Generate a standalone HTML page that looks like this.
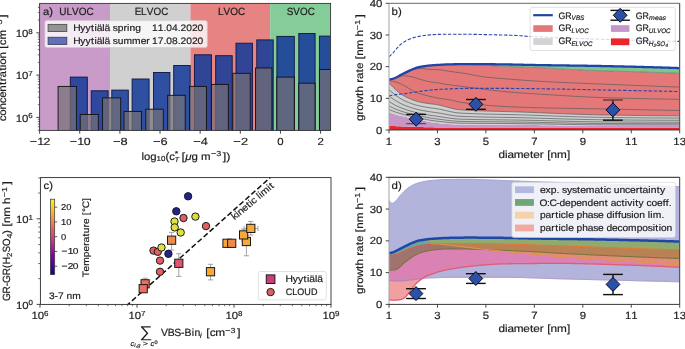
<!DOCTYPE html>
<html><head><meta charset="utf-8"><style>
html,body{margin:0;padding:0;background:#fff;width:685px;height:349px;overflow:hidden}
svg{display:block}
text{font-family:"Liberation Sans",sans-serif}
svg{-webkit-font-smoothing:antialiased;text-rendering:geometricPrecision}
.g{opacity:0.999}
</style></head><body>
<svg width="685" height="349" viewBox="0 0 685 349" style="will-change:transform">
<clipPath id="ca"><rect x="39.6" y="3.4" width="291.00" height="127.00"/></clipPath>
<g clip-path="url(#ca)">
<rect x="39.6" y="3.4" width="70.40" height="127.00" fill="#c99bc9"/>
<rect x="110.0" y="3.4" width="80.40" height="127.00" fill="#d0d0d0"/>
<rect x="190.4" y="3.4" width="79.80" height="127.00" fill="#e68383"/>
<rect x="270.2" y="3.4" width="60.40" height="127.00" fill="#84cc98"/>
<rect x="70.30" y="77.1" width="17.00" height="55.30" fill="rgb(24,60,154)" fill-opacity="0.88" stroke="#0d1540" stroke-width="0.9"/>
<rect x="91.20" y="90.8" width="16.90" height="41.60" fill="rgb(24,60,154)" fill-opacity="0.88" stroke="#0d1540" stroke-width="0.9"/>
<rect x="111.80" y="90.1" width="16.50" height="42.30" fill="rgb(24,60,154)" fill-opacity="0.88" stroke="#0d1540" stroke-width="0.9"/>
<rect x="132.10" y="79.0" width="17.00" height="53.40" fill="rgb(24,60,154)" fill-opacity="0.88" stroke="#0d1540" stroke-width="0.9"/>
<rect x="153.50" y="72.5" width="16.40" height="59.90" fill="rgb(24,60,154)" fill-opacity="0.88" stroke="#0d1540" stroke-width="0.9"/>
<rect x="173.70" y="65.5" width="16.50" height="66.90" fill="rgb(24,60,154)" fill-opacity="0.88" stroke="#0d1540" stroke-width="0.9"/>
<rect x="194.40" y="54.8" width="17.00" height="77.60" fill="rgb(24,60,154)" fill-opacity="0.88" stroke="#0d1540" stroke-width="0.9"/>
<rect x="215.70" y="55.7" width="16.50" height="76.70" fill="rgb(24,60,154)" fill-opacity="0.88" stroke="#0d1540" stroke-width="0.9"/>
<rect x="236.00" y="43.2" width="16.40" height="89.20" fill="rgb(24,60,154)" fill-opacity="0.88" stroke="#0d1540" stroke-width="0.9"/>
<rect x="256.80" y="39.9" width="16.40" height="92.50" fill="rgb(24,60,154)" fill-opacity="0.88" stroke="#0d1540" stroke-width="0.9"/>
<rect x="276.90" y="36.4" width="17.40" height="96.00" fill="rgb(24,60,154)" fill-opacity="0.88" stroke="#0d1540" stroke-width="0.9"/>
<rect x="298.80" y="33.5" width="16.30" height="98.90" fill="rgb(24,60,154)" fill-opacity="0.88" stroke="#0d1540" stroke-width="0.9"/>
<rect x="319.40" y="36.1" width="17.60" height="96.30" fill="rgb(24,60,154)" fill-opacity="0.88" stroke="#0d1540" stroke-width="0.9"/>
<rect x="58.10" y="86.4" width="18.30" height="46.00" fill="rgb(118,112,118)" fill-opacity="0.72" stroke="#111" stroke-width="0.9"/>
<rect x="80.20" y="114.5" width="18.10" height="17.90" fill="rgb(118,112,118)" fill-opacity="0.72" stroke="#111" stroke-width="0.9"/>
<rect x="102.60" y="97.9" width="18.10" height="34.50" fill="rgb(118,112,118)" fill-opacity="0.72" stroke="#111" stroke-width="0.9"/>
<rect x="124.00" y="111.4" width="17.40" height="21.00" fill="rgb(118,112,118)" fill-opacity="0.72" stroke="#111" stroke-width="0.9"/>
<rect x="145.80" y="109.2" width="17.50" height="23.20" fill="rgb(118,112,118)" fill-opacity="0.72" stroke="#111" stroke-width="0.9"/>
<rect x="167.70" y="95.3" width="17.50" height="37.10" fill="rgb(118,112,118)" fill-opacity="0.72" stroke="#111" stroke-width="0.9"/>
<rect x="189.60" y="86.4" width="16.80" height="46.00" fill="rgb(118,112,118)" fill-opacity="0.72" stroke="#111" stroke-width="0.9"/>
<rect x="211.40" y="84.4" width="16.90" height="48.00" fill="rgb(118,112,118)" fill-opacity="0.72" stroke="#111" stroke-width="0.9"/>
<rect x="232.80" y="73.3" width="17.40" height="59.10" fill="rgb(118,112,118)" fill-opacity="0.72" stroke="#111" stroke-width="0.9"/>
<rect x="255.50" y="68.0" width="16.40" height="64.40" fill="rgb(118,112,118)" fill-opacity="0.72" stroke="#111" stroke-width="0.9"/>
<rect x="276.80" y="77.1" width="17.50" height="55.30" fill="rgb(118,112,118)" fill-opacity="0.72" stroke="#111" stroke-width="0.9"/>
<rect x="298.80" y="83.2" width="16.30" height="49.20" fill="rgb(118,112,118)" fill-opacity="0.72" stroke="#111" stroke-width="0.9"/>
<rect x="319.50" y="69.5" width="17.50" height="62.90" fill="rgb(118,112,118)" fill-opacity="0.72" stroke="#111" stroke-width="0.9"/>
</g>
<rect x="39.6" y="3.4" width="291.00" height="127.00" fill="none" stroke="#333" stroke-width="0.9"/>
<line x1="39.60" y1="130.4" x2="39.60" y2="133.70000000000002" stroke="#333" stroke-width="0.9"/>
<text x="25.03 31.36 36.71" y="144.70" font-size="10.45" fill="#1c1c1c" stroke="#1c1c1c" stroke-width="0.17" transform="scale(1.1849,1)">−12</text>
<line x1="79.74" y1="130.4" x2="79.74" y2="133.70000000000002" stroke="#333" stroke-width="0.9"/>
<text x="58.91 65.24 70.58" y="144.70" font-size="10.45" fill="#1c1c1c" stroke="#1c1c1c" stroke-width="0.17" transform="scale(1.1849,1)">−10</text>
<line x1="119.88" y1="130.4" x2="119.88" y2="133.70000000000002" stroke="#333" stroke-width="0.9"/>
<text x="91.73 97.84" y="144.70" font-size="10.45" fill="#1c1c1c" stroke="#1c1c1c" stroke-width="0.16" transform="scale(1.2314,1)">−8</text>
<line x1="160.02" y1="130.4" x2="160.02" y2="133.70000000000002" stroke="#333" stroke-width="0.9"/>
<text x="124.33 130.43" y="144.70" font-size="10.45" fill="#1c1c1c" stroke="#1c1c1c" stroke-width="0.16" transform="scale(1.2314,1)">−6</text>
<line x1="200.16" y1="130.4" x2="200.16" y2="133.70000000000002" stroke="#333" stroke-width="0.9"/>
<text x="156.93 163.03" y="144.70" font-size="10.45" fill="#1c1c1c" stroke="#1c1c1c" stroke-width="0.16" transform="scale(1.2314,1)">−4</text>
<line x1="240.30" y1="130.4" x2="240.30" y2="133.70000000000002" stroke="#333" stroke-width="0.9"/>
<text x="189.53 195.63" y="144.70" font-size="10.45" fill="#1c1c1c" stroke="#1c1c1c" stroke-width="0.16" transform="scale(1.2314,1)">−2</text>
<line x1="280.44" y1="130.4" x2="280.44" y2="133.70000000000002" stroke="#333" stroke-width="0.9"/>
<text x="254.50" y="144.70" font-size="10.45" fill="#1c1c1c" stroke="#1c1c1c" stroke-width="0.18" transform="scale(1.0895,1)">0</text>
<line x1="320.58" y1="130.4" x2="320.58" y2="133.70000000000002" stroke="#333" stroke-width="0.9"/>
<text x="291.34" y="144.70" font-size="10.45" fill="#1c1c1c" stroke="#1c1c1c" stroke-width="0.18" transform="scale(1.0895,1)">2</text>
<line x1="36.300000000000004" y1="117.40" x2="39.6" y2="117.40" stroke="#333" stroke-width="0.9"/>
<g><text x="14.42 20.23" y="121.70" font-size="10.45" fill="#1c1c1c" stroke="#1c1c1c" stroke-width="0.18" transform="scale(1.0895,1)">10</text><text x="26.04" y="118.10" font-size="7.31" fill="#1c1c1c" stroke="#1c1c1c" stroke-width="0.18" transform="scale(1.0895,1)">6</text></g>
<line x1="36.300000000000004" y1="75.10" x2="39.6" y2="75.10" stroke="#333" stroke-width="0.9"/>
<g><text x="14.42 20.23" y="79.40" font-size="10.45" fill="#1c1c1c" stroke="#1c1c1c" stroke-width="0.18" transform="scale(1.0895,1)">10</text><text x="26.04" y="75.80" font-size="7.31" fill="#1c1c1c" stroke="#1c1c1c" stroke-width="0.18" transform="scale(1.0895,1)">7</text></g>
<line x1="36.300000000000004" y1="32.80" x2="39.6" y2="32.80" stroke="#333" stroke-width="0.9"/>
<g><text x="14.42 20.23" y="37.10" font-size="10.45" fill="#1c1c1c" stroke="#1c1c1c" stroke-width="0.18" transform="scale(1.0895,1)">10</text><text x="26.04" y="33.50" font-size="7.31" fill="#1c1c1c" stroke="#1c1c1c" stroke-width="0.18" transform="scale(1.0895,1)">8</text></g>
<line x1="37.800000000000004" y1="130.13" x2="39.6" y2="130.13" stroke="#333" stroke-width="0.7"/>
<line x1="37.800000000000004" y1="126.78" x2="39.6" y2="126.78" stroke="#333" stroke-width="0.7"/>
<line x1="37.800000000000004" y1="123.95" x2="39.6" y2="123.95" stroke="#333" stroke-width="0.7"/>
<line x1="37.800000000000004" y1="121.50" x2="39.6" y2="121.50" stroke="#333" stroke-width="0.7"/>
<line x1="37.800000000000004" y1="119.34" x2="39.6" y2="119.34" stroke="#333" stroke-width="0.7"/>
<line x1="37.800000000000004" y1="104.67" x2="39.6" y2="104.67" stroke="#333" stroke-width="0.7"/>
<line x1="37.800000000000004" y1="97.22" x2="39.6" y2="97.22" stroke="#333" stroke-width="0.7"/>
<line x1="37.800000000000004" y1="91.93" x2="39.6" y2="91.93" stroke="#333" stroke-width="0.7"/>
<line x1="37.800000000000004" y1="87.83" x2="39.6" y2="87.83" stroke="#333" stroke-width="0.7"/>
<line x1="37.800000000000004" y1="84.48" x2="39.6" y2="84.48" stroke="#333" stroke-width="0.7"/>
<line x1="37.800000000000004" y1="81.65" x2="39.6" y2="81.65" stroke="#333" stroke-width="0.7"/>
<line x1="37.800000000000004" y1="79.20" x2="39.6" y2="79.20" stroke="#333" stroke-width="0.7"/>
<line x1="37.800000000000004" y1="77.04" x2="39.6" y2="77.04" stroke="#333" stroke-width="0.7"/>
<line x1="37.800000000000004" y1="62.37" x2="39.6" y2="62.37" stroke="#333" stroke-width="0.7"/>
<line x1="37.800000000000004" y1="54.92" x2="39.6" y2="54.92" stroke="#333" stroke-width="0.7"/>
<line x1="37.800000000000004" y1="49.63" x2="39.6" y2="49.63" stroke="#333" stroke-width="0.7"/>
<line x1="37.800000000000004" y1="45.53" x2="39.6" y2="45.53" stroke="#333" stroke-width="0.7"/>
<line x1="37.800000000000004" y1="42.18" x2="39.6" y2="42.18" stroke="#333" stroke-width="0.7"/>
<line x1="37.800000000000004" y1="39.35" x2="39.6" y2="39.35" stroke="#333" stroke-width="0.7"/>
<line x1="37.800000000000004" y1="36.90" x2="39.6" y2="36.90" stroke="#333" stroke-width="0.7"/>
<line x1="37.800000000000004" y1="34.74" x2="39.6" y2="34.74" stroke="#333" stroke-width="0.7"/>
<line x1="37.800000000000004" y1="20.07" x2="39.6" y2="20.07" stroke="#333" stroke-width="0.7"/>
<line x1="37.800000000000004" y1="12.62" x2="39.6" y2="12.62" stroke="#333" stroke-width="0.7"/>
<line x1="37.800000000000004" y1="7.33" x2="39.6" y2="7.33" stroke="#333" stroke-width="0.7"/>
<text x="40.15 45.96" y="14.90" font-size="10.45" fill="#1c1c1c" stroke="#1c1c1c" stroke-width="0.19" transform="scale(1.0742,1)">a)</text>
<text x="61.96 69.54 75.42 82.49 90.51" y="14.90" font-size="10.45" fill="#1c1c1c" stroke="#1c1c1c" stroke-width="0.21" transform="scale(0.9560,1)">ULVOC</text>
<text x="142.73 149.58 155.54 162.72 170.84" y="14.90" font-size="10.45" fill="#1c1c1c" stroke="#1c1c1c" stroke-width="0.21" transform="scale(0.9434,1)">ELVOC</text>
<text x="228.51 234.41 241.51 249.55" y="14.90" font-size="10.45" fill="#1c1c1c" stroke="#1c1c1c" stroke-width="0.21" transform="scale(0.9536,1)">LVOC</text>
<text x="304.21 311.17 318.36 326.49" y="14.90" font-size="10.45" fill="#1c1c1c" stroke="#1c1c1c" stroke-width="0.21" transform="scale(0.9424,1)">SVOC</text>
<rect x="44.9" y="20.6" width="162.4" height="27" rx="2" fill="#fff" fill-opacity="0.8" stroke="#ccc" stroke-width="0.6"/>
<rect x="48.1" y="24.4" width="18.7" height="7.1" fill="#949496" stroke="#505050" stroke-width="0.9"/>
<rect x="48.1" y="37.3" width="18.7" height="7.1" fill="#6270b8" stroke="#404060" stroke-width="0.9"/>
<text x="66.81 73.33 78.15 83.21 86.20 88.27 93.46 95.53 100.63 103.01 107.46 112.77 116.10 118.25 123.42" y="31.10" font-size="9.38" fill="#1c1c1c" stroke="#1c1c1c" stroke-width="0.18" transform="scale(1.0950,1)">Hyytiälä spring</text>
<text x="139.64 144.86 150.07 152.68 157.89 163.11 165.71 170.93 176.14 181.36" y="31.10" font-size="9.38" fill="#1c1c1c" stroke="#1c1c1c" stroke-width="0.18" transform="scale(1.0895,1)">11.04.2020</text>
<text x="66.84 73.37 78.20 83.25 86.25 88.31 93.51 95.58 100.68 103.06 107.51 112.77 120.72 128.51 133.74" y="43.90" font-size="9.38" fill="#1c1c1c" stroke="#1c1c1c" stroke-width="0.18" transform="scale(1.0944,1)">Hyytiälä summer</text>
<text x="139.64 144.86 150.07 152.68 157.89 163.11 165.71 170.93 176.14 181.36" y="43.90" font-size="9.38" fill="#1c1c1c" stroke="#1c1c1c" stroke-width="0.18" transform="scale(1.0895,1)">17.08.2020</text>
<g><text x="130.09 132.41 138.11" y="159.50" font-size="10.45" fill="#1c1c1c" stroke="#1c1c1c" stroke-width="0.18" transform="scale(1.0879,1)">log</text><text x="143.71 147.77" y="161.30" font-size="7.31" fill="#1c1c1c" stroke="#1c1c1c" stroke-width="0.18" transform="scale(1.0895,1)">10</text><text x="154.00 157.48" y="159.50" font-size="10.45" fill="#1c1c1c" stroke="#1c1c1c" stroke-width="0.19" transform="scale(1.0747,1)">(c</text><text x="142.83" y="155.50" font-size="7.31" fill="#1c1c1c" stroke="#1c1c1c" stroke-width="0.16" transform="scale(1.2237,1)">*</text><text x="183.52" y="161.70" font-size="7.31" fill="#1c1c1c" stroke="#1c1c1c" stroke-width="0.21" font-style="italic" transform="scale(0.9524,1)">T</text><text x="145.17" y="159.50" font-size="10.45" fill="#1c1c1c" stroke="#1c1c1c" stroke-width="0.16" transform="scale(1.2500,1)">[</text><text x="167.47" y="159.50" font-size="10.45" fill="#1c1c1c" stroke="#1c1c1c" stroke-width="0.18" font-style="italic" transform="scale(1.1060,1)">μ</text><text x="173.98 179.74 182.67" y="159.50" font-size="10.45" fill="#1c1c1c" stroke="#1c1c1c" stroke-width="0.18" transform="scale(1.1008,1)">g m</text><text x="171.36 175.63" y="155.90" font-size="7.31" fill="#1c1c1c" stroke="#1c1c1c" stroke-width="0.16" transform="scale(1.2314,1)">−3</text><text x="183.11 186.01" y="159.50" font-size="10.45" fill="#1c1c1c" stroke="#1c1c1c" stroke-width="0.16" transform="scale(1.2166,1)">])</text></g>
<g transform="rotate(-90 6.00 67.60)"><text x="-43.06 -38.13 -32.52 -26.90 -21.94 -16.32 -10.25 -6.92 -3.48 2.50 5.81 8.07 13.68 19.42 22.60 25.67 30.80" y="67.60" font-size="10.45" fill="#1c1c1c" stroke="#1c1c1c" stroke-width="0.18" transform="scale(1.1051,1)">concentration [cm</text><text x="35.71 39.98" y="64.00" font-size="7.31" fill="#1c1c1c" stroke="#1c1c1c" stroke-width="0.16" transform="scale(1.2314,1)">−3</text><text x="44.54" y="67.60" font-size="10.45" fill="#1c1c1c" stroke="#1c1c1c" stroke-width="0.16" transform="scale(1.2500,1)">]</text></g>
<clipPath id="cb"><rect x="389.0" y="3.3" width="290.70" height="126.70"/></clipPath>
<g clip-path="url(#cb)">
<path d="M389.0,125.80 L390.0,125.85 L391.0,125.91 L392.0,125.96 L393.0,126.01 L394.0,126.06 L395.0,126.11 L396.0,126.16 L397.0,126.20 L398.0,126.25 L399.0,126.29 L400.0,126.34 L401.0,126.38 L402.0,126.42 L403.0,126.46 L404.0,126.50 L405.0,126.54 L406.0,126.58 L407.0,126.61 L408.0,126.65 L409.0,126.68 L410.0,126.71 L411.0,126.75 L412.0,126.78 L413.0,126.81 L414.0,126.84 L415.0,126.87 L416.0,126.90 L417.0,126.93 L418.0,126.96 L419.0,126.99 L420.0,127.02 L421.0,127.05 L422.0,127.08 L423.0,127.11 L424.0,127.13 L425.0,127.16 L426.0,127.19 L427.0,127.22 L428.0,127.24 L429.0,127.27 L430.0,127.29 L431.0,127.31 L432.0,127.33 L433.0,127.35 L434.0,127.37 L435.0,127.39 L436.0,127.40 L437.0,127.41 L438.0,127.43 L439.0,127.44 L440.0,127.45 L441.0,127.46 L442.0,127.47 L443.0,127.49 L444.0,127.50 L445.0,127.51 L446.0,127.52 L447.0,127.53 L448.0,127.54 L449.0,127.55 L450.0,127.56 L451.0,127.56 L452.0,127.57 L453.0,127.58 L454.0,127.58 L455.0,127.59 L456.0,127.59 L457.0,127.60 L458.0,127.60 L459.0,127.60 L460.0,127.60 L461.0,127.60 L462.0,127.60 L463.0,127.60 L464.0,127.60 L465.0,127.60 L466.0,127.60 L467.0,127.60 L468.0,127.60 L469.0,127.60 L470.0,127.60 L471.0,127.60 L472.0,127.60 L473.0,127.60 L474.0,127.60 L475.0,127.60 L476.0,127.60 L477.0,127.60 L478.0,127.60 L479.0,127.60 L480.0,127.60 L481.0,127.60 L482.0,127.60 L483.0,127.60 L484.0,127.60 L485.0,127.60 L486.0,127.60 L487.0,127.60 L488.0,127.60 L489.0,127.60 L490.0,127.60 L491.0,127.60 L492.0,127.60 L493.0,127.60 L494.0,127.60 L495.0,127.60 L496.0,127.60 L497.0,127.60 L498.0,127.60 L499.0,127.60 L500.0,127.60 L501.0,127.60 L502.0,127.60 L503.0,127.60 L504.0,127.60 L505.0,127.60 L506.0,127.60 L507.0,127.60 L508.0,127.60 L509.0,127.60 L510.0,127.60 L511.0,127.60 L512.0,127.60 L513.0,127.60 L514.0,127.60 L515.0,127.60 L516.0,127.60 L517.0,127.60 L518.0,127.60 L519.0,127.60 L520.0,127.60 L521.0,127.60 L522.0,127.60 L523.0,127.60 L524.0,127.60 L525.0,127.60 L526.0,127.60 L527.0,127.60 L528.0,127.60 L529.0,127.60 L530.0,127.60 L531.0,127.60 L532.0,127.60 L533.0,127.60 L534.0,127.60 L535.0,127.60 L536.0,127.60 L537.0,127.60 L538.0,127.60 L539.0,127.60 L540.0,127.60 L541.0,127.60 L542.0,127.59 L543.0,127.59 L544.0,127.59 L545.0,127.59 L546.0,127.59 L547.0,127.59 L548.0,127.59 L549.0,127.59 L550.0,127.59 L551.0,127.59 L552.0,127.59 L553.0,127.59 L554.0,127.59 L555.0,127.59 L556.0,127.59 L557.0,127.59 L558.0,127.59 L559.0,127.59 L560.0,127.59 L561.0,127.59 L562.0,127.59 L563.0,127.59 L564.0,127.59 L565.0,127.59 L566.0,127.59 L567.0,127.59 L568.0,127.59 L569.0,127.59 L570.0,127.59 L571.0,127.59 L572.0,127.59 L573.0,127.59 L574.0,127.59 L575.0,127.59 L576.0,127.59 L577.0,127.58 L578.0,127.58 L579.0,127.58 L580.0,127.58 L581.0,127.58 L582.0,127.58 L583.0,127.58 L584.0,127.58 L585.0,127.58 L586.0,127.58 L587.0,127.58 L588.0,127.58 L589.0,127.58 L590.0,127.58 L591.0,127.58 L592.0,127.58 L593.0,127.58 L594.0,127.58 L595.0,127.58 L596.0,127.58 L597.0,127.58 L598.0,127.58 L599.0,127.57 L600.0,127.57 L601.0,127.57 L602.0,127.57 L603.0,127.57 L604.0,127.57 L605.0,127.57 L606.0,127.57 L607.0,127.57 L608.0,127.57 L609.0,127.57 L610.0,127.57 L611.0,127.57 L612.0,127.57 L613.0,127.57 L614.0,127.57 L615.0,127.57 L616.0,127.56 L617.0,127.56 L618.0,127.56 L619.0,127.56 L620.0,127.56 L621.0,127.56 L622.0,127.56 L623.0,127.56 L624.0,127.56 L625.0,127.56 L626.0,127.56 L627.0,127.56 L628.0,127.56 L629.0,127.55 L630.0,127.55 L631.0,127.55 L632.0,127.55 L633.0,127.55 L634.0,127.55 L635.0,127.55 L636.0,127.55 L637.0,127.55 L638.0,127.55 L639.0,127.55 L640.0,127.55 L641.0,127.54 L642.0,127.54 L643.0,127.54 L644.0,127.54 L645.0,127.54 L646.0,127.54 L647.0,127.54 L648.0,127.54 L649.0,127.54 L650.0,127.54 L651.0,127.53 L652.0,127.53 L653.0,127.53 L654.0,127.53 L655.0,127.53 L656.0,127.53 L657.0,127.53 L658.0,127.53 L659.0,127.53 L660.0,127.52 L661.0,127.52 L662.0,127.52 L663.0,127.52 L664.0,127.52 L665.0,127.52 L666.0,127.52 L667.0,127.52 L668.0,127.52 L669.0,127.51 L670.0,127.51 L671.0,127.51 L672.0,127.51 L673.0,127.51 L674.0,127.51 L675.0,127.51 L676.0,127.51 L677.0,127.50 L678.0,127.50 L679.0,127.50 L679.0,132.00 L678.0,132.00 L677.0,132.00 L676.0,132.00 L675.0,132.00 L674.0,132.00 L673.0,132.00 L672.0,132.00 L671.0,132.00 L670.0,132.00 L669.0,132.00 L668.0,132.00 L667.0,132.00 L666.0,132.00 L665.0,132.00 L664.0,132.00 L663.0,132.00 L662.0,132.00 L661.0,132.00 L660.0,132.00 L659.0,132.00 L658.0,132.00 L657.0,132.00 L656.0,132.00 L655.0,132.00 L654.0,132.00 L653.0,132.00 L652.0,132.00 L651.0,132.00 L650.0,132.00 L649.0,132.00 L648.0,132.00 L647.0,132.00 L646.0,132.00 L645.0,132.00 L644.0,132.00 L643.0,132.00 L642.0,132.00 L641.0,132.00 L640.0,132.00 L639.0,132.00 L638.0,132.00 L637.0,132.00 L636.0,132.00 L635.0,132.00 L634.0,132.00 L633.0,132.00 L632.0,132.00 L631.0,132.00 L630.0,132.00 L629.0,132.00 L628.0,132.00 L627.0,132.00 L626.0,132.00 L625.0,132.00 L624.0,132.00 L623.0,132.00 L622.0,132.00 L621.0,132.00 L620.0,132.00 L619.0,132.00 L618.0,132.00 L617.0,132.00 L616.0,132.00 L615.0,132.00 L614.0,132.00 L613.0,132.00 L612.0,132.00 L611.0,132.00 L610.0,132.00 L609.0,132.00 L608.0,132.00 L607.0,132.00 L606.0,132.00 L605.0,132.00 L604.0,132.00 L603.0,132.00 L602.0,132.00 L601.0,132.00 L600.0,132.00 L599.0,132.00 L598.0,132.00 L597.0,132.00 L596.0,132.00 L595.0,132.00 L594.0,132.00 L593.0,132.00 L592.0,132.00 L591.0,132.00 L590.0,132.00 L589.0,132.00 L588.0,132.00 L587.0,132.00 L586.0,132.00 L585.0,132.00 L584.0,132.00 L583.0,132.00 L582.0,132.00 L581.0,132.00 L580.0,132.00 L579.0,132.00 L578.0,132.00 L577.0,132.00 L576.0,132.00 L575.0,132.00 L574.0,132.00 L573.0,132.00 L572.0,132.00 L571.0,132.00 L570.0,132.00 L569.0,132.00 L568.0,132.00 L567.0,132.00 L566.0,132.00 L565.0,132.00 L564.0,132.00 L563.0,132.00 L562.0,132.00 L561.0,132.00 L560.0,132.00 L559.0,132.00 L558.0,132.00 L557.0,132.00 L556.0,132.00 L555.0,132.00 L554.0,132.00 L553.0,132.00 L552.0,132.00 L551.0,132.00 L550.0,132.00 L549.0,132.00 L548.0,132.00 L547.0,132.00 L546.0,132.00 L545.0,132.00 L544.0,132.00 L543.0,132.00 L542.0,132.00 L541.0,132.00 L540.0,132.00 L539.0,132.00 L538.0,132.00 L537.0,132.00 L536.0,132.00 L535.0,132.00 L534.0,132.00 L533.0,132.00 L532.0,132.00 L531.0,132.00 L530.0,132.00 L529.0,132.00 L528.0,132.00 L527.0,132.00 L526.0,132.00 L525.0,132.00 L524.0,132.00 L523.0,132.00 L522.0,132.00 L521.0,132.00 L520.0,132.00 L519.0,132.00 L518.0,132.00 L517.0,132.00 L516.0,132.00 L515.0,132.00 L514.0,132.00 L513.0,132.00 L512.0,132.00 L511.0,132.00 L510.0,132.00 L509.0,132.00 L508.0,132.00 L507.0,132.00 L506.0,132.00 L505.0,132.00 L504.0,132.00 L503.0,132.00 L502.0,132.00 L501.0,132.00 L500.0,132.00 L499.0,132.00 L498.0,132.00 L497.0,132.00 L496.0,132.00 L495.0,132.00 L494.0,132.00 L493.0,132.00 L492.0,132.00 L491.0,132.00 L490.0,132.00 L489.0,132.00 L488.0,132.00 L487.0,132.00 L486.0,132.00 L485.0,132.00 L484.0,132.00 L483.0,132.00 L482.0,132.00 L481.0,132.00 L480.0,132.00 L479.0,132.00 L478.0,132.00 L477.0,132.00 L476.0,132.00 L475.0,132.00 L474.0,132.00 L473.0,132.00 L472.0,132.00 L471.0,132.00 L470.0,132.00 L469.0,132.00 L468.0,132.00 L467.0,132.00 L466.0,132.00 L465.0,132.00 L464.0,132.00 L463.0,132.00 L462.0,132.00 L461.0,132.00 L460.0,132.00 L459.0,132.00 L458.0,132.00 L457.0,132.00 L456.0,132.00 L455.0,132.00 L454.0,132.00 L453.0,132.00 L452.0,132.00 L451.0,132.00 L450.0,132.00 L449.0,132.00 L448.0,132.00 L447.0,132.00 L446.0,132.00 L445.0,132.00 L444.0,132.00 L443.0,132.00 L442.0,132.00 L441.0,132.00 L440.0,132.00 L439.0,132.00 L438.0,132.00 L437.0,132.00 L436.0,132.00 L435.0,132.00 L434.0,132.00 L433.0,132.00 L432.0,132.00 L431.0,132.00 L430.0,132.00 L429.0,132.00 L428.0,132.00 L427.0,132.00 L426.0,132.00 L425.0,132.00 L424.0,132.00 L423.0,132.00 L422.0,132.00 L421.0,132.00 L420.0,132.00 L419.0,132.00 L418.0,132.00 L417.0,132.00 L416.0,132.00 L415.0,132.00 L414.0,132.00 L413.0,132.00 L412.0,132.00 L411.0,132.00 L410.0,132.00 L409.0,132.00 L408.0,132.00 L407.0,132.00 L406.0,132.00 L405.0,132.00 L404.0,132.00 L403.0,132.00 L402.0,132.00 L401.0,132.00 L400.0,132.00 L399.0,132.00 L398.0,132.00 L397.0,132.00 L396.0,132.00 L395.0,132.00 L394.0,132.00 L393.0,132.00 L392.0,132.00 L391.0,132.00 L390.0,132.00 L389.0,132.00 Z" fill="#e8262b"/>
<path d="M389.0,112.40 L390.0,112.76 L391.0,113.12 L392.0,113.46 L393.0,113.79 L394.0,114.11 L395.0,114.40 L396.0,114.68 L397.0,114.94 L398.0,115.20 L399.0,115.44 L400.0,115.68 L401.0,115.91 L402.0,116.14 L403.0,116.37 L404.0,116.60 L405.0,116.83 L406.0,117.06 L407.0,117.29 L408.0,117.51 L409.0,117.74 L410.0,117.96 L411.0,118.17 L412.0,118.39 L413.0,118.60 L414.0,118.81 L415.0,119.01 L416.0,119.22 L417.0,119.42 L418.0,119.61 L419.0,119.81 L420.0,120.00 L421.0,120.19 L422.0,120.39 L423.0,120.60 L424.0,120.81 L425.0,121.01 L426.0,121.22 L427.0,121.42 L428.0,121.62 L429.0,121.82 L430.0,122.01 L431.0,122.19 L432.0,122.35 L433.0,122.51 L434.0,122.66 L435.0,122.79 L436.0,122.90 L437.0,123.00 L438.0,123.11 L439.0,123.21 L440.0,123.31 L441.0,123.41 L442.0,123.51 L443.0,123.60 L444.0,123.69 L445.0,123.78 L446.0,123.87 L447.0,123.95 L448.0,124.03 L449.0,124.11 L450.0,124.18 L451.0,124.25 L452.0,124.31 L453.0,124.36 L454.0,124.42 L455.0,124.46 L456.0,124.50 L457.0,124.54 L458.0,124.56 L459.0,124.59 L460.0,124.60 L461.0,124.61 L462.0,124.62 L463.0,124.63 L464.0,124.64 L465.0,124.65 L466.0,124.66 L467.0,124.66 L468.0,124.67 L469.0,124.68 L470.0,124.69 L471.0,124.69 L472.0,124.70 L473.0,124.71 L474.0,124.71 L475.0,124.72 L476.0,124.72 L477.0,124.73 L478.0,124.73 L479.0,124.74 L480.0,124.74 L481.0,124.75 L482.0,124.75 L483.0,124.75 L484.0,124.76 L485.0,124.76 L486.0,124.76 L487.0,124.77 L488.0,124.77 L489.0,124.77 L490.0,124.78 L491.0,124.78 L492.0,124.78 L493.0,124.79 L494.0,124.79 L495.0,124.79 L496.0,124.80 L497.0,124.80 L498.0,124.80 L499.0,124.80 L500.0,124.81 L501.0,124.81 L502.0,124.81 L503.0,124.82 L504.0,124.82 L505.0,124.82 L506.0,124.83 L507.0,124.83 L508.0,124.84 L509.0,124.84 L510.0,124.84 L511.0,124.85 L512.0,124.85 L513.0,124.86 L514.0,124.86 L515.0,124.87 L516.0,124.87 L517.0,124.88 L518.0,124.89 L519.0,124.89 L520.0,124.90 L521.0,124.91 L522.0,124.92 L523.0,124.92 L524.0,124.93 L525.0,124.94 L526.0,124.95 L527.0,124.96 L528.0,124.97 L529.0,124.98 L530.0,124.99 L531.0,125.01 L532.0,125.02 L533.0,125.03 L534.0,125.04 L535.0,125.06 L536.0,125.07 L537.0,125.08 L538.0,125.10 L539.0,125.11 L540.0,125.13 L541.0,125.14 L542.0,125.16 L543.0,125.17 L544.0,125.19 L545.0,125.20 L546.0,125.22 L547.0,125.23 L548.0,125.25 L549.0,125.27 L550.0,125.28 L551.0,125.30 L552.0,125.32 L553.0,125.33 L554.0,125.35 L555.0,125.36 L556.0,125.38 L557.0,125.40 L558.0,125.41 L559.0,125.43 L560.0,125.45 L561.0,125.46 L562.0,125.48 L563.0,125.50 L564.0,125.51 L565.0,125.53 L566.0,125.54 L567.0,125.56 L568.0,125.58 L569.0,125.59 L570.0,125.61 L571.0,125.62 L572.0,125.64 L573.0,125.65 L574.0,125.66 L575.0,125.68 L576.0,125.69 L577.0,125.71 L578.0,125.72 L579.0,125.73 L580.0,125.74 L581.0,125.76 L582.0,125.77 L583.0,125.78 L584.0,125.79 L585.0,125.80 L586.0,125.81 L587.0,125.82 L588.0,125.83 L589.0,125.84 L590.0,125.85 L591.0,125.86 L592.0,125.86 L593.0,125.87 L594.0,125.88 L595.0,125.88 L596.0,125.89 L597.0,125.89 L598.0,125.89 L599.0,125.90 L600.0,125.90 L601.0,125.90 L602.0,125.90 L603.0,125.91 L604.0,125.91 L605.0,125.91 L606.0,125.91 L607.0,125.92 L608.0,125.92 L609.0,125.92 L610.0,125.92 L611.0,125.92 L612.0,125.93 L613.0,125.93 L614.0,125.93 L615.0,125.93 L616.0,125.93 L617.0,125.94 L618.0,125.94 L619.0,125.94 L620.0,125.94 L621.0,125.94 L622.0,125.94 L623.0,125.95 L624.0,125.95 L625.0,125.95 L626.0,125.95 L627.0,125.95 L628.0,125.96 L629.0,125.96 L630.0,125.96 L631.0,125.96 L632.0,125.96 L633.0,125.96 L634.0,125.96 L635.0,125.97 L636.0,125.97 L637.0,125.97 L638.0,125.97 L639.0,125.97 L640.0,125.97 L641.0,125.97 L642.0,125.98 L643.0,125.98 L644.0,125.98 L645.0,125.98 L646.0,125.98 L647.0,125.98 L648.0,125.98 L649.0,125.98 L650.0,125.98 L651.0,125.99 L652.0,125.99 L653.0,125.99 L654.0,125.99 L655.0,125.99 L656.0,125.99 L657.0,125.99 L658.0,125.99 L659.0,125.99 L660.0,125.99 L661.0,125.99 L662.0,125.99 L663.0,125.99 L664.0,126.00 L665.0,126.00 L666.0,126.00 L667.0,126.00 L668.0,126.00 L669.0,126.00 L670.0,126.00 L671.0,126.00 L672.0,126.00 L673.0,126.00 L674.0,126.00 L675.0,126.00 L676.0,126.00 L677.0,126.00 L678.0,126.00 L679.0,126.00 L679.0,127.50 L678.0,127.50 L677.0,127.50 L676.0,127.51 L675.0,127.51 L674.0,127.51 L673.0,127.51 L672.0,127.51 L671.0,127.51 L670.0,127.51 L669.0,127.51 L668.0,127.52 L667.0,127.52 L666.0,127.52 L665.0,127.52 L664.0,127.52 L663.0,127.52 L662.0,127.52 L661.0,127.52 L660.0,127.52 L659.0,127.53 L658.0,127.53 L657.0,127.53 L656.0,127.53 L655.0,127.53 L654.0,127.53 L653.0,127.53 L652.0,127.53 L651.0,127.53 L650.0,127.54 L649.0,127.54 L648.0,127.54 L647.0,127.54 L646.0,127.54 L645.0,127.54 L644.0,127.54 L643.0,127.54 L642.0,127.54 L641.0,127.54 L640.0,127.55 L639.0,127.55 L638.0,127.55 L637.0,127.55 L636.0,127.55 L635.0,127.55 L634.0,127.55 L633.0,127.55 L632.0,127.55 L631.0,127.55 L630.0,127.55 L629.0,127.55 L628.0,127.56 L627.0,127.56 L626.0,127.56 L625.0,127.56 L624.0,127.56 L623.0,127.56 L622.0,127.56 L621.0,127.56 L620.0,127.56 L619.0,127.56 L618.0,127.56 L617.0,127.56 L616.0,127.56 L615.0,127.57 L614.0,127.57 L613.0,127.57 L612.0,127.57 L611.0,127.57 L610.0,127.57 L609.0,127.57 L608.0,127.57 L607.0,127.57 L606.0,127.57 L605.0,127.57 L604.0,127.57 L603.0,127.57 L602.0,127.57 L601.0,127.57 L600.0,127.57 L599.0,127.57 L598.0,127.58 L597.0,127.58 L596.0,127.58 L595.0,127.58 L594.0,127.58 L593.0,127.58 L592.0,127.58 L591.0,127.58 L590.0,127.58 L589.0,127.58 L588.0,127.58 L587.0,127.58 L586.0,127.58 L585.0,127.58 L584.0,127.58 L583.0,127.58 L582.0,127.58 L581.0,127.58 L580.0,127.58 L579.0,127.58 L578.0,127.58 L577.0,127.58 L576.0,127.59 L575.0,127.59 L574.0,127.59 L573.0,127.59 L572.0,127.59 L571.0,127.59 L570.0,127.59 L569.0,127.59 L568.0,127.59 L567.0,127.59 L566.0,127.59 L565.0,127.59 L564.0,127.59 L563.0,127.59 L562.0,127.59 L561.0,127.59 L560.0,127.59 L559.0,127.59 L558.0,127.59 L557.0,127.59 L556.0,127.59 L555.0,127.59 L554.0,127.59 L553.0,127.59 L552.0,127.59 L551.0,127.59 L550.0,127.59 L549.0,127.59 L548.0,127.59 L547.0,127.59 L546.0,127.59 L545.0,127.59 L544.0,127.59 L543.0,127.59 L542.0,127.59 L541.0,127.60 L540.0,127.60 L539.0,127.60 L538.0,127.60 L537.0,127.60 L536.0,127.60 L535.0,127.60 L534.0,127.60 L533.0,127.60 L532.0,127.60 L531.0,127.60 L530.0,127.60 L529.0,127.60 L528.0,127.60 L527.0,127.60 L526.0,127.60 L525.0,127.60 L524.0,127.60 L523.0,127.60 L522.0,127.60 L521.0,127.60 L520.0,127.60 L519.0,127.60 L518.0,127.60 L517.0,127.60 L516.0,127.60 L515.0,127.60 L514.0,127.60 L513.0,127.60 L512.0,127.60 L511.0,127.60 L510.0,127.60 L509.0,127.60 L508.0,127.60 L507.0,127.60 L506.0,127.60 L505.0,127.60 L504.0,127.60 L503.0,127.60 L502.0,127.60 L501.0,127.60 L500.0,127.60 L499.0,127.60 L498.0,127.60 L497.0,127.60 L496.0,127.60 L495.0,127.60 L494.0,127.60 L493.0,127.60 L492.0,127.60 L491.0,127.60 L490.0,127.60 L489.0,127.60 L488.0,127.60 L487.0,127.60 L486.0,127.60 L485.0,127.60 L484.0,127.60 L483.0,127.60 L482.0,127.60 L481.0,127.60 L480.0,127.60 L479.0,127.60 L478.0,127.60 L477.0,127.60 L476.0,127.60 L475.0,127.60 L474.0,127.60 L473.0,127.60 L472.0,127.60 L471.0,127.60 L470.0,127.60 L469.0,127.60 L468.0,127.60 L467.0,127.60 L466.0,127.60 L465.0,127.60 L464.0,127.60 L463.0,127.60 L462.0,127.60 L461.0,127.60 L460.0,127.60 L459.0,127.60 L458.0,127.60 L457.0,127.60 L456.0,127.59 L455.0,127.59 L454.0,127.58 L453.0,127.58 L452.0,127.57 L451.0,127.56 L450.0,127.56 L449.0,127.55 L448.0,127.54 L447.0,127.53 L446.0,127.52 L445.0,127.51 L444.0,127.50 L443.0,127.49 L442.0,127.47 L441.0,127.46 L440.0,127.45 L439.0,127.44 L438.0,127.43 L437.0,127.41 L436.0,127.40 L435.0,127.39 L434.0,127.37 L433.0,127.35 L432.0,127.33 L431.0,127.31 L430.0,127.29 L429.0,127.27 L428.0,127.24 L427.0,127.22 L426.0,127.19 L425.0,127.16 L424.0,127.13 L423.0,127.11 L422.0,127.08 L421.0,127.05 L420.0,127.02 L419.0,126.99 L418.0,126.96 L417.0,126.93 L416.0,126.90 L415.0,126.87 L414.0,126.84 L413.0,126.81 L412.0,126.78 L411.0,126.75 L410.0,126.71 L409.0,126.68 L408.0,126.65 L407.0,126.61 L406.0,126.58 L405.0,126.54 L404.0,126.50 L403.0,126.46 L402.0,126.42 L401.0,126.38 L400.0,126.34 L399.0,126.29 L398.0,126.25 L397.0,126.20 L396.0,126.16 L395.0,126.11 L394.0,126.06 L393.0,126.01 L392.0,125.96 L391.0,125.91 L390.0,125.85 L389.0,125.80 Z" fill="#c796c9"/>
<path d="M389.0,83.00 L390.0,84.10 L391.0,85.17 L392.0,86.20 L393.0,87.20 L394.0,88.17 L395.0,89.10 L396.0,90.00 L397.0,90.87 L398.0,91.71 L399.0,92.52 L400.0,93.29 L401.0,94.00 L402.0,94.67 L403.0,95.32 L404.0,95.93 L405.0,96.49 L406.0,97.00 L407.0,97.48 L408.0,97.94 L409.0,98.39 L410.0,98.82 L411.0,99.24 L412.0,99.64 L413.0,100.02 L414.0,100.38 L415.0,100.72 L416.0,101.04 L417.0,101.33 L418.0,101.60 L419.0,101.85 L420.0,102.08 L421.0,102.29 L422.0,102.50 L423.0,102.69 L424.0,102.86 L425.0,103.04 L426.0,103.20 L427.0,103.35 L428.0,103.49 L429.0,103.63 L430.0,103.75 L431.0,103.87 L432.0,103.99 L433.0,104.11 L434.0,104.24 L435.0,104.37 L436.0,104.52 L437.0,104.68 L438.0,104.87 L439.0,105.07 L440.0,105.29 L441.0,105.52 L442.0,105.77 L443.0,106.03 L444.0,106.30 L445.0,106.57 L446.0,106.85 L447.0,107.12 L448.0,107.40 L449.0,107.67 L450.0,107.94 L451.0,108.20 L452.0,108.45 L453.0,108.68 L454.0,108.91 L455.0,109.11 L456.0,109.30 L457.0,109.46 L458.0,109.60 L459.0,109.71 L460.0,109.80 L461.0,109.87 L462.0,109.94 L463.0,110.00 L464.0,110.06 L465.0,110.12 L466.0,110.18 L467.0,110.24 L468.0,110.30 L469.0,110.35 L470.0,110.40 L471.0,110.45 L472.0,110.50 L473.0,110.54 L474.0,110.59 L475.0,110.63 L476.0,110.68 L477.0,110.72 L478.0,110.76 L479.0,110.80 L480.0,110.83 L481.0,110.87 L482.0,110.90 L483.0,110.94 L484.0,110.97 L485.0,111.00 L486.0,111.03 L487.0,111.07 L488.0,111.10 L489.0,111.12 L490.0,111.15 L491.0,111.18 L492.0,111.21 L493.0,111.24 L494.0,111.26 L495.0,111.29 L496.0,111.32 L497.0,111.34 L498.0,111.37 L499.0,111.39 L500.0,111.42 L501.0,111.44 L502.0,111.47 L503.0,111.49 L504.0,111.52 L505.0,111.55 L506.0,111.57 L507.0,111.60 L508.0,111.63 L509.0,111.65 L510.0,111.68 L511.0,111.71 L512.0,111.74 L513.0,111.77 L514.0,111.80 L515.0,111.83 L516.0,111.86 L517.0,111.90 L518.0,111.93 L519.0,111.96 L520.0,112.00 L521.0,112.04 L522.0,112.07 L523.0,112.11 L524.0,112.15 L525.0,112.19 L526.0,112.23 L527.0,112.27 L528.0,112.31 L529.0,112.34 L530.0,112.39 L531.0,112.43 L532.0,112.47 L533.0,112.51 L534.0,112.55 L535.0,112.59 L536.0,112.63 L537.0,112.67 L538.0,112.71 L539.0,112.76 L540.0,112.80 L541.0,112.84 L542.0,112.88 L543.0,112.93 L544.0,112.97 L545.0,113.01 L546.0,113.05 L547.0,113.10 L548.0,113.14 L549.0,113.18 L550.0,113.22 L551.0,113.27 L552.0,113.31 L553.0,113.35 L554.0,113.39 L555.0,113.44 L556.0,113.48 L557.0,113.52 L558.0,113.56 L559.0,113.60 L560.0,113.64 L561.0,113.68 L562.0,113.72 L563.0,113.76 L564.0,113.80 L565.0,113.84 L566.0,113.88 L567.0,113.92 L568.0,113.96 L569.0,114.00 L570.0,114.04 L571.0,114.08 L572.0,114.11 L573.0,114.15 L574.0,114.18 L575.0,114.22 L576.0,114.26 L577.0,114.29 L578.0,114.32 L579.0,114.36 L580.0,114.39 L581.0,114.42 L582.0,114.45 L583.0,114.49 L584.0,114.52 L585.0,114.55 L586.0,114.57 L587.0,114.60 L588.0,114.63 L589.0,114.66 L590.0,114.68 L591.0,114.71 L592.0,114.73 L593.0,114.76 L594.0,114.78 L595.0,114.80 L596.0,114.82 L597.0,114.84 L598.0,114.86 L599.0,114.88 L600.0,114.90 L601.0,114.92 L602.0,114.93 L603.0,114.95 L604.0,114.97 L605.0,114.99 L606.0,115.00 L607.0,115.02 L608.0,115.04 L609.0,115.05 L610.0,115.07 L611.0,115.09 L612.0,115.10 L613.0,115.12 L614.0,115.14 L615.0,115.15 L616.0,115.17 L617.0,115.19 L618.0,115.20 L619.0,115.22 L620.0,115.23 L621.0,115.25 L622.0,115.27 L623.0,115.28 L624.0,115.30 L625.0,115.31 L626.0,115.33 L627.0,115.34 L628.0,115.36 L629.0,115.37 L630.0,115.39 L631.0,115.40 L632.0,115.41 L633.0,115.43 L634.0,115.44 L635.0,115.46 L636.0,115.47 L637.0,115.48 L638.0,115.50 L639.0,115.51 L640.0,115.52 L641.0,115.53 L642.0,115.55 L643.0,115.56 L644.0,115.57 L645.0,115.58 L646.0,115.59 L647.0,115.60 L648.0,115.62 L649.0,115.63 L650.0,115.64 L651.0,115.65 L652.0,115.66 L653.0,115.67 L654.0,115.67 L655.0,115.68 L656.0,115.69 L657.0,115.70 L658.0,115.71 L659.0,115.72 L660.0,115.72 L661.0,115.73 L662.0,115.74 L663.0,115.74 L664.0,115.75 L665.0,115.76 L666.0,115.76 L667.0,115.77 L668.0,115.77 L669.0,115.78 L670.0,115.78 L671.0,115.78 L672.0,115.79 L673.0,115.79 L674.0,115.79 L675.0,115.79 L676.0,115.80 L677.0,115.80 L678.0,115.80 L679.0,115.80 L679.0,126.00 L678.0,126.00 L677.0,126.00 L676.0,126.00 L675.0,126.00 L674.0,126.00 L673.0,126.00 L672.0,126.00 L671.0,126.00 L670.0,126.00 L669.0,126.00 L668.0,126.00 L667.0,126.00 L666.0,126.00 L665.0,126.00 L664.0,126.00 L663.0,125.99 L662.0,125.99 L661.0,125.99 L660.0,125.99 L659.0,125.99 L658.0,125.99 L657.0,125.99 L656.0,125.99 L655.0,125.99 L654.0,125.99 L653.0,125.99 L652.0,125.99 L651.0,125.99 L650.0,125.98 L649.0,125.98 L648.0,125.98 L647.0,125.98 L646.0,125.98 L645.0,125.98 L644.0,125.98 L643.0,125.98 L642.0,125.98 L641.0,125.97 L640.0,125.97 L639.0,125.97 L638.0,125.97 L637.0,125.97 L636.0,125.97 L635.0,125.97 L634.0,125.96 L633.0,125.96 L632.0,125.96 L631.0,125.96 L630.0,125.96 L629.0,125.96 L628.0,125.96 L627.0,125.95 L626.0,125.95 L625.0,125.95 L624.0,125.95 L623.0,125.95 L622.0,125.94 L621.0,125.94 L620.0,125.94 L619.0,125.94 L618.0,125.94 L617.0,125.94 L616.0,125.93 L615.0,125.93 L614.0,125.93 L613.0,125.93 L612.0,125.93 L611.0,125.92 L610.0,125.92 L609.0,125.92 L608.0,125.92 L607.0,125.92 L606.0,125.91 L605.0,125.91 L604.0,125.91 L603.0,125.91 L602.0,125.90 L601.0,125.90 L600.0,125.90 L599.0,125.90 L598.0,125.89 L597.0,125.89 L596.0,125.89 L595.0,125.88 L594.0,125.88 L593.0,125.87 L592.0,125.86 L591.0,125.86 L590.0,125.85 L589.0,125.84 L588.0,125.83 L587.0,125.82 L586.0,125.81 L585.0,125.80 L584.0,125.79 L583.0,125.78 L582.0,125.77 L581.0,125.76 L580.0,125.74 L579.0,125.73 L578.0,125.72 L577.0,125.71 L576.0,125.69 L575.0,125.68 L574.0,125.66 L573.0,125.65 L572.0,125.64 L571.0,125.62 L570.0,125.61 L569.0,125.59 L568.0,125.58 L567.0,125.56 L566.0,125.54 L565.0,125.53 L564.0,125.51 L563.0,125.50 L562.0,125.48 L561.0,125.46 L560.0,125.45 L559.0,125.43 L558.0,125.41 L557.0,125.40 L556.0,125.38 L555.0,125.36 L554.0,125.35 L553.0,125.33 L552.0,125.32 L551.0,125.30 L550.0,125.28 L549.0,125.27 L548.0,125.25 L547.0,125.23 L546.0,125.22 L545.0,125.20 L544.0,125.19 L543.0,125.17 L542.0,125.16 L541.0,125.14 L540.0,125.13 L539.0,125.11 L538.0,125.10 L537.0,125.08 L536.0,125.07 L535.0,125.06 L534.0,125.04 L533.0,125.03 L532.0,125.02 L531.0,125.01 L530.0,124.99 L529.0,124.98 L528.0,124.97 L527.0,124.96 L526.0,124.95 L525.0,124.94 L524.0,124.93 L523.0,124.92 L522.0,124.92 L521.0,124.91 L520.0,124.90 L519.0,124.89 L518.0,124.89 L517.0,124.88 L516.0,124.87 L515.0,124.87 L514.0,124.86 L513.0,124.86 L512.0,124.85 L511.0,124.85 L510.0,124.84 L509.0,124.84 L508.0,124.84 L507.0,124.83 L506.0,124.83 L505.0,124.82 L504.0,124.82 L503.0,124.82 L502.0,124.81 L501.0,124.81 L500.0,124.81 L499.0,124.80 L498.0,124.80 L497.0,124.80 L496.0,124.80 L495.0,124.79 L494.0,124.79 L493.0,124.79 L492.0,124.78 L491.0,124.78 L490.0,124.78 L489.0,124.77 L488.0,124.77 L487.0,124.77 L486.0,124.76 L485.0,124.76 L484.0,124.76 L483.0,124.75 L482.0,124.75 L481.0,124.75 L480.0,124.74 L479.0,124.74 L478.0,124.73 L477.0,124.73 L476.0,124.72 L475.0,124.72 L474.0,124.71 L473.0,124.71 L472.0,124.70 L471.0,124.69 L470.0,124.69 L469.0,124.68 L468.0,124.67 L467.0,124.66 L466.0,124.66 L465.0,124.65 L464.0,124.64 L463.0,124.63 L462.0,124.62 L461.0,124.61 L460.0,124.60 L459.0,124.59 L458.0,124.56 L457.0,124.54 L456.0,124.50 L455.0,124.46 L454.0,124.42 L453.0,124.36 L452.0,124.31 L451.0,124.25 L450.0,124.18 L449.0,124.11 L448.0,124.03 L447.0,123.95 L446.0,123.87 L445.0,123.78 L444.0,123.69 L443.0,123.60 L442.0,123.51 L441.0,123.41 L440.0,123.31 L439.0,123.21 L438.0,123.11 L437.0,123.00 L436.0,122.90 L435.0,122.79 L434.0,122.66 L433.0,122.51 L432.0,122.35 L431.0,122.19 L430.0,122.01 L429.0,121.82 L428.0,121.62 L427.0,121.42 L426.0,121.22 L425.0,121.01 L424.0,120.81 L423.0,120.60 L422.0,120.39 L421.0,120.19 L420.0,120.00 L419.0,119.81 L418.0,119.61 L417.0,119.42 L416.0,119.22 L415.0,119.01 L414.0,118.81 L413.0,118.60 L412.0,118.39 L411.0,118.17 L410.0,117.96 L409.0,117.74 L408.0,117.51 L407.0,117.29 L406.0,117.06 L405.0,116.83 L404.0,116.60 L403.0,116.37 L402.0,116.14 L401.0,115.91 L400.0,115.68 L399.0,115.44 L398.0,115.20 L397.0,114.94 L396.0,114.68 L395.0,114.40 L394.0,114.11 L393.0,113.79 L392.0,113.46 L391.0,113.12 L390.0,112.76 L389.0,112.40 Z" fill="#cfd0d0"/>
<path d="M389.0,79.60 L390.0,79.44 L391.0,79.23 L392.0,78.98 L393.0,78.70 L394.0,78.36 L395.0,77.94 L396.0,77.48 L397.0,77.00 L398.0,76.48 L399.0,75.92 L400.0,75.35 L401.0,74.80 L402.0,74.29 L403.0,73.80 L404.0,73.32 L405.0,72.84 L406.0,72.35 L407.0,71.85 L408.0,71.35 L409.0,70.87 L410.0,70.40 L411.0,69.96 L412.0,69.53 L413.0,69.11 L414.0,68.72 L415.0,68.33 L416.0,67.94 L417.0,67.59 L418.0,67.30 L419.0,67.08 L420.0,66.89 L421.0,66.72 L422.0,66.56 L423.0,66.40 L424.0,66.24 L425.0,66.08 L426.0,65.93 L427.0,65.80 L428.0,65.68 L429.0,65.57 L430.0,65.46 L431.0,65.37 L432.0,65.28 L433.0,65.21 L434.0,65.14 L435.0,65.08 L436.0,65.02 L437.0,64.96 L438.0,64.90 L439.0,64.84 L440.0,64.78 L441.0,64.72 L442.0,64.66 L443.0,64.61 L444.0,64.56 L445.0,64.51 L446.0,64.46 L447.0,64.43 L448.0,64.40 L449.0,64.38 L450.0,64.35 L451.0,64.33 L452.0,64.31 L453.0,64.29 L454.0,64.27 L455.0,64.25 L456.0,64.23 L457.0,64.21 L458.0,64.20 L459.0,64.18 L460.0,64.17 L461.0,64.16 L462.0,64.16 L463.0,64.17 L464.0,64.18 L465.0,64.21 L466.0,64.24 L467.0,64.28 L468.0,64.33 L469.0,64.38 L470.0,64.43 L471.0,64.49 L472.0,64.55 L473.0,64.61 L474.0,64.67 L475.0,64.74 L476.0,64.80 L477.0,64.86 L478.0,64.92 L479.0,64.98 L480.0,65.04 L481.0,65.09 L482.0,65.15 L483.0,65.21 L484.0,65.27 L485.0,65.34 L486.0,65.40 L487.0,65.47 L488.0,65.53 L489.0,65.60 L490.0,65.66 L491.0,65.72 L492.0,65.79 L493.0,65.85 L494.0,65.90 L495.0,65.96 L496.0,66.01 L497.0,66.06 L498.0,66.10 L499.0,66.14 L500.0,66.18 L501.0,66.22 L502.0,66.26 L503.0,66.31 L504.0,66.35 L505.0,66.39 L506.0,66.43 L507.0,66.47 L508.0,66.51 L509.0,66.55 L510.0,66.59 L511.0,66.63 L512.0,66.66 L513.0,66.70 L514.0,66.74 L515.0,66.78 L516.0,66.82 L517.0,66.86 L518.0,66.90 L519.0,66.94 L520.0,66.98 L521.0,67.02 L522.0,67.06 L523.0,67.10 L524.0,67.14 L525.0,67.18 L526.0,67.22 L527.0,67.26 L528.0,67.30 L529.0,67.34 L530.0,67.38 L531.0,67.42 L532.0,67.46 L533.0,67.50 L534.0,67.55 L535.0,67.59 L536.0,67.63 L537.0,67.67 L538.0,67.71 L539.0,67.76 L540.0,67.80 L541.0,67.84 L542.0,67.89 L543.0,67.94 L544.0,67.98 L545.0,68.03 L546.0,68.08 L547.0,68.13 L548.0,68.18 L549.0,68.24 L550.0,68.29 L551.0,68.35 L552.0,68.40 L553.0,68.46 L554.0,68.51 L555.0,68.57 L556.0,68.63 L557.0,68.68 L558.0,68.74 L559.0,68.80 L560.0,68.86 L561.0,68.92 L562.0,68.98 L563.0,69.04 L564.0,69.09 L565.0,69.15 L566.0,69.21 L567.0,69.27 L568.0,69.33 L569.0,69.39 L570.0,69.44 L571.0,69.50 L572.0,69.56 L573.0,69.62 L574.0,69.67 L575.0,69.73 L576.0,69.78 L577.0,69.83 L578.0,69.89 L579.0,69.94 L580.0,69.99 L581.0,70.04 L582.0,70.09 L583.0,70.14 L584.0,70.18 L585.0,70.23 L586.0,70.27 L587.0,70.31 L588.0,70.36 L589.0,70.40 L590.0,70.43 L591.0,70.47 L592.0,70.51 L593.0,70.54 L594.0,70.57 L595.0,70.60 L596.0,70.63 L597.0,70.66 L598.0,70.69 L599.0,70.71 L600.0,70.74 L601.0,70.77 L602.0,70.80 L603.0,70.83 L604.0,70.86 L605.0,70.88 L606.0,70.91 L607.0,70.94 L608.0,70.97 L609.0,71.00 L610.0,71.02 L611.0,71.05 L612.0,71.08 L613.0,71.11 L614.0,71.14 L615.0,71.16 L616.0,71.19 L617.0,71.22 L618.0,71.25 L619.0,71.28 L620.0,71.31 L621.0,71.34 L622.0,71.36 L623.0,71.39 L624.0,71.42 L625.0,71.45 L626.0,71.48 L627.0,71.51 L628.0,71.54 L629.0,71.57 L630.0,71.60 L631.0,71.63 L632.0,71.66 L633.0,71.69 L634.0,71.72 L635.0,71.75 L636.0,71.78 L637.0,71.81 L638.0,71.84 L639.0,71.87 L640.0,71.90 L641.0,71.93 L642.0,71.96 L643.0,71.99 L644.0,72.03 L645.0,72.06 L646.0,72.09 L647.0,72.12 L648.0,72.16 L649.0,72.19 L650.0,72.22 L651.0,72.26 L652.0,72.29 L653.0,72.32 L654.0,72.36 L655.0,72.39 L656.0,72.43 L657.0,72.46 L658.0,72.50 L659.0,72.53 L660.0,72.57 L661.0,72.60 L662.0,72.64 L663.0,72.67 L664.0,72.71 L665.0,72.75 L666.0,72.78 L667.0,72.82 L668.0,72.85 L669.0,72.89 L670.0,72.93 L671.0,72.96 L672.0,73.00 L673.0,73.04 L674.0,73.07 L675.0,73.11 L676.0,73.15 L677.0,73.19 L678.0,73.22 L679.0,73.26 L679.0,115.80 L678.0,115.80 L677.0,115.80 L676.0,115.80 L675.0,115.79 L674.0,115.79 L673.0,115.79 L672.0,115.79 L671.0,115.78 L670.0,115.78 L669.0,115.78 L668.0,115.77 L667.0,115.77 L666.0,115.76 L665.0,115.76 L664.0,115.75 L663.0,115.74 L662.0,115.74 L661.0,115.73 L660.0,115.72 L659.0,115.72 L658.0,115.71 L657.0,115.70 L656.0,115.69 L655.0,115.68 L654.0,115.67 L653.0,115.67 L652.0,115.66 L651.0,115.65 L650.0,115.64 L649.0,115.63 L648.0,115.62 L647.0,115.60 L646.0,115.59 L645.0,115.58 L644.0,115.57 L643.0,115.56 L642.0,115.55 L641.0,115.53 L640.0,115.52 L639.0,115.51 L638.0,115.50 L637.0,115.48 L636.0,115.47 L635.0,115.46 L634.0,115.44 L633.0,115.43 L632.0,115.41 L631.0,115.40 L630.0,115.39 L629.0,115.37 L628.0,115.36 L627.0,115.34 L626.0,115.33 L625.0,115.31 L624.0,115.30 L623.0,115.28 L622.0,115.27 L621.0,115.25 L620.0,115.23 L619.0,115.22 L618.0,115.20 L617.0,115.19 L616.0,115.17 L615.0,115.15 L614.0,115.14 L613.0,115.12 L612.0,115.10 L611.0,115.09 L610.0,115.07 L609.0,115.05 L608.0,115.04 L607.0,115.02 L606.0,115.00 L605.0,114.99 L604.0,114.97 L603.0,114.95 L602.0,114.93 L601.0,114.92 L600.0,114.90 L599.0,114.88 L598.0,114.86 L597.0,114.84 L596.0,114.82 L595.0,114.80 L594.0,114.78 L593.0,114.76 L592.0,114.73 L591.0,114.71 L590.0,114.68 L589.0,114.66 L588.0,114.63 L587.0,114.60 L586.0,114.57 L585.0,114.55 L584.0,114.52 L583.0,114.49 L582.0,114.45 L581.0,114.42 L580.0,114.39 L579.0,114.36 L578.0,114.32 L577.0,114.29 L576.0,114.26 L575.0,114.22 L574.0,114.18 L573.0,114.15 L572.0,114.11 L571.0,114.08 L570.0,114.04 L569.0,114.00 L568.0,113.96 L567.0,113.92 L566.0,113.88 L565.0,113.84 L564.0,113.80 L563.0,113.76 L562.0,113.72 L561.0,113.68 L560.0,113.64 L559.0,113.60 L558.0,113.56 L557.0,113.52 L556.0,113.48 L555.0,113.44 L554.0,113.39 L553.0,113.35 L552.0,113.31 L551.0,113.27 L550.0,113.22 L549.0,113.18 L548.0,113.14 L547.0,113.10 L546.0,113.05 L545.0,113.01 L544.0,112.97 L543.0,112.93 L542.0,112.88 L541.0,112.84 L540.0,112.80 L539.0,112.76 L538.0,112.71 L537.0,112.67 L536.0,112.63 L535.0,112.59 L534.0,112.55 L533.0,112.51 L532.0,112.47 L531.0,112.43 L530.0,112.39 L529.0,112.34 L528.0,112.31 L527.0,112.27 L526.0,112.23 L525.0,112.19 L524.0,112.15 L523.0,112.11 L522.0,112.07 L521.0,112.04 L520.0,112.00 L519.0,111.96 L518.0,111.93 L517.0,111.90 L516.0,111.86 L515.0,111.83 L514.0,111.80 L513.0,111.77 L512.0,111.74 L511.0,111.71 L510.0,111.68 L509.0,111.65 L508.0,111.63 L507.0,111.60 L506.0,111.57 L505.0,111.55 L504.0,111.52 L503.0,111.49 L502.0,111.47 L501.0,111.44 L500.0,111.42 L499.0,111.39 L498.0,111.37 L497.0,111.34 L496.0,111.32 L495.0,111.29 L494.0,111.26 L493.0,111.24 L492.0,111.21 L491.0,111.18 L490.0,111.15 L489.0,111.12 L488.0,111.10 L487.0,111.07 L486.0,111.03 L485.0,111.00 L484.0,110.97 L483.0,110.94 L482.0,110.90 L481.0,110.87 L480.0,110.83 L479.0,110.80 L478.0,110.76 L477.0,110.72 L476.0,110.68 L475.0,110.63 L474.0,110.59 L473.0,110.54 L472.0,110.50 L471.0,110.45 L470.0,110.40 L469.0,110.35 L468.0,110.30 L467.0,110.24 L466.0,110.18 L465.0,110.12 L464.0,110.06 L463.0,110.00 L462.0,109.94 L461.0,109.87 L460.0,109.80 L459.0,109.71 L458.0,109.60 L457.0,109.46 L456.0,109.30 L455.0,109.11 L454.0,108.91 L453.0,108.68 L452.0,108.45 L451.0,108.20 L450.0,107.94 L449.0,107.67 L448.0,107.40 L447.0,107.12 L446.0,106.85 L445.0,106.57 L444.0,106.30 L443.0,106.03 L442.0,105.77 L441.0,105.52 L440.0,105.29 L439.0,105.07 L438.0,104.87 L437.0,104.68 L436.0,104.52 L435.0,104.37 L434.0,104.24 L433.0,104.11 L432.0,103.99 L431.0,103.87 L430.0,103.75 L429.0,103.63 L428.0,103.49 L427.0,103.35 L426.0,103.20 L425.0,103.04 L424.0,102.86 L423.0,102.69 L422.0,102.50 L421.0,102.29 L420.0,102.08 L419.0,101.85 L418.0,101.60 L417.0,101.33 L416.0,101.04 L415.0,100.72 L414.0,100.38 L413.0,100.02 L412.0,99.64 L411.0,99.24 L410.0,98.82 L409.0,98.39 L408.0,97.94 L407.0,97.48 L406.0,97.00 L405.0,96.49 L404.0,95.93 L403.0,95.32 L402.0,94.67 L401.0,94.00 L400.0,93.29 L399.0,92.52 L398.0,91.71 L397.0,90.87 L396.0,90.00 L395.0,89.10 L394.0,88.17 L393.0,87.20 L392.0,86.20 L391.0,85.17 L390.0,84.10 L389.0,83.00 Z" fill="#e47878"/>
<path d="M389.0,79.60 L390.0,79.44 L391.0,79.23 L392.0,78.98 L393.0,78.70 L394.0,78.36 L395.0,77.94 L396.0,77.48 L397.0,77.00 L398.0,76.48 L399.0,75.92 L400.0,75.35 L401.0,74.80 L402.0,74.29 L403.0,73.80 L404.0,73.32 L405.0,72.84 L406.0,72.35 L407.0,71.85 L408.0,71.35 L409.0,70.87 L410.0,70.40 L411.0,69.96 L412.0,69.53 L413.0,69.11 L414.0,68.72 L415.0,68.33 L416.0,67.94 L417.0,67.59 L418.0,67.30 L419.0,67.08 L420.0,66.89 L421.0,66.72 L422.0,66.56 L423.0,66.40 L424.0,66.24 L425.0,66.08 L426.0,65.93 L427.0,65.80 L428.0,65.68 L429.0,65.57 L430.0,65.46 L431.0,65.37 L432.0,65.28 L433.0,65.21 L434.0,65.14 L435.0,65.08 L436.0,65.02 L437.0,64.96 L438.0,64.90 L439.0,64.84 L440.0,64.78 L441.0,64.72 L442.0,64.66 L443.0,64.61 L444.0,64.56 L445.0,64.51 L446.0,64.46 L447.0,64.43 L448.0,64.40 L449.0,64.38 L450.0,64.35 L451.0,64.33 L452.0,64.31 L453.0,64.29 L454.0,64.27 L455.0,64.25 L456.0,64.23 L457.0,64.21 L458.0,64.20 L459.0,64.18 L460.0,64.17 L461.0,64.15 L462.0,64.14 L463.0,64.13 L464.0,64.12 L465.0,64.11 L466.0,64.11 L467.0,64.10 L468.0,64.10 L469.0,64.10 L470.0,64.10 L471.0,64.10 L472.0,64.10 L473.0,64.11 L474.0,64.11 L475.0,64.11 L476.0,64.12 L477.0,64.12 L478.0,64.13 L479.0,64.13 L480.0,64.14 L481.0,64.15 L482.0,64.15 L483.0,64.16 L484.0,64.17 L485.0,64.18 L486.0,64.19 L487.0,64.19 L488.0,64.20 L489.0,64.21 L490.0,64.22 L491.0,64.23 L492.0,64.24 L493.0,64.25 L494.0,64.26 L495.0,64.27 L496.0,64.28 L497.0,64.29 L498.0,64.30 L499.0,64.31 L500.0,64.32 L501.0,64.33 L502.0,64.35 L503.0,64.36 L504.0,64.38 L505.0,64.39 L506.0,64.41 L507.0,64.42 L508.0,64.44 L509.0,64.46 L510.0,64.48 L511.0,64.50 L512.0,64.52 L513.0,64.54 L514.0,64.56 L515.0,64.58 L516.0,64.60 L517.0,64.62 L518.0,64.64 L519.0,64.66 L520.0,64.69 L521.0,64.71 L522.0,64.73 L523.0,64.75 L524.0,64.78 L525.0,64.80 L526.0,64.82 L527.0,64.84 L528.0,64.86 L529.0,64.89 L530.0,64.91 L531.0,64.93 L532.0,64.95 L533.0,64.97 L534.0,64.99 L535.0,65.01 L536.0,65.03 L537.0,65.05 L538.0,65.07 L539.0,65.08 L540.0,65.10 L541.0,65.12 L542.0,65.13 L543.0,65.15 L544.0,65.16 L545.0,65.18 L546.0,65.20 L547.0,65.21 L548.0,65.23 L549.0,65.24 L550.0,65.25 L551.0,65.27 L552.0,65.28 L553.0,65.30 L554.0,65.31 L555.0,65.33 L556.0,65.34 L557.0,65.35 L558.0,65.37 L559.0,65.38 L560.0,65.39 L561.0,65.41 L562.0,65.42 L563.0,65.43 L564.0,65.45 L565.0,65.46 L566.0,65.47 L567.0,65.49 L568.0,65.50 L569.0,65.51 L570.0,65.53 L571.0,65.54 L572.0,65.55 L573.0,65.57 L574.0,65.58 L575.0,65.59 L576.0,65.61 L577.0,65.62 L578.0,65.63 L579.0,65.65 L580.0,65.66 L581.0,65.68 L582.0,65.69 L583.0,65.71 L584.0,65.72 L585.0,65.74 L586.0,65.75 L587.0,65.77 L588.0,65.78 L589.0,65.80 L590.0,65.82 L591.0,65.83 L592.0,65.85 L593.0,65.87 L594.0,65.88 L595.0,65.90 L596.0,65.92 L597.0,65.94 L598.0,65.95 L599.0,65.97 L600.0,65.99 L601.0,66.01 L602.0,66.03 L603.0,66.05 L604.0,66.07 L605.0,66.09 L606.0,66.11 L607.0,66.13 L608.0,66.15 L609.0,66.17 L610.0,66.19 L611.0,66.21 L612.0,66.23 L613.0,66.26 L614.0,66.28 L615.0,66.30 L616.0,66.32 L617.0,66.34 L618.0,66.37 L619.0,66.39 L620.0,66.41 L621.0,66.44 L622.0,66.46 L623.0,66.48 L624.0,66.51 L625.0,66.53 L626.0,66.55 L627.0,66.58 L628.0,66.60 L629.0,66.63 L630.0,66.65 L631.0,66.67 L632.0,66.70 L633.0,66.72 L634.0,66.75 L635.0,66.77 L636.0,66.80 L637.0,66.82 L638.0,66.85 L639.0,66.87 L640.0,66.90 L641.0,66.93 L642.0,66.95 L643.0,66.98 L644.0,67.00 L645.0,67.03 L646.0,67.06 L647.0,67.09 L648.0,67.11 L649.0,67.14 L650.0,67.17 L651.0,67.20 L652.0,67.22 L653.0,67.25 L654.0,67.28 L655.0,67.31 L656.0,67.34 L657.0,67.37 L658.0,67.40 L659.0,67.43 L660.0,67.46 L661.0,67.49 L662.0,67.52 L663.0,67.55 L664.0,67.58 L665.0,67.61 L666.0,67.64 L667.0,67.68 L668.0,67.71 L669.0,67.74 L670.0,67.77 L671.0,67.80 L672.0,67.84 L673.0,67.87 L674.0,67.90 L675.0,67.93 L676.0,67.97 L677.0,68.00 L678.0,68.03 L679.0,68.07 L679.0,73.26 L678.0,73.22 L677.0,73.19 L676.0,73.15 L675.0,73.11 L674.0,73.07 L673.0,73.04 L672.0,73.00 L671.0,72.96 L670.0,72.93 L669.0,72.89 L668.0,72.85 L667.0,72.82 L666.0,72.78 L665.0,72.75 L664.0,72.71 L663.0,72.67 L662.0,72.64 L661.0,72.60 L660.0,72.57 L659.0,72.53 L658.0,72.50 L657.0,72.46 L656.0,72.43 L655.0,72.39 L654.0,72.36 L653.0,72.32 L652.0,72.29 L651.0,72.26 L650.0,72.22 L649.0,72.19 L648.0,72.16 L647.0,72.12 L646.0,72.09 L645.0,72.06 L644.0,72.03 L643.0,71.99 L642.0,71.96 L641.0,71.93 L640.0,71.90 L639.0,71.87 L638.0,71.84 L637.0,71.81 L636.0,71.78 L635.0,71.75 L634.0,71.72 L633.0,71.69 L632.0,71.66 L631.0,71.63 L630.0,71.60 L629.0,71.57 L628.0,71.54 L627.0,71.51 L626.0,71.48 L625.0,71.45 L624.0,71.42 L623.0,71.39 L622.0,71.36 L621.0,71.34 L620.0,71.31 L619.0,71.28 L618.0,71.25 L617.0,71.22 L616.0,71.19 L615.0,71.16 L614.0,71.14 L613.0,71.11 L612.0,71.08 L611.0,71.05 L610.0,71.02 L609.0,71.00 L608.0,70.97 L607.0,70.94 L606.0,70.91 L605.0,70.88 L604.0,70.86 L603.0,70.83 L602.0,70.80 L601.0,70.77 L600.0,70.74 L599.0,70.71 L598.0,70.69 L597.0,70.66 L596.0,70.63 L595.0,70.60 L594.0,70.57 L593.0,70.54 L592.0,70.51 L591.0,70.47 L590.0,70.43 L589.0,70.40 L588.0,70.36 L587.0,70.31 L586.0,70.27 L585.0,70.23 L584.0,70.18 L583.0,70.14 L582.0,70.09 L581.0,70.04 L580.0,69.99 L579.0,69.94 L578.0,69.89 L577.0,69.83 L576.0,69.78 L575.0,69.73 L574.0,69.67 L573.0,69.62 L572.0,69.56 L571.0,69.50 L570.0,69.44 L569.0,69.39 L568.0,69.33 L567.0,69.27 L566.0,69.21 L565.0,69.15 L564.0,69.09 L563.0,69.04 L562.0,68.98 L561.0,68.92 L560.0,68.86 L559.0,68.80 L558.0,68.74 L557.0,68.68 L556.0,68.63 L555.0,68.57 L554.0,68.51 L553.0,68.46 L552.0,68.40 L551.0,68.35 L550.0,68.29 L549.0,68.24 L548.0,68.18 L547.0,68.13 L546.0,68.08 L545.0,68.03 L544.0,67.98 L543.0,67.94 L542.0,67.89 L541.0,67.84 L540.0,67.80 L539.0,67.76 L538.0,67.71 L537.0,67.67 L536.0,67.63 L535.0,67.59 L534.0,67.55 L533.0,67.50 L532.0,67.46 L531.0,67.42 L530.0,67.38 L529.0,67.34 L528.0,67.30 L527.0,67.26 L526.0,67.22 L525.0,67.18 L524.0,67.14 L523.0,67.10 L522.0,67.06 L521.0,67.02 L520.0,66.98 L519.0,66.94 L518.0,66.90 L517.0,66.86 L516.0,66.82 L515.0,66.78 L514.0,66.74 L513.0,66.70 L512.0,66.66 L511.0,66.63 L510.0,66.59 L509.0,66.55 L508.0,66.51 L507.0,66.47 L506.0,66.43 L505.0,66.39 L504.0,66.35 L503.0,66.31 L502.0,66.26 L501.0,66.22 L500.0,66.18 L499.0,66.14 L498.0,66.10 L497.0,66.06 L496.0,66.01 L495.0,65.96 L494.0,65.90 L493.0,65.85 L492.0,65.79 L491.0,65.72 L490.0,65.66 L489.0,65.60 L488.0,65.53 L487.0,65.47 L486.0,65.40 L485.0,65.34 L484.0,65.27 L483.0,65.21 L482.0,65.15 L481.0,65.09 L480.0,65.04 L479.0,64.98 L478.0,64.92 L477.0,64.86 L476.0,64.80 L475.0,64.74 L474.0,64.67 L473.0,64.61 L472.0,64.55 L471.0,64.49 L470.0,64.43 L469.0,64.38 L468.0,64.33 L467.0,64.28 L466.0,64.24 L465.0,64.21 L464.0,64.18 L463.0,64.17 L462.0,64.16 L461.0,64.16 L460.0,64.17 L459.0,64.18 L458.0,64.20 L457.0,64.21 L456.0,64.23 L455.0,64.25 L454.0,64.27 L453.0,64.29 L452.0,64.31 L451.0,64.33 L450.0,64.35 L449.0,64.38 L448.0,64.40 L447.0,64.43 L446.0,64.46 L445.0,64.51 L444.0,64.56 L443.0,64.61 L442.0,64.66 L441.0,64.72 L440.0,64.78 L439.0,64.84 L438.0,64.90 L437.0,64.96 L436.0,65.02 L435.0,65.08 L434.0,65.14 L433.0,65.21 L432.0,65.28 L431.0,65.37 L430.0,65.46 L429.0,65.57 L428.0,65.68 L427.0,65.80 L426.0,65.93 L425.0,66.08 L424.0,66.24 L423.0,66.40 L422.0,66.56 L421.0,66.72 L420.0,66.89 L419.0,67.08 L418.0,67.30 L417.0,67.59 L416.0,67.94 L415.0,68.33 L414.0,68.72 L413.0,69.11 L412.0,69.53 L411.0,69.96 L410.0,70.40 L409.0,70.87 L408.0,71.35 L407.0,71.85 L406.0,72.35 L405.0,72.84 L404.0,73.32 L403.0,73.80 L402.0,74.29 L401.0,74.80 L400.0,75.35 L399.0,75.92 L398.0,76.48 L397.0,77.00 L396.0,77.48 L395.0,77.94 L394.0,78.36 L393.0,78.70 L392.0,78.98 L391.0,79.23 L390.0,79.44 L389.0,79.60 Z" fill="#7fc38f"/>
<path d="M389.0,89.47 L390.0,90.41 L391.0,91.32 L392.0,92.20 L393.0,93.05 L394.0,93.87 L395.0,94.67 L396.0,95.43 L397.0,96.17 L398.0,96.88 L399.0,97.56 L400.0,98.21 L401.0,98.82 L402.0,99.40 L403.0,99.95 L404.0,100.47 L405.0,100.96 L406.0,101.41 L407.0,101.83 L408.0,102.25 L409.0,102.64 L410.0,103.03 L411.0,103.40 L412.0,103.76 L413.0,104.11 L414.0,104.43 L415.0,104.74 L416.0,105.04 L417.0,105.31 L418.0,105.56 L419.0,105.80 L420.0,106.02 L421.0,106.23 L422.0,106.43 L423.0,106.63 L424.0,106.81 L425.0,106.99 L426.0,107.16 L427.0,107.33 L428.0,107.48 L429.0,107.63 L430.0,107.77 L431.0,107.90 L432.0,108.03 L433.0,108.16 L434.0,108.29 L435.0,108.43 L436.0,108.56 L437.0,108.71 L438.0,108.88 L439.0,109.06 L440.0,109.25 L441.0,109.46 L442.0,109.67 L443.0,109.90 L444.0,110.12 L445.0,110.36 L446.0,110.59 L447.0,110.83 L448.0,111.06 L449.0,111.29 L450.0,111.51 L451.0,111.73 L452.0,111.94 L453.0,112.13 L454.0,112.32 L455.0,112.49 L456.0,112.64 L457.0,112.78 L458.0,112.89 L459.0,112.99 L460.0,113.06 L461.0,113.11 L462.0,113.17 L463.0,113.22 L464.0,113.27 L465.0,113.32 L466.0,113.37 L467.0,113.41 L468.0,113.46 L469.0,113.50 L470.0,113.54 L471.0,113.58 L472.0,113.62 L473.0,113.66 L474.0,113.70 L475.0,113.73 L476.0,113.77 L477.0,113.80 L478.0,113.83 L479.0,113.86 L480.0,113.89 L481.0,113.92 L482.0,113.95 L483.0,113.98 L484.0,114.00 L485.0,114.03 L486.0,114.06 L487.0,114.08 L488.0,114.10 L489.0,114.13 L490.0,114.15 L491.0,114.17 L492.0,114.20 L493.0,114.22 L494.0,114.24 L495.0,114.26 L496.0,114.28 L497.0,114.30 L498.0,114.32 L499.0,114.34 L500.0,114.36 L501.0,114.38 L502.0,114.40 L503.0,114.43 L504.0,114.45 L505.0,114.47 L506.0,114.49 L507.0,114.51 L508.0,114.53 L509.0,114.55 L510.0,114.58 L511.0,114.60 L512.0,114.62 L513.0,114.65 L514.0,114.67 L515.0,114.70 L516.0,114.73 L517.0,114.75 L518.0,114.78 L519.0,114.81 L520.0,114.84 L521.0,114.87 L522.0,114.90 L523.0,114.93 L524.0,114.96 L525.0,114.99 L526.0,115.03 L527.0,115.06 L528.0,115.09 L529.0,115.13 L530.0,115.16 L531.0,115.19 L532.0,115.23 L533.0,115.26 L534.0,115.30 L535.0,115.33 L536.0,115.37 L537.0,115.40 L538.0,115.44 L539.0,115.47 L540.0,115.51 L541.0,115.55 L542.0,115.58 L543.0,115.62 L544.0,115.66 L545.0,115.69 L546.0,115.73 L547.0,115.77 L548.0,115.80 L549.0,115.84 L550.0,115.88 L551.0,115.91 L552.0,115.95 L553.0,115.99 L554.0,116.02 L555.0,116.06 L556.0,116.10 L557.0,116.13 L558.0,116.17 L559.0,116.20 L560.0,116.24 L561.0,116.28 L562.0,116.31 L563.0,116.35 L564.0,116.38 L565.0,116.41 L566.0,116.45 L567.0,116.48 L568.0,116.52 L569.0,116.55 L570.0,116.58 L571.0,116.62 L572.0,116.65 L573.0,116.68 L574.0,116.71 L575.0,116.74 L576.0,116.77 L577.0,116.80 L578.0,116.83 L579.0,116.86 L580.0,116.89 L581.0,116.92 L582.0,116.94 L583.0,116.97 L584.0,117.00 L585.0,117.02 L586.0,117.05 L587.0,117.07 L588.0,117.09 L589.0,117.12 L590.0,117.14 L591.0,117.16 L592.0,117.18 L593.0,117.20 L594.0,117.22 L595.0,117.24 L596.0,117.26 L597.0,117.27 L598.0,117.29 L599.0,117.31 L600.0,117.32 L601.0,117.33 L602.0,117.35 L603.0,117.36 L604.0,117.38 L605.0,117.39 L606.0,117.40 L607.0,117.42 L608.0,117.43 L609.0,117.44 L610.0,117.46 L611.0,117.47 L612.0,117.48 L613.0,117.50 L614.0,117.51 L615.0,117.52 L616.0,117.54 L617.0,117.55 L618.0,117.56 L619.0,117.58 L620.0,117.59 L621.0,117.60 L622.0,117.61 L623.0,117.63 L624.0,117.64 L625.0,117.65 L626.0,117.66 L627.0,117.68 L628.0,117.69 L629.0,117.70 L630.0,117.71 L631.0,117.72 L632.0,117.73 L633.0,117.75 L634.0,117.76 L635.0,117.77 L636.0,117.78 L637.0,117.79 L638.0,117.80 L639.0,117.81 L640.0,117.82 L641.0,117.83 L642.0,117.84 L643.0,117.85 L644.0,117.86 L645.0,117.87 L646.0,117.88 L647.0,117.89 L648.0,117.90 L649.0,117.90 L650.0,117.91 L651.0,117.92 L652.0,117.93 L653.0,117.94 L654.0,117.94 L655.0,117.95 L656.0,117.96 L657.0,117.96 L658.0,117.97 L659.0,117.98 L660.0,117.98 L661.0,117.99 L662.0,117.99 L663.0,118.00 L664.0,118.00 L665.0,118.01 L666.0,118.01 L667.0,118.02 L668.0,118.02 L669.0,118.02 L670.0,118.03 L671.0,118.03 L672.0,118.03 L673.0,118.04 L674.0,118.04 L675.0,118.04 L676.0,118.04 L677.0,118.04 L678.0,118.04 L679.0,118.04" fill="none" stroke="#5e5e5e" stroke-width="0.72"/>
<path d="M389.0,95.94 L390.0,96.71 L391.0,97.47 L392.0,98.20 L393.0,98.90 L394.0,99.58 L395.0,100.23 L396.0,100.86 L397.0,101.46 L398.0,102.05 L399.0,102.61 L400.0,103.14 L401.0,103.64 L402.0,104.12 L403.0,104.58 L404.0,105.02 L405.0,105.44 L406.0,105.83 L407.0,106.19 L408.0,106.55 L409.0,106.90 L410.0,107.24 L411.0,107.57 L412.0,107.89 L413.0,108.19 L414.0,108.49 L415.0,108.77 L416.0,109.04 L417.0,109.29 L418.0,109.53 L419.0,109.75 L420.0,109.96 L421.0,110.17 L422.0,110.37 L423.0,110.57 L424.0,110.76 L425.0,110.95 L426.0,111.13 L427.0,111.30 L428.0,111.47 L429.0,111.63 L430.0,111.78 L431.0,111.93 L432.0,112.07 L433.0,112.21 L434.0,112.34 L435.0,112.48 L436.0,112.61 L437.0,112.74 L438.0,112.89 L439.0,113.05 L440.0,113.22 L441.0,113.39 L442.0,113.58 L443.0,113.76 L444.0,113.95 L445.0,114.14 L446.0,114.34 L447.0,114.53 L448.0,114.72 L449.0,114.90 L450.0,115.08 L451.0,115.26 L452.0,115.43 L453.0,115.58 L454.0,115.73 L455.0,115.87 L456.0,115.99 L457.0,116.09 L458.0,116.18 L459.0,116.26 L460.0,116.31 L461.0,116.36 L462.0,116.40 L463.0,116.44 L464.0,116.48 L465.0,116.51 L466.0,116.55 L467.0,116.59 L468.0,116.62 L469.0,116.65 L470.0,116.69 L471.0,116.72 L472.0,116.75 L473.0,116.78 L474.0,116.80 L475.0,116.83 L476.0,116.86 L477.0,116.88 L478.0,116.91 L479.0,116.93 L480.0,116.95 L481.0,116.97 L482.0,117.00 L483.0,117.02 L484.0,117.04 L485.0,117.06 L486.0,117.08 L487.0,117.09 L488.0,117.11 L489.0,117.13 L490.0,117.15 L491.0,117.16 L492.0,117.18 L493.0,117.20 L494.0,117.21 L495.0,117.23 L496.0,117.25 L497.0,117.26 L498.0,117.28 L499.0,117.29 L500.0,117.31 L501.0,117.32 L502.0,117.34 L503.0,117.36 L504.0,117.37 L505.0,117.39 L506.0,117.40 L507.0,117.42 L508.0,117.44 L509.0,117.46 L510.0,117.47 L511.0,117.49 L512.0,117.51 L513.0,117.53 L514.0,117.55 L515.0,117.57 L516.0,117.59 L517.0,117.61 L518.0,117.63 L519.0,117.65 L520.0,117.68 L521.0,117.70 L522.0,117.72 L523.0,117.75 L524.0,117.77 L525.0,117.80 L526.0,117.83 L527.0,117.85 L528.0,117.88 L529.0,117.91 L530.0,117.93 L531.0,117.96 L532.0,117.99 L533.0,118.02 L534.0,118.05 L535.0,118.07 L536.0,118.10 L537.0,118.13 L538.0,118.16 L539.0,118.19 L540.0,118.22 L541.0,118.25 L542.0,118.28 L543.0,118.31 L544.0,118.34 L545.0,118.38 L546.0,118.41 L547.0,118.44 L548.0,118.47 L549.0,118.50 L550.0,118.53 L551.0,118.56 L552.0,118.59 L553.0,118.62 L554.0,118.65 L555.0,118.68 L556.0,118.72 L557.0,118.75 L558.0,118.78 L559.0,118.81 L560.0,118.84 L561.0,118.87 L562.0,118.90 L563.0,118.93 L564.0,118.96 L565.0,118.99 L566.0,119.01 L567.0,119.04 L568.0,119.07 L569.0,119.10 L570.0,119.13 L571.0,119.16 L572.0,119.18 L573.0,119.21 L574.0,119.24 L575.0,119.26 L576.0,119.29 L577.0,119.31 L578.0,119.34 L579.0,119.36 L580.0,119.39 L581.0,119.41 L582.0,119.43 L583.0,119.45 L584.0,119.48 L585.0,119.50 L586.0,119.52 L587.0,119.54 L588.0,119.56 L589.0,119.58 L590.0,119.60 L591.0,119.61 L592.0,119.63 L593.0,119.65 L594.0,119.66 L595.0,119.68 L596.0,119.69 L597.0,119.70 L598.0,119.72 L599.0,119.73 L600.0,119.74 L601.0,119.75 L602.0,119.76 L603.0,119.77 L604.0,119.78 L605.0,119.79 L606.0,119.80 L607.0,119.81 L608.0,119.82 L609.0,119.83 L610.0,119.84 L611.0,119.86 L612.0,119.87 L613.0,119.88 L614.0,119.89 L615.0,119.90 L616.0,119.91 L617.0,119.92 L618.0,119.93 L619.0,119.94 L620.0,119.95 L621.0,119.95 L622.0,119.96 L623.0,119.97 L624.0,119.98 L625.0,119.99 L626.0,120.00 L627.0,120.01 L628.0,120.02 L629.0,120.03 L630.0,120.04 L631.0,120.05 L632.0,120.06 L633.0,120.06 L634.0,120.07 L635.0,120.08 L636.0,120.09 L637.0,120.10 L638.0,120.10 L639.0,120.11 L640.0,120.12 L641.0,120.13 L642.0,120.14 L643.0,120.14 L644.0,120.15 L645.0,120.16 L646.0,120.16 L647.0,120.17 L648.0,120.18 L649.0,120.18 L650.0,120.19 L651.0,120.20 L652.0,120.20 L653.0,120.21 L654.0,120.21 L655.0,120.22 L656.0,120.22 L657.0,120.23 L658.0,120.23 L659.0,120.24 L660.0,120.24 L661.0,120.25 L662.0,120.25 L663.0,120.25 L664.0,120.26 L665.0,120.26 L666.0,120.26 L667.0,120.27 L668.0,120.27 L669.0,120.27 L670.0,120.28 L671.0,120.28 L672.0,120.28 L673.0,120.28 L674.0,120.28 L675.0,120.28 L676.0,120.29 L677.0,120.29 L678.0,120.29 L679.0,120.29" fill="none" stroke="#5e5e5e" stroke-width="0.72"/>
<path d="M389.0,101.52 L390.0,102.16 L391.0,102.78 L392.0,103.38 L393.0,103.95 L394.0,104.51 L395.0,105.04 L396.0,105.55 L397.0,106.04 L398.0,106.51 L399.0,106.96 L400.0,107.39 L401.0,107.80 L402.0,108.20 L403.0,108.58 L404.0,108.95 L405.0,109.30 L406.0,109.64 L407.0,109.96 L408.0,110.27 L409.0,110.58 L410.0,110.88 L411.0,111.17 L412.0,111.45 L413.0,111.72 L414.0,111.99 L415.0,112.24 L416.0,112.49 L417.0,112.72 L418.0,112.95 L419.0,113.16 L420.0,113.37 L421.0,113.57 L422.0,113.77 L423.0,113.97 L424.0,114.17 L425.0,114.36 L426.0,114.55 L427.0,114.74 L428.0,114.92 L429.0,115.09 L430.0,115.25 L431.0,115.41 L432.0,115.56 L433.0,115.70 L434.0,115.84 L435.0,115.97 L436.0,116.10 L437.0,116.23 L438.0,116.36 L439.0,116.50 L440.0,116.64 L441.0,116.79 L442.0,116.95 L443.0,117.10 L444.0,117.26 L445.0,117.41 L446.0,117.57 L447.0,117.73 L448.0,117.88 L449.0,118.03 L450.0,118.17 L451.0,118.31 L452.0,118.44 L453.0,118.56 L454.0,118.68 L455.0,118.78 L456.0,118.88 L457.0,118.96 L458.0,119.03 L459.0,119.08 L460.0,119.12 L461.0,119.16 L462.0,119.19 L463.0,119.22 L464.0,119.25 L465.0,119.27 L466.0,119.30 L467.0,119.33 L468.0,119.35 L469.0,119.38 L470.0,119.40 L471.0,119.42 L472.0,119.45 L473.0,119.47 L474.0,119.49 L475.0,119.51 L476.0,119.53 L477.0,119.54 L478.0,119.56 L479.0,119.58 L480.0,119.60 L481.0,119.61 L482.0,119.63 L483.0,119.64 L484.0,119.66 L485.0,119.67 L486.0,119.68 L487.0,119.70 L488.0,119.71 L489.0,119.72 L490.0,119.74 L491.0,119.75 L492.0,119.76 L493.0,119.77 L494.0,119.78 L495.0,119.80 L496.0,119.81 L497.0,119.82 L498.0,119.83 L499.0,119.84 L500.0,119.85 L501.0,119.86 L502.0,119.88 L503.0,119.89 L504.0,119.90 L505.0,119.91 L506.0,119.92 L507.0,119.94 L508.0,119.95 L509.0,119.96 L510.0,119.97 L511.0,119.99 L512.0,120.00 L513.0,120.02 L514.0,120.03 L515.0,120.04 L516.0,120.06 L517.0,120.08 L518.0,120.09 L519.0,120.11 L520.0,120.13 L521.0,120.15 L522.0,120.16 L523.0,120.18 L524.0,120.20 L525.0,120.22 L526.0,120.24 L527.0,120.26 L528.0,120.29 L529.0,120.31 L530.0,120.33 L531.0,120.35 L532.0,120.37 L533.0,120.40 L534.0,120.42 L535.0,120.44 L536.0,120.47 L537.0,120.49 L538.0,120.52 L539.0,120.54 L540.0,120.57 L541.0,120.59 L542.0,120.62 L543.0,120.64 L544.0,120.67 L545.0,120.69 L546.0,120.72 L547.0,120.74 L548.0,120.77 L549.0,120.79 L550.0,120.82 L551.0,120.85 L552.0,120.87 L553.0,120.90 L554.0,120.92 L555.0,120.95 L556.0,120.98 L557.0,121.00 L558.0,121.03 L559.0,121.05 L560.0,121.08 L561.0,121.11 L562.0,121.13 L563.0,121.16 L564.0,121.18 L565.0,121.21 L566.0,121.23 L567.0,121.25 L568.0,121.28 L569.0,121.30 L570.0,121.33 L571.0,121.35 L572.0,121.37 L573.0,121.39 L574.0,121.42 L575.0,121.44 L576.0,121.46 L577.0,121.48 L578.0,121.50 L579.0,121.52 L580.0,121.54 L581.0,121.56 L582.0,121.58 L583.0,121.60 L584.0,121.62 L585.0,121.64 L586.0,121.65 L587.0,121.67 L588.0,121.69 L589.0,121.70 L590.0,121.72 L591.0,121.73 L592.0,121.74 L593.0,121.76 L594.0,121.77 L595.0,121.78 L596.0,121.79 L597.0,121.80 L598.0,121.81 L599.0,121.82 L600.0,121.83 L601.0,121.84 L602.0,121.85 L603.0,121.85 L604.0,121.86 L605.0,121.87 L606.0,121.88 L607.0,121.88 L608.0,121.89 L609.0,121.90 L610.0,121.91 L611.0,121.91 L612.0,121.92 L613.0,121.93 L614.0,121.94 L615.0,121.94 L616.0,121.95 L617.0,121.96 L618.0,121.97 L619.0,121.97 L620.0,121.98 L621.0,121.99 L622.0,121.99 L623.0,122.00 L624.0,122.01 L625.0,122.01 L626.0,122.02 L627.0,122.03 L628.0,122.03 L629.0,122.04 L630.0,122.05 L631.0,122.05 L632.0,122.06 L633.0,122.07 L634.0,122.07 L635.0,122.08 L636.0,122.08 L637.0,122.09 L638.0,122.09 L639.0,122.10 L640.0,122.11 L641.0,122.11 L642.0,122.12 L643.0,122.12 L644.0,122.13 L645.0,122.13 L646.0,122.14 L647.0,122.14 L648.0,122.15 L649.0,122.15 L650.0,122.16 L651.0,122.16 L652.0,122.16 L653.0,122.17 L654.0,122.17 L655.0,122.18 L656.0,122.18 L657.0,122.18 L658.0,122.19 L659.0,122.19 L660.0,122.19 L661.0,122.20 L662.0,122.20 L663.0,122.20 L664.0,122.20 L665.0,122.21 L666.0,122.21 L667.0,122.21 L668.0,122.21 L669.0,122.22 L670.0,122.22 L671.0,122.22 L672.0,122.22 L673.0,122.22 L674.0,122.22 L675.0,122.22 L676.0,122.22 L677.0,122.23 L678.0,122.23 L679.0,122.23" fill="none" stroke="#5e5e5e" stroke-width="0.72"/>
<path d="M389.0,105.93 L390.0,106.46 L391.0,106.97 L392.0,107.47 L393.0,107.94 L394.0,108.40 L395.0,108.83 L396.0,109.25 L397.0,109.65 L398.0,110.03 L399.0,110.40 L400.0,110.75 L401.0,111.09 L402.0,111.42 L403.0,111.74 L404.0,112.05 L405.0,112.36 L406.0,112.65 L407.0,112.93 L408.0,113.21 L409.0,113.48 L410.0,113.75 L411.0,114.01 L412.0,114.26 L413.0,114.51 L414.0,114.75 L415.0,114.99 L416.0,115.22 L417.0,115.44 L418.0,115.65 L419.0,115.86 L420.0,116.06 L421.0,116.26 L422.0,116.46 L423.0,116.66 L424.0,116.86 L425.0,117.06 L426.0,117.25 L427.0,117.45 L428.0,117.63 L429.0,117.82 L430.0,117.99 L431.0,118.16 L432.0,118.31 L433.0,118.46 L434.0,118.60 L435.0,118.74 L436.0,118.86 L437.0,118.97 L438.0,119.10 L439.0,119.22 L440.0,119.35 L441.0,119.48 L442.0,119.61 L443.0,119.74 L444.0,119.87 L445.0,120.00 L446.0,120.13 L447.0,120.25 L448.0,120.37 L449.0,120.49 L450.0,120.61 L451.0,120.72 L452.0,120.82 L453.0,120.92 L454.0,121.00 L455.0,121.09 L456.0,121.16 L457.0,121.22 L458.0,121.27 L459.0,121.31 L460.0,121.34 L461.0,121.37 L462.0,121.39 L463.0,121.41 L464.0,121.43 L465.0,121.45 L466.0,121.47 L467.0,121.49 L468.0,121.51 L469.0,121.53 L470.0,121.54 L471.0,121.56 L472.0,121.58 L473.0,121.59 L474.0,121.60 L475.0,121.62 L476.0,121.63 L477.0,121.65 L478.0,121.66 L479.0,121.67 L480.0,121.68 L481.0,121.69 L482.0,121.70 L483.0,121.71 L484.0,121.72 L485.0,121.73 L486.0,121.74 L487.0,121.75 L488.0,121.76 L489.0,121.77 L490.0,121.78 L491.0,121.79 L492.0,121.80 L493.0,121.81 L494.0,121.81 L495.0,121.82 L496.0,121.83 L497.0,121.84 L498.0,121.85 L499.0,121.85 L500.0,121.86 L501.0,121.87 L502.0,121.88 L503.0,121.89 L504.0,121.89 L505.0,121.90 L506.0,121.91 L507.0,121.92 L508.0,121.93 L509.0,121.94 L510.0,121.95 L511.0,121.96 L512.0,121.97 L513.0,121.98 L514.0,121.99 L515.0,122.00 L516.0,122.01 L517.0,122.02 L518.0,122.04 L519.0,122.05 L520.0,122.06 L521.0,122.08 L522.0,122.09 L523.0,122.10 L524.0,122.12 L525.0,122.14 L526.0,122.15 L527.0,122.17 L528.0,122.19 L529.0,122.20 L530.0,122.22 L531.0,122.24 L532.0,122.26 L533.0,122.28 L534.0,122.29 L535.0,122.31 L536.0,122.33 L537.0,122.35 L538.0,122.37 L539.0,122.39 L540.0,122.41 L541.0,122.44 L542.0,122.46 L543.0,122.48 L544.0,122.50 L545.0,122.52 L546.0,122.54 L547.0,122.56 L548.0,122.59 L549.0,122.61 L550.0,122.63 L551.0,122.65 L552.0,122.67 L553.0,122.70 L554.0,122.72 L555.0,122.74 L556.0,122.76 L557.0,122.78 L558.0,122.81 L559.0,122.83 L560.0,122.85 L561.0,122.87 L562.0,122.89 L563.0,122.92 L564.0,122.94 L565.0,122.96 L566.0,122.98 L567.0,123.00 L568.0,123.02 L569.0,123.04 L570.0,123.06 L571.0,123.08 L572.0,123.10 L573.0,123.12 L574.0,123.14 L575.0,123.16 L576.0,123.18 L577.0,123.19 L578.0,123.21 L579.0,123.23 L580.0,123.25 L581.0,123.26 L582.0,123.28 L583.0,123.29 L584.0,123.31 L585.0,123.32 L586.0,123.34 L587.0,123.35 L588.0,123.37 L589.0,123.38 L590.0,123.39 L591.0,123.40 L592.0,123.41 L593.0,123.42 L594.0,123.43 L595.0,123.44 L596.0,123.45 L597.0,123.46 L598.0,123.47 L599.0,123.47 L600.0,123.48 L601.0,123.49 L602.0,123.49 L603.0,123.50 L604.0,123.50 L605.0,123.51 L606.0,123.51 L607.0,123.52 L608.0,123.52 L609.0,123.53 L610.0,123.53 L611.0,123.54 L612.0,123.54 L613.0,123.55 L614.0,123.56 L615.0,123.56 L616.0,123.57 L617.0,123.57 L618.0,123.58 L619.0,123.58 L620.0,123.59 L621.0,123.59 L622.0,123.60 L623.0,123.60 L624.0,123.60 L625.0,123.61 L626.0,123.61 L627.0,123.62 L628.0,123.62 L629.0,123.63 L630.0,123.63 L631.0,123.64 L632.0,123.64 L633.0,123.65 L634.0,123.65 L635.0,123.65 L636.0,123.66 L637.0,123.66 L638.0,123.67 L639.0,123.67 L640.0,123.67 L641.0,123.68 L642.0,123.68 L643.0,123.68 L644.0,123.69 L645.0,123.69 L646.0,123.69 L647.0,123.70 L648.0,123.70 L649.0,123.70 L650.0,123.71 L651.0,123.71 L652.0,123.71 L653.0,123.72 L654.0,123.72 L655.0,123.72 L656.0,123.72 L657.0,123.73 L658.0,123.73 L659.0,123.73 L660.0,123.73 L661.0,123.74 L662.0,123.74 L663.0,123.74 L664.0,123.74 L665.0,123.74 L666.0,123.74 L667.0,123.75 L668.0,123.75 L669.0,123.75 L670.0,123.75 L671.0,123.75 L672.0,123.75 L673.0,123.75 L674.0,123.75 L675.0,123.75 L676.0,123.76 L677.0,123.76 L678.0,123.76 L679.0,123.76" fill="none" stroke="#5e5e5e" stroke-width="0.72"/>
<path d="M389.0,109.46 L390.0,109.90 L391.0,110.32 L392.0,110.74 L393.0,111.13 L394.0,111.51 L395.0,111.87 L396.0,112.21 L397.0,112.53 L398.0,112.85 L399.0,113.15 L400.0,113.44 L401.0,113.72 L402.0,113.99 L403.0,114.26 L404.0,114.53 L405.0,114.80 L406.0,115.06 L407.0,115.31 L408.0,115.56 L409.0,115.80 L410.0,116.04 L411.0,116.28 L412.0,116.51 L413.0,116.74 L414.0,116.97 L415.0,117.18 L416.0,117.40 L417.0,117.61 L418.0,117.81 L419.0,118.01 L420.0,118.21 L421.0,118.40 L422.0,118.60 L423.0,118.81 L424.0,119.01 L425.0,119.21 L426.0,119.42 L427.0,119.62 L428.0,119.81 L429.0,120.00 L430.0,120.18 L431.0,120.35 L432.0,120.52 L433.0,120.67 L434.0,120.81 L435.0,120.95 L436.0,121.06 L437.0,121.17 L438.0,121.28 L439.0,121.40 L440.0,121.51 L441.0,121.62 L442.0,121.73 L443.0,121.85 L444.0,121.96 L445.0,122.06 L446.0,122.17 L447.0,122.27 L448.0,122.37 L449.0,122.46 L450.0,122.56 L451.0,122.64 L452.0,122.72 L453.0,122.80 L454.0,122.87 L455.0,122.93 L456.0,122.98 L457.0,123.03 L458.0,123.07 L459.0,123.10 L460.0,123.12 L461.0,123.14 L462.0,123.15 L463.0,123.17 L464.0,123.18 L465.0,123.20 L466.0,123.21 L467.0,123.22 L468.0,123.23 L469.0,123.25 L470.0,123.26 L471.0,123.27 L472.0,123.28 L473.0,123.29 L474.0,123.30 L475.0,123.31 L476.0,123.32 L477.0,123.33 L478.0,123.33 L479.0,123.34 L480.0,123.35 L481.0,123.36 L482.0,123.37 L483.0,123.37 L484.0,123.38 L485.0,123.39 L486.0,123.39 L487.0,123.40 L488.0,123.40 L489.0,123.41 L490.0,123.42 L491.0,123.42 L492.0,123.43 L493.0,123.43 L494.0,123.44 L495.0,123.44 L496.0,123.45 L497.0,123.45 L498.0,123.46 L499.0,123.46 L500.0,123.47 L501.0,123.47 L502.0,123.48 L503.0,123.48 L504.0,123.49 L505.0,123.50 L506.0,123.50 L507.0,123.51 L508.0,123.51 L509.0,123.52 L510.0,123.53 L511.0,123.53 L512.0,123.54 L513.0,123.55 L514.0,123.56 L515.0,123.56 L516.0,123.57 L517.0,123.58 L518.0,123.59 L519.0,123.60 L520.0,123.61 L521.0,123.62 L522.0,123.63 L523.0,123.64 L524.0,123.65 L525.0,123.67 L526.0,123.68 L527.0,123.69 L528.0,123.71 L529.0,123.72 L530.0,123.73 L531.0,123.75 L532.0,123.76 L533.0,123.78 L534.0,123.79 L535.0,123.81 L536.0,123.83 L537.0,123.84 L538.0,123.86 L539.0,123.88 L540.0,123.89 L541.0,123.91 L542.0,123.93 L543.0,123.95 L544.0,123.97 L545.0,123.98 L546.0,124.00 L547.0,124.02 L548.0,124.04 L549.0,124.06 L550.0,124.08 L551.0,124.10 L552.0,124.11 L553.0,124.13 L554.0,124.15 L555.0,124.17 L556.0,124.19 L557.0,124.21 L558.0,124.23 L559.0,124.25 L560.0,124.27 L561.0,124.29 L562.0,124.30 L563.0,124.32 L564.0,124.34 L565.0,124.36 L566.0,124.38 L567.0,124.40 L568.0,124.41 L569.0,124.43 L570.0,124.45 L571.0,124.47 L572.0,124.48 L573.0,124.50 L574.0,124.52 L575.0,124.53 L576.0,124.55 L577.0,124.56 L578.0,124.58 L579.0,124.59 L580.0,124.61 L581.0,124.62 L582.0,124.64 L583.0,124.65 L584.0,124.66 L585.0,124.68 L586.0,124.69 L587.0,124.70 L588.0,124.71 L589.0,124.72 L590.0,124.73 L591.0,124.74 L592.0,124.75 L593.0,124.76 L594.0,124.77 L595.0,124.77 L596.0,124.78 L597.0,124.79 L598.0,124.79 L599.0,124.80 L600.0,124.80 L601.0,124.80 L602.0,124.81 L603.0,124.81 L604.0,124.81 L605.0,124.82 L606.0,124.82 L607.0,124.83 L608.0,124.83 L609.0,124.83 L610.0,124.84 L611.0,124.84 L612.0,124.84 L613.0,124.85 L614.0,124.85 L615.0,124.85 L616.0,124.86 L617.0,124.86 L618.0,124.86 L619.0,124.87 L620.0,124.87 L621.0,124.87 L622.0,124.88 L623.0,124.88 L624.0,124.88 L625.0,124.89 L626.0,124.89 L627.0,124.89 L628.0,124.90 L629.0,124.90 L630.0,124.90 L631.0,124.90 L632.0,124.91 L633.0,124.91 L634.0,124.91 L635.0,124.91 L636.0,124.92 L637.0,124.92 L638.0,124.92 L639.0,124.93 L640.0,124.93 L641.0,124.93 L642.0,124.93 L643.0,124.93 L644.0,124.94 L645.0,124.94 L646.0,124.94 L647.0,124.94 L648.0,124.95 L649.0,124.95 L650.0,124.95 L651.0,124.95 L652.0,124.95 L653.0,124.96 L654.0,124.96 L655.0,124.96 L656.0,124.96 L657.0,124.96 L658.0,124.96 L659.0,124.96 L660.0,124.97 L661.0,124.97 L662.0,124.97 L663.0,124.97 L664.0,124.97 L665.0,124.97 L666.0,124.97 L667.0,124.97 L668.0,124.97 L669.0,124.98 L670.0,124.98 L671.0,124.98 L672.0,124.98 L673.0,124.98 L674.0,124.98 L675.0,124.98 L676.0,124.98 L677.0,124.98 L678.0,124.98 L679.0,124.98" fill="none" stroke="#5e5e5e" stroke-width="0.72"/>
<path d="M389.0,83.00 L390.0,84.10 L391.0,85.17 L392.0,86.20 L393.0,87.20 L394.0,88.17 L395.0,89.10 L396.0,90.00 L397.0,90.87 L398.0,91.71 L399.0,92.52 L400.0,93.29 L401.0,94.00 L402.0,94.67 L403.0,95.32 L404.0,95.93 L405.0,96.49 L406.0,97.00 L407.0,97.48 L408.0,97.94 L409.0,98.39 L410.0,98.82 L411.0,99.24 L412.0,99.64 L413.0,100.02 L414.0,100.38 L415.0,100.72 L416.0,101.04 L417.0,101.33 L418.0,101.60 L419.0,101.85 L420.0,102.08 L421.0,102.29 L422.0,102.50 L423.0,102.69 L424.0,102.86 L425.0,103.04 L426.0,103.20 L427.0,103.35 L428.0,103.49 L429.0,103.63 L430.0,103.75 L431.0,103.87 L432.0,103.99 L433.0,104.11 L434.0,104.24 L435.0,104.37 L436.0,104.52 L437.0,104.68 L438.0,104.87 L439.0,105.07 L440.0,105.29 L441.0,105.52 L442.0,105.77 L443.0,106.03 L444.0,106.30 L445.0,106.57 L446.0,106.85 L447.0,107.12 L448.0,107.40 L449.0,107.67 L450.0,107.94 L451.0,108.20 L452.0,108.45 L453.0,108.68 L454.0,108.91 L455.0,109.11 L456.0,109.30 L457.0,109.46 L458.0,109.60 L459.0,109.71 L460.0,109.80 L461.0,109.87 L462.0,109.94 L463.0,110.00 L464.0,110.06 L465.0,110.12 L466.0,110.18 L467.0,110.24 L468.0,110.30 L469.0,110.35 L470.0,110.40 L471.0,110.45 L472.0,110.50 L473.0,110.54 L474.0,110.59 L475.0,110.63 L476.0,110.68 L477.0,110.72 L478.0,110.76 L479.0,110.80 L480.0,110.83 L481.0,110.87 L482.0,110.90 L483.0,110.94 L484.0,110.97 L485.0,111.00 L486.0,111.03 L487.0,111.07 L488.0,111.10 L489.0,111.12 L490.0,111.15 L491.0,111.18 L492.0,111.21 L493.0,111.24 L494.0,111.26 L495.0,111.29 L496.0,111.32 L497.0,111.34 L498.0,111.37 L499.0,111.39 L500.0,111.42 L501.0,111.44 L502.0,111.47 L503.0,111.49 L504.0,111.52 L505.0,111.55 L506.0,111.57 L507.0,111.60 L508.0,111.63 L509.0,111.65 L510.0,111.68 L511.0,111.71 L512.0,111.74 L513.0,111.77 L514.0,111.80 L515.0,111.83 L516.0,111.86 L517.0,111.90 L518.0,111.93 L519.0,111.96 L520.0,112.00 L521.0,112.04 L522.0,112.07 L523.0,112.11 L524.0,112.15 L525.0,112.19 L526.0,112.23 L527.0,112.27 L528.0,112.31 L529.0,112.34 L530.0,112.39 L531.0,112.43 L532.0,112.47 L533.0,112.51 L534.0,112.55 L535.0,112.59 L536.0,112.63 L537.0,112.67 L538.0,112.71 L539.0,112.76 L540.0,112.80 L541.0,112.84 L542.0,112.88 L543.0,112.93 L544.0,112.97 L545.0,113.01 L546.0,113.05 L547.0,113.10 L548.0,113.14 L549.0,113.18 L550.0,113.22 L551.0,113.27 L552.0,113.31 L553.0,113.35 L554.0,113.39 L555.0,113.44 L556.0,113.48 L557.0,113.52 L558.0,113.56 L559.0,113.60 L560.0,113.64 L561.0,113.68 L562.0,113.72 L563.0,113.76 L564.0,113.80 L565.0,113.84 L566.0,113.88 L567.0,113.92 L568.0,113.96 L569.0,114.00 L570.0,114.04 L571.0,114.08 L572.0,114.11 L573.0,114.15 L574.0,114.18 L575.0,114.22 L576.0,114.26 L577.0,114.29 L578.0,114.32 L579.0,114.36 L580.0,114.39 L581.0,114.42 L582.0,114.45 L583.0,114.49 L584.0,114.52 L585.0,114.55 L586.0,114.57 L587.0,114.60 L588.0,114.63 L589.0,114.66 L590.0,114.68 L591.0,114.71 L592.0,114.73 L593.0,114.76 L594.0,114.78 L595.0,114.80 L596.0,114.82 L597.0,114.84 L598.0,114.86 L599.0,114.88 L600.0,114.90 L601.0,114.92 L602.0,114.93 L603.0,114.95 L604.0,114.97 L605.0,114.99 L606.0,115.00 L607.0,115.02 L608.0,115.04 L609.0,115.05 L610.0,115.07 L611.0,115.09 L612.0,115.10 L613.0,115.12 L614.0,115.14 L615.0,115.15 L616.0,115.17 L617.0,115.19 L618.0,115.20 L619.0,115.22 L620.0,115.23 L621.0,115.25 L622.0,115.27 L623.0,115.28 L624.0,115.30 L625.0,115.31 L626.0,115.33 L627.0,115.34 L628.0,115.36 L629.0,115.37 L630.0,115.39 L631.0,115.40 L632.0,115.41 L633.0,115.43 L634.0,115.44 L635.0,115.46 L636.0,115.47 L637.0,115.48 L638.0,115.50 L639.0,115.51 L640.0,115.52 L641.0,115.53 L642.0,115.55 L643.0,115.56 L644.0,115.57 L645.0,115.58 L646.0,115.59 L647.0,115.60 L648.0,115.62 L649.0,115.63 L650.0,115.64 L651.0,115.65 L652.0,115.66 L653.0,115.67 L654.0,115.67 L655.0,115.68 L656.0,115.69 L657.0,115.70 L658.0,115.71 L659.0,115.72 L660.0,115.72 L661.0,115.73 L662.0,115.74 L663.0,115.74 L664.0,115.75 L665.0,115.76 L666.0,115.76 L667.0,115.77 L668.0,115.77 L669.0,115.78 L670.0,115.78 L671.0,115.78 L672.0,115.79 L673.0,115.79 L674.0,115.79 L675.0,115.79 L676.0,115.80 L677.0,115.80 L678.0,115.80 L679.0,115.80" fill="none" stroke="#5e5e5e" stroke-width="0.72"/>
<path d="M389.0,80.60 L390.0,80.73 L391.0,80.90 L392.0,81.10 L393.0,81.32 L394.0,81.56 L395.0,81.82 L396.0,82.10 L397.0,82.41 L398.0,82.76 L399.0,83.16 L400.0,83.59 L401.0,84.05 L402.0,84.53 L403.0,85.03 L404.0,85.55 L405.0,86.07 L406.0,86.60 L407.0,87.17 L408.0,87.81 L409.0,88.49 L410.0,89.19 L411.0,89.87 L412.0,90.52 L413.0,91.11 L414.0,91.60 L415.0,92.02 L416.0,92.41 L417.0,92.76 L418.0,93.09 L419.0,93.41 L420.0,93.71 L421.0,94.00 L422.0,94.29 L423.0,94.57 L424.0,94.85 L425.0,95.13 L426.0,95.39 L427.0,95.66 L428.0,95.91 L429.0,96.16 L430.0,96.40 L431.0,96.64 L432.0,96.87 L433.0,97.09 L434.0,97.30 L435.0,97.51 L436.0,97.70 L437.0,97.89 L438.0,98.07 L439.0,98.23 L440.0,98.39 L441.0,98.54 L442.0,98.68 L443.0,98.82 L444.0,98.95 L445.0,99.09 L446.0,99.23 L447.0,99.37 L448.0,99.52 L449.0,99.67 L450.0,99.84 L451.0,100.01 L452.0,100.20 L453.0,100.42 L454.0,100.68 L455.0,100.96 L456.0,101.25 L457.0,101.54 L458.0,101.80 L459.0,102.03 L460.0,102.20 L461.0,102.34 L462.0,102.48 L463.0,102.62 L464.0,102.75 L465.0,102.89 L466.0,103.02 L467.0,103.15 L468.0,103.27 L469.0,103.40 L470.0,103.52 L471.0,103.64 L472.0,103.75 L473.0,103.87 L474.0,103.98 L475.0,104.09 L476.0,104.20 L477.0,104.31 L478.0,104.41 L479.0,104.51 L480.0,104.61 L481.0,104.71 L482.0,104.81 L483.0,104.90 L484.0,105.00 L485.0,105.09 L486.0,105.18 L487.0,105.26 L488.0,105.35 L489.0,105.43 L490.0,105.51 L491.0,105.59 L492.0,105.67 L493.0,105.75 L494.0,105.82 L495.0,105.89 L496.0,105.96 L497.0,106.03 L498.0,106.10 L499.0,106.17 L500.0,106.23 L501.0,106.29 L502.0,106.35 L503.0,106.41 L504.0,106.47 L505.0,106.53 L506.0,106.58 L507.0,106.64 L508.0,106.69 L509.0,106.74 L510.0,106.79 L511.0,106.83 L512.0,106.88 L513.0,106.92 L514.0,106.97 L515.0,107.01 L516.0,107.05 L517.0,107.09 L518.0,107.13 L519.0,107.16 L520.0,107.20 L521.0,107.23 L522.0,107.27 L523.0,107.30 L524.0,107.33 L525.0,107.37 L526.0,107.40 L527.0,107.43 L528.0,107.46 L529.0,107.49 L530.0,107.52 L531.0,107.55 L532.0,107.57 L533.0,107.60 L534.0,107.63 L535.0,107.65 L536.0,107.68 L537.0,107.71 L538.0,107.73 L539.0,107.76 L540.0,107.78 L541.0,107.80 L542.0,107.83 L543.0,107.85 L544.0,107.87 L545.0,107.90 L546.0,107.92 L547.0,107.94 L548.0,107.96 L549.0,107.98 L550.0,108.00 L551.0,108.02 L552.0,108.04 L553.0,108.06 L554.0,108.08 L555.0,108.10 L556.0,108.12 L557.0,108.14 L558.0,108.16 L559.0,108.17 L560.0,108.19 L561.0,108.21 L562.0,108.23 L563.0,108.25 L564.0,108.26 L565.0,108.28 L566.0,108.30 L567.0,108.31 L568.0,108.33 L569.0,108.35 L570.0,108.37 L571.0,108.38 L572.0,108.40 L573.0,108.42 L574.0,108.43 L575.0,108.45 L576.0,108.47 L577.0,108.48 L578.0,108.50 L579.0,108.52 L580.0,108.53 L581.0,108.55 L582.0,108.57 L583.0,108.58 L584.0,108.60 L585.0,108.62 L586.0,108.64 L587.0,108.65 L588.0,108.67 L589.0,108.69 L590.0,108.71 L591.0,108.73 L592.0,108.74 L593.0,108.76 L594.0,108.78 L595.0,108.80 L596.0,108.82 L597.0,108.84 L598.0,108.86 L599.0,108.88 L600.0,108.90 L601.0,108.92 L602.0,108.94 L603.0,108.96 L604.0,108.98 L605.0,109.00 L606.0,109.02 L607.0,109.04 L608.0,109.06 L609.0,109.08 L610.0,109.11 L611.0,109.13 L612.0,109.15 L613.0,109.17 L614.0,109.19 L615.0,109.21 L616.0,109.23 L617.0,109.25 L618.0,109.27 L619.0,109.29 L620.0,109.31 L621.0,109.33 L622.0,109.35 L623.0,109.37 L624.0,109.39 L625.0,109.41 L626.0,109.43 L627.0,109.45 L628.0,109.47 L629.0,109.49 L630.0,109.51 L631.0,109.53 L632.0,109.55 L633.0,109.57 L634.0,109.59 L635.0,109.61 L636.0,109.63 L637.0,109.65 L638.0,109.67 L639.0,109.69 L640.0,109.71 L641.0,109.73 L642.0,109.75 L643.0,109.77 L644.0,109.79 L645.0,109.81 L646.0,109.83 L647.0,109.85 L648.0,109.87 L649.0,109.89 L650.0,109.91 L651.0,109.93 L652.0,109.95 L653.0,109.97 L654.0,109.99 L655.0,110.01 L656.0,110.03 L657.0,110.05 L658.0,110.07 L659.0,110.09 L660.0,110.11 L661.0,110.13 L662.0,110.15 L663.0,110.17 L664.0,110.19 L665.0,110.21 L666.0,110.23 L667.0,110.25 L668.0,110.27 L669.0,110.29 L670.0,110.31 L671.0,110.32 L672.0,110.34 L673.0,110.36 L674.0,110.38 L675.0,110.40 L676.0,110.42 L677.0,110.44 L678.0,110.46 L679.0,110.48" fill="none" stroke="#5e5e5e" stroke-width="0.72"/>
<path d="M389.0,79.90 L390.0,79.64 L391.0,79.36 L392.0,79.07 L393.0,78.77 L394.0,78.46 L395.0,78.13 L396.0,77.80 L397.0,77.41 L398.0,76.98 L399.0,76.58 L400.0,76.30 L401.0,76.12 L402.0,75.96 L403.0,75.84 L404.0,75.80 L405.0,75.82 L406.0,75.89 L407.0,76.00 L408.0,76.13 L409.0,76.28 L410.0,76.44 L411.0,76.60 L412.0,76.79 L413.0,77.03 L414.0,77.32 L415.0,77.63 L416.0,77.97 L417.0,78.31 L418.0,78.66 L419.0,79.00 L420.0,79.31 L421.0,79.60 L422.0,79.87 L423.0,80.14 L424.0,80.40 L425.0,80.67 L426.0,80.92 L427.0,81.17 L428.0,81.40 L429.0,81.62 L430.0,81.82 L431.0,82.00 L432.0,82.16 L433.0,82.30 L434.0,82.43 L435.0,82.56 L436.0,82.68 L437.0,82.79 L438.0,82.92 L439.0,83.05 L440.0,83.20 L441.0,83.37 L442.0,83.55 L443.0,83.75 L444.0,83.94 L445.0,84.13 L446.0,84.30 L447.0,84.46 L448.0,84.61 L449.0,84.75 L450.0,84.89 L451.0,85.03 L452.0,85.17 L453.0,85.30 L454.0,85.43 L455.0,85.56 L456.0,85.69 L457.0,85.81 L458.0,85.94 L459.0,86.06 L460.0,86.18 L461.0,86.30 L462.0,86.43 L463.0,86.55 L464.0,86.67 L465.0,86.80 L466.0,86.93 L467.0,87.05 L468.0,87.18 L469.0,87.31 L470.0,87.44 L471.0,87.57 L472.0,87.70 L473.0,87.83 L474.0,87.96 L475.0,88.09 L476.0,88.22 L477.0,88.35 L478.0,88.48 L479.0,88.61 L480.0,88.74 L481.0,88.87 L482.0,89.00 L483.0,89.13 L484.0,89.26 L485.0,89.38 L486.0,89.51 L487.0,89.63 L488.0,89.76 L489.0,89.88 L490.0,90.00 L491.0,90.12 L492.0,90.24 L493.0,90.35 L494.0,90.47 L495.0,90.58 L496.0,90.69 L497.0,90.80 L498.0,90.91 L499.0,91.02 L500.0,91.12 L501.0,91.22 L502.0,91.32 L503.0,91.42 L504.0,91.51 L505.0,91.60 L506.0,91.69 L507.0,91.78 L508.0,91.86 L509.0,91.95 L510.0,92.03 L511.0,92.12 L512.0,92.20 L513.0,92.28 L514.0,92.36 L515.0,92.44 L516.0,92.52 L517.0,92.60 L518.0,92.67 L519.0,92.75 L520.0,92.82 L521.0,92.90 L522.0,92.97 L523.0,93.04 L524.0,93.11 L525.0,93.18 L526.0,93.25 L527.0,93.32 L528.0,93.39 L529.0,93.46 L530.0,93.53 L531.0,93.60 L532.0,93.66 L533.0,93.73 L534.0,93.79 L535.0,93.86 L536.0,93.92 L537.0,93.99 L538.0,94.05 L539.0,94.12 L540.0,94.18 L541.0,94.24 L542.0,94.30 L543.0,94.37 L544.0,94.43 L545.0,94.49 L546.0,94.55 L547.0,94.62 L548.0,94.68 L549.0,94.74 L550.0,94.80 L551.0,94.86 L552.0,94.92 L553.0,94.99 L554.0,95.05 L555.0,95.11 L556.0,95.17 L557.0,95.23 L558.0,95.29 L559.0,95.36 L560.0,95.42 L561.0,95.48 L562.0,95.54 L563.0,95.60 L564.0,95.66 L565.0,95.72 L566.0,95.78 L567.0,95.84 L568.0,95.90 L569.0,95.96 L570.0,96.02 L571.0,96.08 L572.0,96.14 L573.0,96.20 L574.0,96.25 L575.0,96.31 L576.0,96.37 L577.0,96.42 L578.0,96.48 L579.0,96.53 L580.0,96.59 L581.0,96.64 L582.0,96.69 L583.0,96.74 L584.0,96.80 L585.0,96.85 L586.0,96.90 L587.0,96.94 L588.0,96.99 L589.0,97.04 L590.0,97.09 L591.0,97.13 L592.0,97.18 L593.0,97.22 L594.0,97.26 L595.0,97.31 L596.0,97.35 L597.0,97.39 L598.0,97.43 L599.0,97.46 L600.0,97.50 L601.0,97.54 L602.0,97.57 L603.0,97.61 L604.0,97.64 L605.0,97.67 L606.0,97.71 L607.0,97.74 L608.0,97.77 L609.0,97.80 L610.0,97.83 L611.0,97.87 L612.0,97.90 L613.0,97.93 L614.0,97.95 L615.0,97.98 L616.0,98.01 L617.0,98.04 L618.0,98.07 L619.0,98.10 L620.0,98.12 L621.0,98.15 L622.0,98.18 L623.0,98.20 L624.0,98.23 L625.0,98.25 L626.0,98.28 L627.0,98.30 L628.0,98.33 L629.0,98.35 L630.0,98.38 L631.0,98.40 L632.0,98.42 L633.0,98.45 L634.0,98.47 L635.0,98.49 L636.0,98.51 L637.0,98.53 L638.0,98.56 L639.0,98.58 L640.0,98.60 L641.0,98.62 L642.0,98.64 L643.0,98.66 L644.0,98.68 L645.0,98.71 L646.0,98.73 L647.0,98.75 L648.0,98.77 L649.0,98.79 L650.0,98.81 L651.0,98.83 L652.0,98.85 L653.0,98.86 L654.0,98.88 L655.0,98.90 L656.0,98.92 L657.0,98.94 L658.0,98.96 L659.0,98.98 L660.0,98.99 L661.0,99.01 L662.0,99.03 L663.0,99.05 L664.0,99.06 L665.0,99.08 L666.0,99.10 L667.0,99.11 L668.0,99.13 L669.0,99.14 L670.0,99.16 L671.0,99.18 L672.0,99.19 L673.0,99.21 L674.0,99.22 L675.0,99.23 L676.0,99.25 L677.0,99.26 L678.0,99.27 L679.0,99.29" fill="none" stroke="#5e5e5e" stroke-width="0.72"/>
<path d="M389.0,79.50 L390.0,79.35 L391.0,79.16 L392.0,78.94 L393.0,78.69 L394.0,78.41 L395.0,78.11 L396.0,77.80 L397.0,77.45 L398.0,77.03 L399.0,76.58 L400.0,76.09 L401.0,75.60 L402.0,75.08 L403.0,74.51 L404.0,73.93 L405.0,73.35 L406.0,72.80 L407.0,72.26 L408.0,71.71 L409.0,71.18 L410.0,70.71 L411.0,70.30 L412.0,69.94 L413.0,69.60 L414.0,69.29 L415.0,69.05 L416.0,68.90 L417.0,68.81 L418.0,68.72 L419.0,68.66 L420.0,68.62 L421.0,68.60 L422.0,68.62 L423.0,68.68 L424.0,68.76 L425.0,68.87 L426.0,68.99 L427.0,69.11 L428.0,69.23 L429.0,69.34 L430.0,69.44 L431.0,69.50 L432.0,69.54 L433.0,69.58 L434.0,69.60 L435.0,69.63 L436.0,69.65 L437.0,69.68 L438.0,69.71 L439.0,69.75 L440.0,69.80 L441.0,69.89 L442.0,70.04 L443.0,70.23 L444.0,70.43 L445.0,70.63 L446.0,70.80 L447.0,70.95 L448.0,71.10 L449.0,71.25 L450.0,71.39 L451.0,71.53 L452.0,71.67 L453.0,71.81 L454.0,71.94 L455.0,72.08 L456.0,72.21 L457.0,72.35 L458.0,72.48 L459.0,72.62 L460.0,72.76 L461.0,72.90 L462.0,73.04 L463.0,73.19 L464.0,73.34 L465.0,73.50 L466.0,73.66 L467.0,73.84 L468.0,74.02 L469.0,74.20 L470.0,74.40 L471.0,74.59 L472.0,74.79 L473.0,74.99 L474.0,75.19 L475.0,75.39 L476.0,75.58 L477.0,75.78 L478.0,75.96 L479.0,76.14 L480.0,76.32 L481.0,76.48 L482.0,76.63 L483.0,76.77 L484.0,76.90 L485.0,77.02 L486.0,77.13 L487.0,77.24 L488.0,77.35 L489.0,77.45 L490.0,77.55 L491.0,77.64 L492.0,77.74 L493.0,77.83 L494.0,77.91 L495.0,78.00 L496.0,78.08 L497.0,78.16 L498.0,78.24 L499.0,78.32 L500.0,78.40 L501.0,78.48 L502.0,78.56 L503.0,78.64 L504.0,78.72 L505.0,78.80 L506.0,78.88 L507.0,78.96 L508.0,79.04 L509.0,79.12 L510.0,79.20 L511.0,79.28 L512.0,79.36 L513.0,79.44 L514.0,79.51 L515.0,79.59 L516.0,79.67 L517.0,79.75 L518.0,79.82 L519.0,79.90 L520.0,79.97 L521.0,80.05 L522.0,80.12 L523.0,80.19 L524.0,80.26 L525.0,80.34 L526.0,80.41 L527.0,80.48 L528.0,80.55 L529.0,80.61 L530.0,80.68 L531.0,80.75 L532.0,80.81 L533.0,80.88 L534.0,80.94 L535.0,81.00 L536.0,81.06 L537.0,81.13 L538.0,81.18 L539.0,81.24 L540.0,81.30 L541.0,81.36 L542.0,81.41 L543.0,81.47 L544.0,81.52 L545.0,81.57 L546.0,81.63 L547.0,81.68 L548.0,81.73 L549.0,81.78 L550.0,81.83 L551.0,81.88 L552.0,81.93 L553.0,81.98 L554.0,82.03 L555.0,82.08 L556.0,82.13 L557.0,82.17 L558.0,82.22 L559.0,82.27 L560.0,82.31 L561.0,82.36 L562.0,82.40 L563.0,82.45 L564.0,82.49 L565.0,82.54 L566.0,82.58 L567.0,82.62 L568.0,82.67 L569.0,82.71 L570.0,82.75 L571.0,82.80 L572.0,82.84 L573.0,82.88 L574.0,82.92 L575.0,82.97 L576.0,83.01 L577.0,83.05 L578.0,83.09 L579.0,83.13 L580.0,83.17 L581.0,83.22 L582.0,83.26 L583.0,83.30 L584.0,83.34 L585.0,83.38 L586.0,83.42 L587.0,83.46 L588.0,83.51 L589.0,83.55 L590.0,83.59 L591.0,83.63 L592.0,83.67 L593.0,83.72 L594.0,83.76 L595.0,83.80 L596.0,83.84 L597.0,83.88 L598.0,83.93 L599.0,83.97 L600.0,84.01 L601.0,84.05 L602.0,84.09 L603.0,84.13 L604.0,84.18 L605.0,84.22 L606.0,84.26 L607.0,84.30 L608.0,84.34 L609.0,84.38 L610.0,84.42 L611.0,84.46 L612.0,84.50 L613.0,84.54 L614.0,84.58 L615.0,84.62 L616.0,84.66 L617.0,84.70 L618.0,84.74 L619.0,84.78 L620.0,84.82 L621.0,84.86 L622.0,84.90 L623.0,84.94 L624.0,84.98 L625.0,85.02 L626.0,85.06 L627.0,85.10 L628.0,85.13 L629.0,85.17 L630.0,85.21 L631.0,85.25 L632.0,85.29 L633.0,85.33 L634.0,85.37 L635.0,85.41 L636.0,85.45 L637.0,85.48 L638.0,85.52 L639.0,85.56 L640.0,85.60 L641.0,85.64 L642.0,85.68 L643.0,85.72 L644.0,85.75 L645.0,85.79 L646.0,85.83 L647.0,85.87 L648.0,85.91 L649.0,85.95 L650.0,85.98 L651.0,86.02 L652.0,86.06 L653.0,86.10 L654.0,86.14 L655.0,86.17 L656.0,86.21 L657.0,86.25 L658.0,86.29 L659.0,86.32 L660.0,86.36 L661.0,86.40 L662.0,86.44 L663.0,86.47 L664.0,86.51 L665.0,86.55 L666.0,86.59 L667.0,86.62 L668.0,86.66 L669.0,86.70 L670.0,86.73 L671.0,86.77 L672.0,86.81 L673.0,86.84 L674.0,86.88 L675.0,86.92 L676.0,86.95 L677.0,86.99 L678.0,87.03 L679.0,87.06" fill="none" stroke="#5e5e5e" stroke-width="0.72"/>
<path d="M389.0,79.60 L390.0,79.44 L391.0,79.23 L392.0,78.98 L393.0,78.70 L394.0,78.36 L395.0,77.94 L396.0,77.48 L397.0,77.00 L398.0,76.48 L399.0,75.92 L400.0,75.35 L401.0,74.80 L402.0,74.29 L403.0,73.80 L404.0,73.32 L405.0,72.84 L406.0,72.35 L407.0,71.85 L408.0,71.35 L409.0,70.87 L410.0,70.40 L411.0,69.96 L412.0,69.53 L413.0,69.11 L414.0,68.72 L415.0,68.33 L416.0,67.94 L417.0,67.59 L418.0,67.30 L419.0,67.08 L420.0,66.89 L421.0,66.72 L422.0,66.56 L423.0,66.40 L424.0,66.24 L425.0,66.08 L426.0,65.93 L427.0,65.80 L428.0,65.68 L429.0,65.57 L430.0,65.46 L431.0,65.37 L432.0,65.28 L433.0,65.21 L434.0,65.14 L435.0,65.08 L436.0,65.02 L437.0,64.96 L438.0,64.90 L439.0,64.84 L440.0,64.78 L441.0,64.72 L442.0,64.66 L443.0,64.61 L444.0,64.56 L445.0,64.51 L446.0,64.46 L447.0,64.43 L448.0,64.40 L449.0,64.38 L450.0,64.35 L451.0,64.33 L452.0,64.31 L453.0,64.29 L454.0,64.27 L455.0,64.25 L456.0,64.23 L457.0,64.21 L458.0,64.20 L459.0,64.18 L460.0,64.17 L461.0,64.16 L462.0,64.16 L463.0,64.17 L464.0,64.18 L465.0,64.21 L466.0,64.24 L467.0,64.28 L468.0,64.33 L469.0,64.38 L470.0,64.43 L471.0,64.49 L472.0,64.55 L473.0,64.61 L474.0,64.67 L475.0,64.74 L476.0,64.80 L477.0,64.86 L478.0,64.92 L479.0,64.98 L480.0,65.04 L481.0,65.09 L482.0,65.15 L483.0,65.21 L484.0,65.27 L485.0,65.34 L486.0,65.40 L487.0,65.47 L488.0,65.53 L489.0,65.60 L490.0,65.66 L491.0,65.72 L492.0,65.79 L493.0,65.85 L494.0,65.90 L495.0,65.96 L496.0,66.01 L497.0,66.06 L498.0,66.10 L499.0,66.14 L500.0,66.18 L501.0,66.22 L502.0,66.26 L503.0,66.31 L504.0,66.35 L505.0,66.39 L506.0,66.43 L507.0,66.47 L508.0,66.51 L509.0,66.55 L510.0,66.59 L511.0,66.63 L512.0,66.66 L513.0,66.70 L514.0,66.74 L515.0,66.78 L516.0,66.82 L517.0,66.86 L518.0,66.90 L519.0,66.94 L520.0,66.98 L521.0,67.02 L522.0,67.06 L523.0,67.10 L524.0,67.14 L525.0,67.18 L526.0,67.22 L527.0,67.26 L528.0,67.30 L529.0,67.34 L530.0,67.38 L531.0,67.42 L532.0,67.46 L533.0,67.50 L534.0,67.55 L535.0,67.59 L536.0,67.63 L537.0,67.67 L538.0,67.71 L539.0,67.76 L540.0,67.80 L541.0,67.84 L542.0,67.89 L543.0,67.94 L544.0,67.98 L545.0,68.03 L546.0,68.08 L547.0,68.13 L548.0,68.18 L549.0,68.24 L550.0,68.29 L551.0,68.35 L552.0,68.40 L553.0,68.46 L554.0,68.51 L555.0,68.57 L556.0,68.63 L557.0,68.68 L558.0,68.74 L559.0,68.80 L560.0,68.86 L561.0,68.92 L562.0,68.98 L563.0,69.04 L564.0,69.09 L565.0,69.15 L566.0,69.21 L567.0,69.27 L568.0,69.33 L569.0,69.39 L570.0,69.44 L571.0,69.50 L572.0,69.56 L573.0,69.62 L574.0,69.67 L575.0,69.73 L576.0,69.78 L577.0,69.83 L578.0,69.89 L579.0,69.94 L580.0,69.99 L581.0,70.04 L582.0,70.09 L583.0,70.14 L584.0,70.18 L585.0,70.23 L586.0,70.27 L587.0,70.31 L588.0,70.36 L589.0,70.40 L590.0,70.43 L591.0,70.47 L592.0,70.51 L593.0,70.54 L594.0,70.57 L595.0,70.60 L596.0,70.63 L597.0,70.66 L598.0,70.69 L599.0,70.71 L600.0,70.74 L601.0,70.77 L602.0,70.80 L603.0,70.83 L604.0,70.86 L605.0,70.88 L606.0,70.91 L607.0,70.94 L608.0,70.97 L609.0,71.00 L610.0,71.02 L611.0,71.05 L612.0,71.08 L613.0,71.11 L614.0,71.14 L615.0,71.16 L616.0,71.19 L617.0,71.22 L618.0,71.25 L619.0,71.28 L620.0,71.31 L621.0,71.34 L622.0,71.36 L623.0,71.39 L624.0,71.42 L625.0,71.45 L626.0,71.48 L627.0,71.51 L628.0,71.54 L629.0,71.57 L630.0,71.60 L631.0,71.63 L632.0,71.66 L633.0,71.69 L634.0,71.72 L635.0,71.75 L636.0,71.78 L637.0,71.81 L638.0,71.84 L639.0,71.87 L640.0,71.90 L641.0,71.93 L642.0,71.96 L643.0,71.99 L644.0,72.03 L645.0,72.06 L646.0,72.09 L647.0,72.12 L648.0,72.16 L649.0,72.19 L650.0,72.22 L651.0,72.26 L652.0,72.29 L653.0,72.32 L654.0,72.36 L655.0,72.39 L656.0,72.43 L657.0,72.46 L658.0,72.50 L659.0,72.53 L660.0,72.57 L661.0,72.60 L662.0,72.64 L663.0,72.67 L664.0,72.71 L665.0,72.75 L666.0,72.78 L667.0,72.82 L668.0,72.85 L669.0,72.89 L670.0,72.93 L671.0,72.96 L672.0,73.00 L673.0,73.04 L674.0,73.07 L675.0,73.11 L676.0,73.15 L677.0,73.19 L678.0,73.22 L679.0,73.26" fill="none" stroke="#5a7a5a" stroke-width="0.6"/>
<path d="M389.0,56.72 L390.0,55.86 L391.0,54.93 L392.0,53.94 L393.0,52.90 L394.0,51.75 L395.0,50.51 L396.0,49.26 L397.0,48.10 L398.0,47.01 L399.0,45.95 L400.0,44.97 L401.0,44.10 L402.0,43.34 L403.0,42.65 L404.0,42.01 L405.0,41.41 L406.0,40.85 L407.0,40.33 L408.0,39.83 L409.0,39.36 L410.0,38.93 L411.0,38.54 L412.0,38.18 L413.0,37.86 L414.0,37.56 L415.0,37.28 L416.0,37.02 L417.0,36.79 L418.0,36.57 L419.0,36.37 L420.0,36.19 L421.0,36.02 L422.0,35.86 L423.0,35.71 L424.0,35.56 L425.0,35.43 L426.0,35.31 L427.0,35.20 L428.0,35.09 L429.0,34.98 L430.0,34.89 L431.0,34.81 L432.0,34.74 L433.0,34.67 L434.0,34.61 L435.0,34.56 L436.0,34.51 L437.0,34.47 L438.0,34.42 L439.0,34.38 L440.0,34.34 L441.0,34.30 L442.0,34.27 L443.0,34.24 L444.0,34.22 L445.0,34.20 L446.0,34.20 L447.0,34.20 L448.0,34.20 L449.0,34.20 L450.0,34.20 L451.0,34.21 L452.0,34.21 L453.0,34.21 L454.0,34.21 L455.0,34.22 L456.0,34.22 L457.0,34.22 L458.0,34.23 L459.0,34.23 L460.0,34.24 L461.0,34.24 L462.0,34.25 L463.0,34.25 L464.0,34.26 L465.0,34.27 L466.0,34.27 L467.0,34.28 L468.0,34.29 L469.0,34.29 L470.0,34.30 L471.0,34.31 L472.0,34.32 L473.0,34.34 L474.0,34.36 L475.0,34.38 L476.0,34.40 L477.0,34.42 L478.0,34.45 L479.0,34.47 L480.0,34.50 L481.0,34.53 L482.0,34.55 L483.0,34.58 L484.0,34.60 L485.0,34.62 L486.0,34.64 L487.0,34.66 L488.0,34.69 L489.0,34.71 L490.0,34.73 L491.0,34.75 L492.0,34.77 L493.0,34.78 L494.0,34.80 L495.0,34.82 L496.0,34.84 L497.0,34.86 L498.0,34.89 L499.0,34.91 L500.0,34.93 L501.0,34.95 L502.0,34.97 L503.0,35.00 L504.0,35.02 L505.0,35.05 L506.0,35.08 L507.0,35.10 L508.0,35.13 L509.0,35.16 L510.0,35.20 L511.0,35.23 L512.0,35.26 L513.0,35.30 L514.0,35.34 L515.0,35.39 L516.0,35.45 L517.0,35.52 L518.0,35.59 L519.0,35.66 L520.0,35.74 L521.0,35.82 L522.0,35.90 L523.0,35.98 L524.0,36.06 L525.0,36.14 L526.0,36.21 L527.0,36.28 L528.0,36.34 L529.0,36.40 L530.0,36.45 L531.0,36.51 L532.0,36.56 L533.0,36.61 L534.0,36.66 L535.0,36.71 L536.0,36.76 L537.0,36.81 L538.0,36.86 L539.0,36.90 L540.0,36.95 L541.0,37.00 L542.0,37.05 L543.0,37.09 L544.0,37.14 L545.0,37.18 L546.0,37.23 L547.0,37.27 L548.0,37.31 L549.0,37.36 L550.0,37.40 L551.0,37.44 L552.0,37.49 L553.0,37.53 L554.0,37.57 L555.0,37.61 L556.0,37.65 L557.0,37.69 L558.0,37.73 L559.0,37.77 L560.0,37.81 L561.0,37.85 L562.0,37.89 L563.0,37.93 L564.0,37.96 L565.0,38.00 L566.0,38.04 L567.0,38.08 L568.0,38.11 L569.0,38.15 L570.0,38.19 L571.0,38.22 L572.0,38.26 L573.0,38.29 L574.0,38.33 L575.0,38.36 L576.0,38.40 L577.0,38.43 L578.0,38.47 L579.0,38.50 L580.0,38.54 L581.0,38.57 L582.0,38.61 L583.0,38.64 L584.0,38.67 L585.0,38.71 L586.0,38.74 L587.0,38.77 L588.0,38.81 L589.0,38.84 L590.0,38.87 L591.0,38.91 L592.0,38.94 L593.0,38.97 L594.0,39.00 L595.0,39.04 L596.0,39.07 L597.0,39.10 L598.0,39.13 L599.0,39.17 L600.0,39.20 L601.0,39.23 L602.0,39.26 L603.0,39.30 L604.0,39.33 L605.0,39.36 L606.0,39.39 L607.0,39.43 L608.0,39.46 L609.0,39.49 L610.0,39.52 L611.0,39.55 L612.0,39.58 L613.0,39.61 L614.0,39.65 L615.0,39.68 L616.0,39.71 L617.0,39.74 L618.0,39.77 L619.0,39.80 L620.0,39.83 L621.0,39.86 L622.0,39.89 L623.0,39.92 L624.0,39.95 L625.0,39.98 L626.0,40.01 L627.0,40.04 L628.0,40.07 L629.0,40.10 L630.0,40.13 L631.0,40.16 L632.0,40.19 L633.0,40.22 L634.0,40.24 L635.0,40.27 L636.0,40.30 L637.0,40.33 L638.0,40.36 L639.0,40.39 L640.0,40.41 L641.0,40.44 L642.0,40.47 L643.0,40.50 L644.0,40.52 L645.0,40.55 L646.0,40.58 L647.0,40.60 L648.0,40.63 L649.0,40.66 L650.0,40.68 L651.0,40.71 L652.0,40.74 L653.0,40.76 L654.0,40.79 L655.0,40.81 L656.0,40.84 L657.0,40.86 L658.0,40.89 L659.0,40.92 L660.0,40.94 L661.0,40.96 L662.0,40.99 L663.0,41.01 L664.0,41.04 L665.0,41.06 L666.0,41.09 L667.0,41.11 L668.0,41.13 L669.0,41.16 L670.0,41.18 L671.0,41.20 L672.0,41.22 L673.0,41.25 L674.0,41.27 L675.0,41.29 L676.0,41.31 L677.0,41.34 L678.0,41.36 L679.0,41.38" fill="none" stroke="#2a44b0" stroke-width="1.1" stroke-dasharray="3.4,1.7"/>
<path d="M389.0,96.00 L390.0,95.76 L391.0,95.54 L392.0,95.32 L393.0,95.12 L394.0,94.93 L395.0,94.75 L396.0,94.60 L397.0,94.46 L398.0,94.34 L399.0,94.23 L400.0,94.13 L401.0,94.03 L402.0,93.93 L403.0,93.83 L404.0,93.72 L405.0,93.60 L406.0,93.47 L407.0,93.33 L408.0,93.18 L409.0,93.03 L410.0,92.87 L411.0,92.71 L412.0,92.55 L413.0,92.40 L414.0,92.25 L415.0,92.10 L416.0,91.96 L417.0,91.81 L418.0,91.67 L419.0,91.52 L420.0,91.38 L421.0,91.24 L422.0,91.10 L423.0,90.97 L424.0,90.84 L425.0,90.72 L426.0,90.60 L427.0,90.48 L428.0,90.37 L429.0,90.26 L430.0,90.15 L431.0,90.04 L432.0,89.94 L433.0,89.84 L434.0,89.75 L435.0,89.67 L436.0,89.60 L437.0,89.54 L438.0,89.48 L439.0,89.42 L440.0,89.37 L441.0,89.32 L442.0,89.27 L443.0,89.23 L444.0,89.19 L445.0,89.14 L446.0,89.10 L447.0,89.06 L448.0,89.01 L449.0,88.96 L450.0,88.91 L451.0,88.86 L452.0,88.81 L453.0,88.76 L454.0,88.72 L455.0,88.67 L456.0,88.63 L457.0,88.58 L458.0,88.54 L459.0,88.51 L460.0,88.48 L461.0,88.45 L462.0,88.43 L463.0,88.41 L464.0,88.40 L465.0,88.40 L466.0,88.40 L467.0,88.40 L468.0,88.40 L469.0,88.40 L470.0,88.40 L471.0,88.40 L472.0,88.40 L473.0,88.40 L474.0,88.40 L475.0,88.40 L476.0,88.40 L477.0,88.40 L478.0,88.40 L479.0,88.40 L480.0,88.40 L481.0,88.40 L482.0,88.40 L483.0,88.40 L484.0,88.40 L485.0,88.40 L486.0,88.40 L487.0,88.40 L488.0,88.40 L489.0,88.40 L490.0,88.40 L491.0,88.40 L492.0,88.40 L493.0,88.40 L494.0,88.40 L495.0,88.40 L496.0,88.40 L497.0,88.40 L498.0,88.40 L499.0,88.40 L500.0,88.40 L501.0,88.40 L502.0,88.40 L503.0,88.40 L504.0,88.40 L505.0,88.40 L506.0,88.40 L507.0,88.40 L508.0,88.40 L509.0,88.41 L510.0,88.41 L511.0,88.41 L512.0,88.42 L513.0,88.43 L514.0,88.43 L515.0,88.44 L516.0,88.45 L517.0,88.45 L518.0,88.46 L519.0,88.47 L520.0,88.48 L521.0,88.49 L522.0,88.50 L523.0,88.51 L524.0,88.53 L525.0,88.54 L526.0,88.55 L527.0,88.56 L528.0,88.58 L529.0,88.59 L530.0,88.60 L531.0,88.62 L532.0,88.63 L533.0,88.65 L534.0,88.66 L535.0,88.68 L536.0,88.69 L537.0,88.71 L538.0,88.72 L539.0,88.74 L540.0,88.75 L541.0,88.77 L542.0,88.78 L543.0,88.80 L544.0,88.81 L545.0,88.83 L546.0,88.84 L547.0,88.86 L548.0,88.87 L549.0,88.89 L550.0,88.90 L551.0,88.91 L552.0,88.93 L553.0,88.95 L554.0,88.96 L555.0,88.98 L556.0,88.99 L557.0,89.01 L558.0,89.03 L559.0,89.05 L560.0,89.07 L561.0,89.08 L562.0,89.10 L563.0,89.12 L564.0,89.14 L565.0,89.16 L566.0,89.18 L567.0,89.20 L568.0,89.22 L569.0,89.24 L570.0,89.26 L571.0,89.29 L572.0,89.31 L573.0,89.33 L574.0,89.35 L575.0,89.37 L576.0,89.39 L577.0,89.42 L578.0,89.44 L579.0,89.46 L580.0,89.48 L581.0,89.50 L582.0,89.52 L583.0,89.55 L584.0,89.57 L585.0,89.59 L586.0,89.61 L587.0,89.63 L588.0,89.65 L589.0,89.68 L590.0,89.70 L591.0,89.72 L592.0,89.74 L593.0,89.76 L594.0,89.78 L595.0,89.80 L596.0,89.82 L597.0,89.84 L598.0,89.86 L599.0,89.88 L600.0,89.90 L601.0,89.92 L602.0,89.94 L603.0,89.96 L604.0,89.98 L605.0,90.00 L606.0,90.02 L607.0,90.04 L608.0,90.06 L609.0,90.08 L610.0,90.10 L611.0,90.12 L612.0,90.14 L613.0,90.15 L614.0,90.17 L615.0,90.19 L616.0,90.21 L617.0,90.23 L618.0,90.25 L619.0,90.27 L620.0,90.29 L621.0,90.31 L622.0,90.33 L623.0,90.35 L624.0,90.37 L625.0,90.39 L626.0,90.41 L627.0,90.43 L628.0,90.45 L629.0,90.47 L630.0,90.49 L631.0,90.51 L632.0,90.53 L633.0,90.55 L634.0,90.57 L635.0,90.60 L636.0,90.62 L637.0,90.64 L638.0,90.66 L639.0,90.68 L640.0,90.70 L641.0,90.72 L642.0,90.74 L643.0,90.76 L644.0,90.79 L645.0,90.81 L646.0,90.83 L647.0,90.85 L648.0,90.87 L649.0,90.89 L650.0,90.92 L651.0,90.94 L652.0,90.96 L653.0,90.98 L654.0,91.00 L655.0,91.03 L656.0,91.05 L657.0,91.07 L658.0,91.09 L659.0,91.12 L660.0,91.14 L661.0,91.16 L662.0,91.18 L663.0,91.21 L664.0,91.23 L665.0,91.25 L666.0,91.27 L667.0,91.30 L668.0,91.32 L669.0,91.34 L670.0,91.37 L671.0,91.39 L672.0,91.41 L673.0,91.44 L674.0,91.46 L675.0,91.48 L676.0,91.51 L677.0,91.53 L678.0,91.55 L679.0,91.58" fill="none" stroke="#2a44b0" stroke-width="1.1" stroke-dasharray="3.4,1.7"/>
<path d="M389.0,79.60 L390.0,79.44 L391.0,79.23 L392.0,78.98 L393.0,78.70 L394.0,78.36 L395.0,77.94 L396.0,77.48 L397.0,77.00 L398.0,76.48 L399.0,75.92 L400.0,75.35 L401.0,74.80 L402.0,74.29 L403.0,73.80 L404.0,73.32 L405.0,72.84 L406.0,72.35 L407.0,71.85 L408.0,71.35 L409.0,70.87 L410.0,70.40 L411.0,69.96 L412.0,69.53 L413.0,69.11 L414.0,68.72 L415.0,68.33 L416.0,67.94 L417.0,67.59 L418.0,67.30 L419.0,67.08 L420.0,66.89 L421.0,66.72 L422.0,66.56 L423.0,66.40 L424.0,66.24 L425.0,66.08 L426.0,65.93 L427.0,65.80 L428.0,65.68 L429.0,65.57 L430.0,65.46 L431.0,65.37 L432.0,65.28 L433.0,65.21 L434.0,65.14 L435.0,65.08 L436.0,65.02 L437.0,64.96 L438.0,64.90 L439.0,64.84 L440.0,64.78 L441.0,64.72 L442.0,64.66 L443.0,64.61 L444.0,64.56 L445.0,64.51 L446.0,64.46 L447.0,64.43 L448.0,64.40 L449.0,64.38 L450.0,64.35 L451.0,64.33 L452.0,64.31 L453.0,64.29 L454.0,64.27 L455.0,64.25 L456.0,64.23 L457.0,64.21 L458.0,64.20 L459.0,64.18 L460.0,64.17 L461.0,64.15 L462.0,64.14 L463.0,64.13 L464.0,64.12 L465.0,64.11 L466.0,64.11 L467.0,64.10 L468.0,64.10 L469.0,64.10 L470.0,64.10 L471.0,64.10 L472.0,64.10 L473.0,64.11 L474.0,64.11 L475.0,64.11 L476.0,64.12 L477.0,64.12 L478.0,64.13 L479.0,64.13 L480.0,64.14 L481.0,64.15 L482.0,64.15 L483.0,64.16 L484.0,64.17 L485.0,64.18 L486.0,64.19 L487.0,64.19 L488.0,64.20 L489.0,64.21 L490.0,64.22 L491.0,64.23 L492.0,64.24 L493.0,64.25 L494.0,64.26 L495.0,64.27 L496.0,64.28 L497.0,64.29 L498.0,64.30 L499.0,64.31 L500.0,64.32 L501.0,64.33 L502.0,64.35 L503.0,64.36 L504.0,64.38 L505.0,64.39 L506.0,64.41 L507.0,64.42 L508.0,64.44 L509.0,64.46 L510.0,64.48 L511.0,64.50 L512.0,64.52 L513.0,64.54 L514.0,64.56 L515.0,64.58 L516.0,64.60 L517.0,64.62 L518.0,64.64 L519.0,64.66 L520.0,64.69 L521.0,64.71 L522.0,64.73 L523.0,64.75 L524.0,64.78 L525.0,64.80 L526.0,64.82 L527.0,64.84 L528.0,64.86 L529.0,64.89 L530.0,64.91 L531.0,64.93 L532.0,64.95 L533.0,64.97 L534.0,64.99 L535.0,65.01 L536.0,65.03 L537.0,65.05 L538.0,65.07 L539.0,65.08 L540.0,65.10 L541.0,65.12 L542.0,65.13 L543.0,65.15 L544.0,65.16 L545.0,65.18 L546.0,65.20 L547.0,65.21 L548.0,65.23 L549.0,65.24 L550.0,65.25 L551.0,65.27 L552.0,65.28 L553.0,65.30 L554.0,65.31 L555.0,65.33 L556.0,65.34 L557.0,65.35 L558.0,65.37 L559.0,65.38 L560.0,65.39 L561.0,65.41 L562.0,65.42 L563.0,65.43 L564.0,65.45 L565.0,65.46 L566.0,65.47 L567.0,65.49 L568.0,65.50 L569.0,65.51 L570.0,65.53 L571.0,65.54 L572.0,65.55 L573.0,65.57 L574.0,65.58 L575.0,65.59 L576.0,65.61 L577.0,65.62 L578.0,65.63 L579.0,65.65 L580.0,65.66 L581.0,65.68 L582.0,65.69 L583.0,65.71 L584.0,65.72 L585.0,65.74 L586.0,65.75 L587.0,65.77 L588.0,65.78 L589.0,65.80 L590.0,65.82 L591.0,65.83 L592.0,65.85 L593.0,65.87 L594.0,65.88 L595.0,65.90 L596.0,65.92 L597.0,65.94 L598.0,65.95 L599.0,65.97 L600.0,65.99 L601.0,66.01 L602.0,66.03 L603.0,66.05 L604.0,66.07 L605.0,66.09 L606.0,66.11 L607.0,66.13 L608.0,66.15 L609.0,66.17 L610.0,66.19 L611.0,66.21 L612.0,66.23 L613.0,66.26 L614.0,66.28 L615.0,66.30 L616.0,66.32 L617.0,66.34 L618.0,66.37 L619.0,66.39 L620.0,66.41 L621.0,66.44 L622.0,66.46 L623.0,66.48 L624.0,66.51 L625.0,66.53 L626.0,66.55 L627.0,66.58 L628.0,66.60 L629.0,66.63 L630.0,66.65 L631.0,66.67 L632.0,66.70 L633.0,66.72 L634.0,66.75 L635.0,66.77 L636.0,66.80 L637.0,66.82 L638.0,66.85 L639.0,66.87 L640.0,66.90 L641.0,66.93 L642.0,66.95 L643.0,66.98 L644.0,67.00 L645.0,67.03 L646.0,67.06 L647.0,67.09 L648.0,67.11 L649.0,67.14 L650.0,67.17 L651.0,67.20 L652.0,67.22 L653.0,67.25 L654.0,67.28 L655.0,67.31 L656.0,67.34 L657.0,67.37 L658.0,67.40 L659.0,67.43 L660.0,67.46 L661.0,67.49 L662.0,67.52 L663.0,67.55 L664.0,67.58 L665.0,67.61 L666.0,67.64 L667.0,67.68 L668.0,67.71 L669.0,67.74 L670.0,67.77 L671.0,67.80 L672.0,67.84 L673.0,67.87 L674.0,67.90 L675.0,67.93 L676.0,67.97 L677.0,68.00 L678.0,68.03 L679.0,68.07" fill="none" stroke="#1f44a8" stroke-width="2.3"/>
</g>
<line x1="416.1" y1="114.4" x2="416.1" y2="123.6" stroke="#111" stroke-width="1.4"/>
<line x1="406.20" y1="114.4" x2="426.00" y2="114.4" stroke="#111" stroke-width="1.4"/>
<line x1="406.20" y1="123.6" x2="426.00" y2="123.6" stroke="#6a4a6a" stroke-width="1.4"/>
<path d="M409.20,119.20 L416.10,112.20 L423.00,119.20 L416.10,126.20 Z" fill="#2a50a8" stroke="#0a0a20" stroke-width="1"/>
<line x1="475.9" y1="99.5" x2="475.9" y2="109.3" stroke="#111" stroke-width="1.4"/>
<line x1="466.00" y1="99.5" x2="485.80" y2="99.5" stroke="#111" stroke-width="1.4"/>
<line x1="466.00" y1="109.3" x2="485.80" y2="109.3" stroke="#111" stroke-width="1.4"/>
<path d="M469.00,104.30 L475.90,97.30 L482.80,104.30 L475.90,111.30 Z" fill="#2a50a8" stroke="#0a0a20" stroke-width="1"/>
<line x1="612.9" y1="100.0" x2="612.9" y2="120.2" stroke="#111" stroke-width="1.4"/>
<line x1="603.00" y1="100.0" x2="622.80" y2="100.0" stroke="#7a3030" stroke-width="1.4"/>
<line x1="603.00" y1="120.2" x2="622.80" y2="120.2" stroke="#111" stroke-width="1.4"/>
<path d="M606.00,109.90 L612.90,102.90 L619.80,109.90 L612.90,116.90 Z" fill="#2a50a8" stroke="#0a0a20" stroke-width="1"/>
<line x1="389.0" y1="3.3" x2="389.0" y2="130.0" stroke="#aaa" stroke-width="1.1"/>
<line x1="389.0" y1="3.3" x2="679.7" y2="3.3" stroke="#6a6a6a" stroke-width="1.0"/>
<line x1="679.7" y1="3.3" x2="679.7" y2="130.0" stroke="#222" stroke-width="0.9"/>
<line x1="389.0" y1="130.0" x2="679.7" y2="130.0" stroke="#333" stroke-width="0.9"/>
<line x1="389.00" y1="130.0" x2="389.00" y2="133.3" stroke="#333" stroke-width="0.9"/>
<text x="354.14" y="144.80" font-size="10.45" fill="#1c1c1c" stroke="#1c1c1c" stroke-width="0.18" transform="scale(1.0895,1)">1</text>
<line x1="437.45" y1="130.0" x2="437.45" y2="133.3" stroke="#333" stroke-width="0.9"/>
<text x="398.61" y="144.80" font-size="10.45" fill="#1c1c1c" stroke="#1c1c1c" stroke-width="0.18" transform="scale(1.0895,1)">3</text>
<line x1="485.90" y1="130.0" x2="485.90" y2="133.3" stroke="#333" stroke-width="0.9"/>
<text x="443.08" y="144.80" font-size="10.45" fill="#1c1c1c" stroke="#1c1c1c" stroke-width="0.18" transform="scale(1.0895,1)">5</text>
<line x1="534.35" y1="130.0" x2="534.35" y2="133.3" stroke="#333" stroke-width="0.9"/>
<text x="487.55" y="144.80" font-size="10.45" fill="#1c1c1c" stroke="#1c1c1c" stroke-width="0.18" transform="scale(1.0895,1)">7</text>
<line x1="582.80" y1="130.0" x2="582.80" y2="133.3" stroke="#333" stroke-width="0.9"/>
<text x="532.02" y="144.80" font-size="10.45" fill="#1c1c1c" stroke="#1c1c1c" stroke-width="0.18" transform="scale(1.0895,1)">9</text>
<line x1="631.25" y1="130.0" x2="631.25" y2="133.3" stroke="#333" stroke-width="0.9"/>
<text x="573.58 579.39" y="144.80" font-size="10.45" fill="#1c1c1c" stroke="#1c1c1c" stroke-width="0.18" transform="scale(1.0895,1)">11</text>
<line x1="679.70" y1="130.0" x2="679.70" y2="133.3" stroke="#333" stroke-width="0.9"/>
<text x="618.05 623.86" y="144.80" font-size="10.45" fill="#1c1c1c" stroke="#1c1c1c" stroke-width="0.18" transform="scale(1.0895,1)">13</text>
<line x1="385.7" y1="130.00" x2="389.0" y2="130.00" stroke="#333" stroke-width="0.9"/>
<text x="345.08" y="133.60" font-size="10.45" fill="#1c1c1c" stroke="#1c1c1c" stroke-width="0.18" transform="scale(1.0895,1)">0</text>
<line x1="385.7" y1="98.33" x2="389.0" y2="98.33" stroke="#333" stroke-width="0.9"/>
<text x="339.27 345.08" y="101.92" font-size="10.45" fill="#1c1c1c" stroke="#1c1c1c" stroke-width="0.18" transform="scale(1.0895,1)">10</text>
<line x1="385.7" y1="66.65" x2="389.0" y2="66.65" stroke="#333" stroke-width="0.9"/>
<text x="339.27 345.08" y="70.25" font-size="10.45" fill="#1c1c1c" stroke="#1c1c1c" stroke-width="0.18" transform="scale(1.0895,1)">20</text>
<line x1="385.7" y1="34.97" x2="389.0" y2="34.97" stroke="#333" stroke-width="0.9"/>
<text x="339.27 345.08" y="38.57" font-size="10.45" fill="#1c1c1c" stroke="#1c1c1c" stroke-width="0.18" transform="scale(1.0895,1)">30</text>
<line x1="385.7" y1="3.30" x2="389.0" y2="3.30" stroke="#333" stroke-width="0.9"/>
<text x="339.27 345.08" y="6.90" font-size="10.45" fill="#1c1c1c" stroke="#1c1c1c" stroke-width="0.18" transform="scale(1.0895,1)">40</text>
<text x="442.00 447.77 449.95 455.50 463.96 469.86 472.85 478.54 482.05 485.17 488.23 493.88 502.80" y="157.90" font-size="10.45" fill="#1c1c1c" stroke="#1c1c1c" stroke-width="0.18" transform="scale(1.1278,1)">diameter [nm]</text>
<g transform="rotate(-90 363.20 67.40)"><text x="277.40 283.23 286.62 292.13 299.84 302.96 308.66 311.62 315.02 320.95 323.99 329.60 332.76 335.87 341.59 350.25 353.04" y="67.40" font-size="10.45" fill="#1c1c1c" stroke="#1c1c1c" stroke-width="0.18" transform="scale(1.1160,1)">growth rate [nm h</text><text x="325.22 329.50" y="63.80" font-size="7.31" fill="#1c1c1c" stroke="#1c1c1c" stroke-width="0.16" transform="scale(1.2314,1)">−1</text><text x="330.38" y="67.40" font-size="10.45" fill="#1c1c1c" stroke="#1c1c1c" stroke-width="0.16" transform="scale(1.2500,1)">]</text></g>
<text x="356.71 362.52" y="14.90" font-size="10.45" fill="#1c1c1c" stroke="#1c1c1c" stroke-width="0.18" transform="scale(1.0977,1)">b)</text>
<rect x="530.1" y="7.4" width="145.2" height="43.1" rx="2" fill="#fff" fill-opacity="0.8" stroke="#ccc" stroke-width="0.6"/>
<line x1="533.2" y1="15.2" x2="552.8" y2="15.2" stroke="#1f44a8" stroke-width="2.2"/>
<rect x="533.3" y="25.2" width="19.4" height="6.7" fill="#e47878"/>
<rect x="533.3" y="38.2" width="19.4" height="6.7" fill="#d3d3d3"/>
<line x1="610.5" y1="10.4" x2="629.9" y2="10.4" stroke="#111" stroke-width="1.4"/>
<line x1="610.5" y1="20.2" x2="629.9" y2="20.2" stroke="#111" stroke-width="1.4"/>
<line x1="620.2" y1="10.4" x2="620.2" y2="20.2" stroke="#111" stroke-width="1.4"/>
<path d="M613.3,15.3 L620.2,8.3 L627.1,15.3 L620.2,22.3 Z" fill="#2a50a8" stroke="#0a0a20" stroke-width="1"/>
<rect x="610.9" y="25.2" width="18.5" height="6.7" fill="#c796c9"/>
<rect x="610.9" y="38.4" width="18.5" height="6.8" fill="#e8262b"/>
<g><text x="598.44 605.75" y="18.50" font-size="9.40" fill="#1c1c1c" stroke="#1c1c1c" stroke-width="0.21" transform="scale(0.9332,1)">GR</text><text x="599.06 603.56 607.90" y="19.80" font-size="6.58" fill="#1c1c1c" stroke="#1c1c1c" stroke-width="0.21" font-style="italic" transform="scale(0.9542,1)">VBS</text></g>
<g><text x="598.44 605.75" y="31.30" font-size="9.40" fill="#1c1c1c" stroke="#1c1c1c" stroke-width="0.21" transform="scale(0.9332,1)">GR</text><text x="599.39 603.11 607.57 612.64" y="32.60" font-size="6.58" fill="#1c1c1c" stroke="#1c1c1c" stroke-width="0.21" font-style="italic" transform="scale(0.9536,1)">LVOC</text></g>
<g><text x="598.44 605.75" y="44.40" font-size="9.40" fill="#1c1c1c" stroke="#1c1c1c" stroke-width="0.21" transform="scale(0.9332,1)">GR</text><text x="605.72 610.03 613.79 618.31 623.42" y="45.70" font-size="6.58" fill="#1c1c1c" stroke="#1c1c1c" stroke-width="0.21" font-style="italic" transform="scale(0.9434,1)">ELVOC</text></g>
<g><text x="681.28 688.59" y="18.50" font-size="9.40" fill="#1c1c1c" stroke="#1c1c1c" stroke-width="0.21" transform="scale(0.9332,1)">GR</text><text x="611.93 617.54 621.16 624.70" y="19.80" font-size="6.58" fill="#1c1c1c" stroke="#1c1c1c" stroke-width="0.19" font-style="italic" transform="scale(1.0606,1)">meas</text></g>
<g><text x="681.28 688.59" y="31.40" font-size="9.40" fill="#1c1c1c" stroke="#1c1c1c" stroke-width="0.21" transform="scale(0.9332,1)">GR</text><text x="678.73 683.50 687.21 691.66 696.71" y="32.70" font-size="6.58" fill="#1c1c1c" stroke="#1c1c1c" stroke-width="0.21" font-style="italic" transform="scale(0.9560,1)">ULVOC</text></g>
<g><text x="681.28 688.59" y="44.30" font-size="9.40" fill="#1c1c1c" stroke="#1c1c1c" stroke-width="0.21" transform="scale(0.9332,1)">GR</text><text x="654.33" y="45.60" font-size="6.58" fill="#1c1c1c" stroke="#1c1c1c" stroke-width="0.20" font-style="italic" transform="scale(0.9916,1)">H</text><text x="599.87" y="46.60" font-size="4.60" fill="#1c1c1c" stroke="#1c1c1c" stroke-width="0.18" font-style="italic" transform="scale(1.0895,1)">2</text><text x="700.23 704.62" y="45.60" font-size="6.58" fill="#1c1c1c" stroke="#1c1c1c" stroke-width="0.21" font-style="italic" transform="scale(0.9372,1)">SO</text><text x="610.61" y="46.60" font-size="4.60" fill="#1c1c1c" stroke="#1c1c1c" stroke-width="0.18" font-style="italic" transform="scale(1.0895,1)">4</text></g>
<clipPath id="cc"><rect x="40.0" y="177.6" width="291.00" height="126.80"/></clipPath>
<g clip-path="url(#cc)">
<line x1="120.00" y1="311.53" x2="280.00" y2="168.86" stroke="#111" stroke-width="1.5" stroke-dasharray="5.4,2.6"/>
</g>
<g transform="rotate(-40 254.60 203.50)"><text x="200.66 205.33 207.35 212.26 217.53 220.42 222.37 226.83 229.43 231.61 233.67 241.46 243.83" y="203.50" font-size="9.40" fill="#1c1c1c" stroke="#1c1c1c" stroke-width="0.18" transform="scale(1.1381,1)">kinetic limit</text></g>
<line x1="171.6" y1="232.4" x2="171.6" y2="250.1" stroke="#999" stroke-width="0.9"/>
<line x1="169.0" y1="232.4" x2="174.2" y2="232.4" stroke="#999" stroke-width="0.9"/>
<line x1="169.0" y1="250.1" x2="174.2" y2="250.1" stroke="#999" stroke-width="0.9"/>
<line x1="178.8" y1="253.7" x2="178.8" y2="276.4" stroke="#999" stroke-width="0.9"/>
<line x1="176.20000000000002" y1="253.7" x2="181.4" y2="253.7" stroke="#999" stroke-width="0.9"/>
<line x1="176.20000000000002" y1="276.4" x2="181.4" y2="276.4" stroke="#999" stroke-width="0.9"/>
<line x1="210.5" y1="264.3" x2="210.5" y2="279.9" stroke="#999" stroke-width="0.9"/>
<line x1="207.9" y1="264.3" x2="213.1" y2="264.3" stroke="#999" stroke-width="0.9"/>
<line x1="207.9" y1="279.9" x2="213.1" y2="279.9" stroke="#999" stroke-width="0.9"/>
<line x1="145.1" y1="278.2" x2="145.1" y2="289.0" stroke="#999" stroke-width="0.9"/>
<line x1="142.5" y1="278.2" x2="147.7" y2="278.2" stroke="#999" stroke-width="0.9"/>
<line x1="142.5" y1="289.0" x2="147.7" y2="289.0" stroke="#999" stroke-width="0.9"/>
<line x1="246.4" y1="236.0" x2="246.4" y2="255.8" stroke="#999" stroke-width="0.9"/>
<line x1="243.8" y1="236.0" x2="249.0" y2="236.0" stroke="#999" stroke-width="0.9"/>
<line x1="243.8" y1="255.8" x2="249.0" y2="255.8" stroke="#999" stroke-width="0.9"/>
<line x1="250.8" y1="221.4" x2="250.8" y2="235.0" stroke="#999" stroke-width="0.9"/>
<line x1="248.20000000000002" y1="221.4" x2="253.4" y2="221.4" stroke="#999" stroke-width="0.9"/>
<line x1="248.20000000000002" y1="235.0" x2="253.4" y2="235.0" stroke="#999" stroke-width="0.9"/>
<line x1="244.0" y1="228.4" x2="258.0" y2="228.4" stroke="#999" stroke-width="0.9"/>
<line x1="244.0" y1="225.8" x2="244.0" y2="231.0" stroke="#999" stroke-width="0.9"/>
<line x1="258.0" y1="225.8" x2="258.0" y2="231.0" stroke="#999" stroke-width="0.9"/>
<line x1="243.6" y1="229.0" x2="243.6" y2="241.0" stroke="#999" stroke-width="0.9"/>
<line x1="241.0" y1="229.0" x2="246.2" y2="229.0" stroke="#999" stroke-width="0.9"/>
<line x1="241.0" y1="241.0" x2="246.2" y2="241.0" stroke="#999" stroke-width="0.9"/>
<circle cx="188.1" cy="196.3" r="3.7" fill="#23238e" stroke="#1a1a1a" stroke-width="1.0"/>
<circle cx="176.3" cy="211.3" r="3.7" fill="#23238e" stroke="#1a1a1a" stroke-width="1.0"/>
<circle cx="183.5" cy="218.0" r="3.7" fill="#e15e63" stroke="#1a1a1a" stroke-width="1.0"/>
<circle cx="195.4" cy="216.6" r="3.7" fill="#d8dc40" stroke="#1a1a1a" stroke-width="1.0"/>
<circle cx="174.5" cy="221.5" r="3.7" fill="#dfe23e" stroke="#1a1a1a" stroke-width="1.0"/>
<circle cx="174.7" cy="227.4" r="3.7" fill="#dfe23e" stroke="#1a1a1a" stroke-width="1.0"/>
<circle cx="180.7" cy="232.5" r="3.7" fill="#dfe23e" stroke="#1a1a1a" stroke-width="1.0"/>
<circle cx="206.0" cy="226.1" r="3.7" fill="#e15e63" stroke="#1a1a1a" stroke-width="1.0"/>
<circle cx="153.5" cy="250.6" r="3.7" fill="#e15e63" stroke="#1a1a1a" stroke-width="1.0"/>
<circle cx="157.8" cy="251.8" r="3.7" fill="#e15e63" stroke="#1a1a1a" stroke-width="1.0"/>
<circle cx="161.5" cy="247.5" r="3.7" fill="#dfe23e" stroke="#1a1a1a" stroke-width="1.0"/>
<circle cx="168.4" cy="253.8" r="3.7" fill="#23238e" stroke="#1a1a1a" stroke-width="1.0"/>
<circle cx="160.0" cy="260.6" r="3.7" fill="#e15e63" stroke="#1a1a1a" stroke-width="1.0"/>
<circle cx="160.0" cy="271.8" r="3.7" fill="#e15e63" stroke="#1a1a1a" stroke-width="1.0"/>
<rect x="167.50" y="236.10" width="8.2" height="8.2" fill="#f08a4a" stroke="#1a1a1a" stroke-width="1.0"/>
<rect x="174.70" y="259.20" width="8.2" height="8.2" fill="#df566e" stroke="#1a1a1a" stroke-width="1.0"/>
<rect x="206.40" y="267.60" width="8.2" height="8.2" fill="#f6a93a" stroke="#1a1a1a" stroke-width="1.0"/>
<rect x="141.00" y="279.70" width="8.2" height="8.2" fill="#ea6f5c" stroke="#1a1a1a" stroke-width="1.0"/>
<rect x="139.10" y="284.60" width="8.2" height="8.2" fill="#ea6f5c" stroke="#1a1a1a" stroke-width="1.0"/>
<rect x="222.90" y="239.20" width="8.2" height="8.2" fill="#f6a93a" stroke="#1a1a1a" stroke-width="1.0"/>
<rect x="227.60" y="239.20" width="8.2" height="8.2" fill="#f08a4a" stroke="#1a1a1a" stroke-width="1.0"/>
<rect x="242.30" y="237.40" width="8.2" height="8.2" fill="#f6a93a" stroke="#1a1a1a" stroke-width="1.0"/>
<rect x="239.50" y="230.80" width="8.2" height="8.2" fill="#f6a93a" stroke="#1a1a1a" stroke-width="1.0"/>
<rect x="246.70" y="224.30" width="8.2" height="8.2" fill="#f6a93a" stroke="#1a1a1a" stroke-width="1.0"/>
<rect x="40.4" y="177.6" width="290.60" height="126.80" fill="none" stroke="#2a2a2a" stroke-width="0.9"/>
<line x1="40.00" y1="304.4" x2="40.00" y2="307.7" stroke="#333" stroke-width="0.9"/>
<g><text x="28.87 34.68" y="319.00" font-size="10.45" fill="#1c1c1c" stroke="#1c1c1c" stroke-width="0.18" transform="scale(1.0895,1)">10</text><text x="40.49" y="315.60" font-size="7.31" fill="#1c1c1c" stroke="#1c1c1c" stroke-width="0.18" transform="scale(1.0895,1)">6</text></g>
<line x1="69.20" y1="304.4" x2="69.20" y2="306.2" stroke="#333" stroke-width="0.7"/>
<line x1="86.28" y1="304.4" x2="86.28" y2="306.2" stroke="#333" stroke-width="0.7"/>
<line x1="98.40" y1="304.4" x2="98.40" y2="306.2" stroke="#333" stroke-width="0.7"/>
<line x1="107.80" y1="304.4" x2="107.80" y2="306.2" stroke="#333" stroke-width="0.7"/>
<line x1="115.48" y1="304.4" x2="115.48" y2="306.2" stroke="#333" stroke-width="0.7"/>
<line x1="121.97" y1="304.4" x2="121.97" y2="306.2" stroke="#333" stroke-width="0.7"/>
<line x1="127.60" y1="304.4" x2="127.60" y2="306.2" stroke="#333" stroke-width="0.7"/>
<line x1="132.56" y1="304.4" x2="132.56" y2="306.2" stroke="#333" stroke-width="0.7"/>
<line x1="137.00" y1="304.4" x2="137.00" y2="307.7" stroke="#333" stroke-width="0.9"/>
<g><text x="117.90 123.71" y="319.00" font-size="10.45" fill="#1c1c1c" stroke="#1c1c1c" stroke-width="0.18" transform="scale(1.0895,1)">10</text><text x="129.52" y="315.60" font-size="7.31" fill="#1c1c1c" stroke="#1c1c1c" stroke-width="0.18" transform="scale(1.0895,1)">7</text></g>
<line x1="166.20" y1="304.4" x2="166.20" y2="306.2" stroke="#333" stroke-width="0.7"/>
<line x1="183.28" y1="304.4" x2="183.28" y2="306.2" stroke="#333" stroke-width="0.7"/>
<line x1="195.40" y1="304.4" x2="195.40" y2="306.2" stroke="#333" stroke-width="0.7"/>
<line x1="204.80" y1="304.4" x2="204.80" y2="306.2" stroke="#333" stroke-width="0.7"/>
<line x1="212.48" y1="304.4" x2="212.48" y2="306.2" stroke="#333" stroke-width="0.7"/>
<line x1="218.97" y1="304.4" x2="218.97" y2="306.2" stroke="#333" stroke-width="0.7"/>
<line x1="224.60" y1="304.4" x2="224.60" y2="306.2" stroke="#333" stroke-width="0.7"/>
<line x1="229.56" y1="304.4" x2="229.56" y2="306.2" stroke="#333" stroke-width="0.7"/>
<line x1="234.00" y1="304.4" x2="234.00" y2="307.7" stroke="#333" stroke-width="0.9"/>
<g><text x="206.93 212.74" y="319.00" font-size="10.45" fill="#1c1c1c" stroke="#1c1c1c" stroke-width="0.18" transform="scale(1.0895,1)">10</text><text x="218.55" y="315.60" font-size="7.31" fill="#1c1c1c" stroke="#1c1c1c" stroke-width="0.18" transform="scale(1.0895,1)">8</text></g>
<line x1="263.20" y1="304.4" x2="263.20" y2="306.2" stroke="#333" stroke-width="0.7"/>
<line x1="280.28" y1="304.4" x2="280.28" y2="306.2" stroke="#333" stroke-width="0.7"/>
<line x1="292.40" y1="304.4" x2="292.40" y2="306.2" stroke="#333" stroke-width="0.7"/>
<line x1="301.80" y1="304.4" x2="301.80" y2="306.2" stroke="#333" stroke-width="0.7"/>
<line x1="309.48" y1="304.4" x2="309.48" y2="306.2" stroke="#333" stroke-width="0.7"/>
<line x1="315.97" y1="304.4" x2="315.97" y2="306.2" stroke="#333" stroke-width="0.7"/>
<line x1="321.60" y1="304.4" x2="321.60" y2="306.2" stroke="#333" stroke-width="0.7"/>
<line x1="326.56" y1="304.4" x2="326.56" y2="306.2" stroke="#333" stroke-width="0.7"/>
<line x1="331.00" y1="304.4" x2="331.00" y2="307.7" stroke="#333" stroke-width="0.9"/>
<g><text x="295.96 301.77" y="319.00" font-size="10.45" fill="#1c1c1c" stroke="#1c1c1c" stroke-width="0.18" transform="scale(1.0895,1)">10</text><text x="307.58" y="315.60" font-size="7.31" fill="#1c1c1c" stroke="#1c1c1c" stroke-width="0.18" transform="scale(1.0895,1)">9</text></g>
<line x1="36.7" y1="304.40" x2="40.0" y2="304.40" stroke="#333" stroke-width="0.9"/>
<g><text x="14.60 20.41" y="308.70" font-size="10.45" fill="#1c1c1c" stroke="#1c1c1c" stroke-width="0.18" transform="scale(1.0895,1)">10</text><text x="26.22" y="305.10" font-size="7.31" fill="#1c1c1c" stroke="#1c1c1c" stroke-width="0.18" transform="scale(1.0895,1)">0</text></g>
<line x1="36.7" y1="218.80" x2="40.0" y2="218.80" stroke="#333" stroke-width="0.9"/>
<g><text x="14.60 20.41" y="223.10" font-size="10.45" fill="#1c1c1c" stroke="#1c1c1c" stroke-width="0.18" transform="scale(1.0895,1)">10</text><text x="26.22" y="219.50" font-size="7.31" fill="#1c1c1c" stroke="#1c1c1c" stroke-width="0.18" transform="scale(1.0895,1)">1</text></g>
<line x1="38.2" y1="278.63" x2="40.0" y2="278.63" stroke="#333" stroke-width="0.7"/>
<line x1="38.2" y1="263.56" x2="40.0" y2="263.56" stroke="#333" stroke-width="0.7"/>
<line x1="38.2" y1="252.86" x2="40.0" y2="252.86" stroke="#333" stroke-width="0.7"/>
<line x1="38.2" y1="244.57" x2="40.0" y2="244.57" stroke="#333" stroke-width="0.7"/>
<line x1="38.2" y1="237.79" x2="40.0" y2="237.79" stroke="#333" stroke-width="0.7"/>
<line x1="38.2" y1="232.06" x2="40.0" y2="232.06" stroke="#333" stroke-width="0.7"/>
<line x1="38.2" y1="227.10" x2="40.0" y2="227.10" stroke="#333" stroke-width="0.7"/>
<line x1="38.2" y1="222.72" x2="40.0" y2="222.72" stroke="#333" stroke-width="0.7"/>
<line x1="38.2" y1="193.03" x2="40.0" y2="193.03" stroke="#333" stroke-width="0.7"/>
<line x1="38.2" y1="177.96" x2="40.0" y2="177.96" stroke="#333" stroke-width="0.7"/>
<text x="40.50 45.73" y="189.00" font-size="10.45" fill="#1c1c1c" stroke="#1c1c1c" stroke-width="0.19" transform="scale(1.0747,1)">c)</text>
<text x="44.99 50.14 53.19 58.41 61.02 66.32" y="298.60" font-size="9.40" fill="#1c1c1c" stroke="#1c1c1c" stroke-width="0.18" transform="scale(1.0891,1)">3-7 nm</text>
<defs><linearGradient id="plasma" x1="0" y1="1" x2="0" y2="0"><stop offset="0" stop-color="#0d0887"/><stop offset="0.125" stop-color="#4c02a1"/><stop offset="0.25" stop-color="#7e03a8"/><stop offset="0.375" stop-color="#a92395"/><stop offset="0.5" stop-color="#cc4778"/><stop offset="0.625" stop-color="#e56b5d"/><stop offset="0.75" stop-color="#f89441"/><stop offset="0.875" stop-color="#fdc328"/><stop offset="1" stop-color="#f0f921"/></linearGradient></defs>
<rect x="50.4" y="199.2" width="4.3" height="75.4" fill="url(#plasma)" stroke="#333" stroke-width="0.7"/>
<line x1="54.7" y1="207.20" x2="57.3" y2="207.20" stroke="#333" stroke-width="0.8"/>
<text x="55.99 60.78" y="210.10" font-size="8.61" fill="#1c1c1c" stroke="#1c1c1c" stroke-width="0.18" transform="scale(1.0895,1)">20</text>
<line x1="54.7" y1="221.95" x2="57.3" y2="221.95" stroke="#333" stroke-width="0.8"/>
<text x="55.99 60.78" y="224.85" font-size="8.61" fill="#1c1c1c" stroke="#1c1c1c" stroke-width="0.18" transform="scale(1.0895,1)">10</text>
<line x1="54.7" y1="236.70" x2="57.3" y2="236.70" stroke="#333" stroke-width="0.8"/>
<text x="55.99" y="239.60" font-size="8.61" fill="#1c1c1c" stroke="#1c1c1c" stroke-width="0.18" transform="scale(1.0895,1)">0</text>
<line x1="54.7" y1="251.45" x2="57.3" y2="251.45" stroke="#333" stroke-width="0.8"/>
<text x="51.87 57.09 61.49" y="254.35" font-size="8.61" fill="#1c1c1c" stroke="#1c1c1c" stroke-width="0.17" transform="scale(1.1849,1)">−10</text>
<line x1="54.7" y1="266.20" x2="57.3" y2="266.20" stroke="#333" stroke-width="0.8"/>
<text x="51.87 57.09 61.49" y="269.10" font-size="8.61" fill="#1c1c1c" stroke="#1c1c1c" stroke-width="0.17" transform="scale(1.1849,1)">−20</text>
<g transform="rotate(-90 89.40 237.40)"><text x="45.25 50.53 55.73 63.61 68.72 73.97 77.11 82.52 85.41 90.74 93.89 99.01 101.91 104.97 108.36 114.90" y="237.40" font-size="9.40" fill="#1c1c1c" stroke="#1c1c1c" stroke-width="0.18" transform="scale(1.0941,1)">Temperature [°C]</text></g>
<rect x="258.4" y="271.5" width="67.9" height="28.3" rx="2" fill="#fff" fill-opacity="0.8" stroke="#ccc" stroke-width="0.6"/>
<rect x="266.30" y="274.90" width="8.6" height="8.6" fill="#c8407a" stroke="#1a1a1a" stroke-width="1.0"/>
<circle cx="270.6" cy="292.1" r="3.7" fill="#e06062" stroke="#1a1a1a" stroke-width="1.0"/>
<text x="259.61 266.12 270.93 275.98 278.96 281.02 286.21 288.26" y="282.40" font-size="9.40" fill="#1c1c1c" stroke="#1c1c1c" stroke-width="0.18" transform="scale(1.1002,1)">Hyytiälä</text>
<text x="296.43 303.03 308.23 315.54 322.51" y="295.20" font-size="9.40" fill="#1c1c1c" stroke="#1c1c1c" stroke-width="0.21" transform="scale(0.9643,1)">CLOUD</text>
<g transform="rotate(-90 10.40 241.00)"><text x="-51.57 -43.70 -36.22 -32.68 -24.80 -17.17 -13.31" y="241.00" font-size="10.45" fill="#1c1c1c" stroke="#1c1c1c" stroke-width="0.21" transform="scale(0.9641,1)">GR-GR(H</text><text x="-5.04" y="242.80" font-size="7.31" fill="#1c1c1c" stroke="#1c1c1c" stroke-width="0.18" transform="scale(1.0895,1)">2</text><text x="-1.25 5.72" y="241.00" font-size="10.45" fill="#1c1c1c" stroke="#1c1c1c" stroke-width="0.21" transform="scale(0.9372,1)">SO</text><text x="12.01" y="242.80" font-size="7.31" fill="#1c1c1c" stroke="#1c1c1c" stroke-width="0.18" transform="scale(1.0895,1)">4</text><text x="15.64 19.07 22.22 25.32 31.02 39.66 42.43" y="241.00" font-size="10.45" fill="#1c1c1c" stroke="#1c1c1c" stroke-width="0.18" transform="scale(1.1195,1)">) [nm h</text><text x="44.02 48.29" y="237.40" font-size="7.31" fill="#1c1c1c" stroke="#1c1c1c" stroke-width="0.16" transform="scale(1.2314,1)">−1</text><text x="53.36" y="241.00" font-size="10.45" fill="#1c1c1c" stroke="#1c1c1c" stroke-width="0.16" transform="scale(1.2500,1)">]</text></g>
<text x="139.6" y="337.0" font-size="15.5" fill="#1c1c1c" textLength="13" lengthAdjust="spacingAndGlyphs">∑</text>
<g><text x="160.93 167.76 174.34 181.04 184.51 191.64 194.43" y="336.10" font-size="10.45" fill="#1c1c1c" stroke="#1c1c1c" stroke-width="0.20">VBS-Bin</text><text x="167.71" y="337.90" font-size="7.31" fill="#1c1c1c" stroke="#1c1c1c" stroke-width="0.17" font-style="italic" transform="scale(1.1908,1)">i</text><text x="182.30 185.27 190.23" y="336.10" font-size="10.45" fill="#1c1c1c" stroke="#1c1c1c" stroke-width="0.18" transform="scale(1.1317,1)">[cm</text><text x="183.00 187.27" y="332.50" font-size="7.31" fill="#1c1c1c" stroke="#1c1c1c" stroke-width="0.16" transform="scale(1.2314,1)">−3</text><text x="189.64" y="336.10" font-size="10.45" fill="#1c1c1c" stroke="#1c1c1c" stroke-width="0.16" transform="scale(1.2500,1)">]</text></g>
<g><text x="124.60" y="346.20" font-size="7.31" fill="#1c1c1c" stroke="#1c1c1c" stroke-width="0.19" font-style="italic" transform="scale(1.0473,1)">c</text><text x="121.11 122.27 123.66" y="347.20" font-size="5.12" fill="#1c1c1c" stroke="#1c1c1c" stroke-width="0.18" font-style="italic" transform="scale(1.1095,1)">i,g</text><text x="114.23" y="346.20" font-size="7.31" fill="#1c1c1c" stroke="#1c1c1c" stroke-width="0.16" transform="scale(1.2500,1)">></text><text x="143.79" y="346.20" font-size="7.31" fill="#1c1c1c" stroke="#1c1c1c" stroke-width="0.19" font-style="italic" transform="scale(1.0473,1)">c</text><text x="141.74" y="343.80" font-size="5.12" fill="#1c1c1c" stroke="#1c1c1c" stroke-width="0.18" transform="scale(1.0895,1)">0</text></g>
<clipPath id="cd"><rect x="389.0" y="177.3" width="290.70" height="127.10"/></clipPath>
<g clip-path="url(#cd)">
<path d="M389.0,200.50 L390.0,201.99 L391.0,202.99 L392.0,203.40 L393.0,203.17 L394.0,202.54 L395.0,201.76 L396.0,200.87 L397.0,199.70 L398.0,198.37 L399.0,197.01 L400.0,195.74 L401.0,194.63 L402.0,193.54 L403.0,192.48 L404.0,191.46 L405.0,190.51 L406.0,189.63 L407.0,188.83 L408.0,188.07 L409.0,187.35 L410.0,186.68 L411.0,186.06 L412.0,185.50 L413.0,185.01 L414.0,184.55 L415.0,184.11 L416.0,183.70 L417.0,183.32 L418.0,182.97 L419.0,182.65 L420.0,182.37 L421.0,182.13 L422.0,181.91 L423.0,181.70 L424.0,181.50 L425.0,181.32 L426.0,181.15 L427.0,180.99 L428.0,180.84 L429.0,180.72 L430.0,180.60 L431.0,180.50 L432.0,180.41 L433.0,180.32 L434.0,180.23 L435.0,180.15 L436.0,180.07 L437.0,180.00 L438.0,179.92 L439.0,179.86 L440.0,179.79 L441.0,179.74 L442.0,179.68 L443.0,179.64 L444.0,179.59 L445.0,179.56 L446.0,179.53 L447.0,179.51 L448.0,179.49 L449.0,179.47 L450.0,179.46 L451.0,179.44 L452.0,179.42 L453.0,179.41 L454.0,179.40 L455.0,179.38 L456.0,179.37 L457.0,179.36 L458.0,179.35 L459.0,179.34 L460.0,179.33 L461.0,179.32 L462.0,179.32 L463.0,179.31 L464.0,179.31 L465.0,179.30 L466.0,179.30 L467.0,179.30 L468.0,179.30 L469.0,179.30 L470.0,179.31 L471.0,179.33 L472.0,179.34 L473.0,179.37 L474.0,179.39 L475.0,179.42 L476.0,179.45 L477.0,179.48 L478.0,179.52 L479.0,179.55 L480.0,179.59 L481.0,179.63 L482.0,179.67 L483.0,179.71 L484.0,179.75 L485.0,179.78 L486.0,179.82 L487.0,179.86 L488.0,179.89 L489.0,179.93 L490.0,179.96 L491.0,180.00 L492.0,180.04 L493.0,180.07 L494.0,180.11 L495.0,180.15 L496.0,180.19 L497.0,180.23 L498.0,180.27 L499.0,180.32 L500.0,180.36 L501.0,180.40 L502.0,180.44 L503.0,180.48 L504.0,180.52 L505.0,180.56 L506.0,180.60 L507.0,180.64 L508.0,180.68 L509.0,180.71 L510.0,180.75 L511.0,180.79 L512.0,180.83 L513.0,180.86 L514.0,180.90 L515.0,180.94 L516.0,180.97 L517.0,181.01 L518.0,181.04 L519.0,181.08 L520.0,181.12 L521.0,181.15 L522.0,181.19 L523.0,181.22 L524.0,181.26 L525.0,181.29 L526.0,181.33 L527.0,181.37 L528.0,181.40 L529.0,181.44 L530.0,181.47 L531.0,181.51 L532.0,181.54 L533.0,181.57 L534.0,181.61 L535.0,181.64 L536.0,181.68 L537.0,181.71 L538.0,181.75 L539.0,181.78 L540.0,181.82 L541.0,181.85 L542.0,181.89 L543.0,181.92 L544.0,181.95 L545.0,181.99 L546.0,182.02 L547.0,182.06 L548.0,182.09 L549.0,182.12 L550.0,182.16 L551.0,182.19 L552.0,182.23 L553.0,182.26 L554.0,182.30 L555.0,182.33 L556.0,182.36 L557.0,182.40 L558.0,182.43 L559.0,182.47 L560.0,182.50 L561.0,182.53 L562.0,182.57 L563.0,182.60 L564.0,182.64 L565.0,182.67 L566.0,182.70 L567.0,182.74 L568.0,182.77 L569.0,182.80 L570.0,182.84 L571.0,182.87 L572.0,182.90 L573.0,182.94 L574.0,182.97 L575.0,183.00 L576.0,183.04 L577.0,183.07 L578.0,183.10 L579.0,183.14 L580.0,183.17 L581.0,183.20 L582.0,183.24 L583.0,183.27 L584.0,183.30 L585.0,183.34 L586.0,183.37 L587.0,183.40 L588.0,183.43 L589.0,183.47 L590.0,183.50 L591.0,183.53 L592.0,183.57 L593.0,183.60 L594.0,183.63 L595.0,183.66 L596.0,183.70 L597.0,183.73 L598.0,183.76 L599.0,183.80 L600.0,183.83 L601.0,183.86 L602.0,183.90 L603.0,183.93 L604.0,183.96 L605.0,184.00 L606.0,184.03 L607.0,184.06 L608.0,184.10 L609.0,184.13 L610.0,184.16 L611.0,184.20 L612.0,184.23 L613.0,184.26 L614.0,184.30 L615.0,184.33 L616.0,184.36 L617.0,184.40 L618.0,184.43 L619.0,184.47 L620.0,184.50 L621.0,184.53 L622.0,184.57 L623.0,184.60 L624.0,184.64 L625.0,184.67 L626.0,184.71 L627.0,184.74 L628.0,184.77 L629.0,184.81 L630.0,184.84 L631.0,184.88 L632.0,184.91 L633.0,184.95 L634.0,184.98 L635.0,185.02 L636.0,185.05 L637.0,185.08 L638.0,185.12 L639.0,185.15 L640.0,185.19 L641.0,185.22 L642.0,185.26 L643.0,185.29 L644.0,185.33 L645.0,185.36 L646.0,185.40 L647.0,185.43 L648.0,185.47 L649.0,185.50 L650.0,185.54 L651.0,185.57 L652.0,185.61 L653.0,185.64 L654.0,185.68 L655.0,185.71 L656.0,185.75 L657.0,185.78 L658.0,185.82 L659.0,185.85 L660.0,185.89 L661.0,185.92 L662.0,185.96 L663.0,185.99 L664.0,186.03 L665.0,186.07 L666.0,186.10 L667.0,186.14 L668.0,186.17 L669.0,186.21 L670.0,186.24 L671.0,186.28 L672.0,186.31 L673.0,186.35 L674.0,186.39 L675.0,186.42 L676.0,186.46 L677.0,186.49 L678.0,186.53 L679.0,186.56 L679.0,281.78 L678.0,281.75 L677.0,281.73 L676.0,281.70 L675.0,281.68 L674.0,281.65 L673.0,281.62 L672.0,281.60 L671.0,281.57 L670.0,281.55 L669.0,281.53 L668.0,281.50 L667.0,281.48 L666.0,281.45 L665.0,281.43 L664.0,281.40 L663.0,281.38 L662.0,281.35 L661.0,281.32 L660.0,281.30 L659.0,281.28 L658.0,281.25 L657.0,281.23 L656.0,281.20 L655.0,281.18 L654.0,281.15 L653.0,281.12 L652.0,281.10 L651.0,281.07 L650.0,281.05 L649.0,281.03 L648.0,281.00 L647.0,280.98 L646.0,280.95 L645.0,280.93 L644.0,280.90 L643.0,280.88 L642.0,280.85 L641.0,280.82 L640.0,280.80 L639.0,280.78 L638.0,280.75 L637.0,280.73 L636.0,280.70 L635.0,280.68 L634.0,280.65 L633.0,280.62 L632.0,280.60 L631.0,280.57 L630.0,280.55 L629.0,280.53 L628.0,280.50 L627.0,280.48 L626.0,280.45 L625.0,280.43 L624.0,280.40 L623.0,280.38 L622.0,280.35 L621.0,280.32 L620.0,280.30 L619.0,280.28 L618.0,280.25 L617.0,280.23 L616.0,280.20 L615.0,280.18 L614.0,280.15 L613.0,280.13 L612.0,280.10 L611.0,280.08 L610.0,280.05 L609.0,280.03 L608.0,280.00 L607.0,279.98 L606.0,279.95 L605.0,279.93 L604.0,279.90 L603.0,279.88 L602.0,279.86 L601.0,279.83 L600.0,279.81 L599.0,279.78 L598.0,279.76 L597.0,279.73 L596.0,279.71 L595.0,279.68 L594.0,279.66 L593.0,279.63 L592.0,279.61 L591.0,279.58 L590.0,279.56 L589.0,279.54 L588.0,279.51 L587.0,279.49 L586.0,279.46 L585.0,279.44 L584.0,279.41 L583.0,279.39 L582.0,279.36 L581.0,279.34 L580.0,279.31 L579.0,279.29 L578.0,279.26 L577.0,279.24 L576.0,279.21 L575.0,279.19 L574.0,279.16 L573.0,279.14 L572.0,279.11 L571.0,279.08 L570.0,279.06 L569.0,279.03 L568.0,279.01 L567.0,278.98 L566.0,278.96 L565.0,278.93 L564.0,278.90 L563.0,278.88 L562.0,278.85 L561.0,278.83 L560.0,278.80 L559.0,278.77 L558.0,278.75 L557.0,278.72 L556.0,278.69 L555.0,278.66 L554.0,278.62 L553.0,278.59 L552.0,278.56 L551.0,278.52 L550.0,278.49 L549.0,278.45 L548.0,278.42 L547.0,278.38 L546.0,278.35 L545.0,278.31 L544.0,278.27 L543.0,278.24 L542.0,278.20 L541.0,278.16 L540.0,278.13 L539.0,278.09 L538.0,278.05 L537.0,278.02 L536.0,277.98 L535.0,277.94 L534.0,277.91 L533.0,277.87 L532.0,277.84 L531.0,277.80 L530.0,277.77 L529.0,277.74 L528.0,277.70 L527.0,277.67 L526.0,277.64 L525.0,277.61 L524.0,277.58 L523.0,277.56 L522.0,277.53 L521.0,277.50 L520.0,277.48 L519.0,277.46 L518.0,277.43 L517.0,277.41 L516.0,277.40 L515.0,277.38 L514.0,277.36 L513.0,277.35 L512.0,277.34 L511.0,277.33 L510.0,277.32 L509.0,277.31 L508.0,277.30 L507.0,277.30 L506.0,277.30 L505.0,277.30 L504.0,277.30 L503.0,277.30 L502.0,277.30 L501.0,277.30 L500.0,277.30 L499.0,277.30 L498.0,277.30 L497.0,277.30 L496.0,277.30 L495.0,277.30 L494.0,277.30 L493.0,277.30 L492.0,277.30 L491.0,277.30 L490.0,277.30 L489.0,277.30 L488.0,277.30 L487.0,277.30 L486.0,277.30 L485.0,277.30 L484.0,277.30 L483.0,277.30 L482.0,277.30 L481.0,277.30 L480.0,277.30 L479.0,277.30 L478.0,277.30 L477.0,277.30 L476.0,277.30 L475.0,277.30 L474.0,277.30 L473.0,277.30 L472.0,277.30 L471.0,277.30 L470.0,277.30 L469.0,277.30 L468.0,277.30 L467.0,277.30 L466.0,277.30 L465.0,277.30 L464.0,277.30 L463.0,277.30 L462.0,277.30 L461.0,277.30 L460.0,277.30 L459.0,277.30 L458.0,277.30 L457.0,277.30 L456.0,277.30 L455.0,277.30 L454.0,277.30 L453.0,277.30 L452.0,277.30 L451.0,277.30 L450.0,277.30 L449.0,277.30 L448.0,277.30 L447.0,277.31 L446.0,277.32 L445.0,277.35 L444.0,277.38 L443.0,277.42 L442.0,277.46 L441.0,277.50 L440.0,277.54 L439.0,277.58 L438.0,277.61 L437.0,277.65 L436.0,277.68 L435.0,277.71 L434.0,277.74 L433.0,277.78 L432.0,277.81 L431.0,277.85 L430.0,277.89 L429.0,277.93 L428.0,277.98 L427.0,278.03 L426.0,278.09 L425.0,278.16 L424.0,278.24 L423.0,278.35 L422.0,278.47 L421.0,278.61 L420.0,278.75 L419.0,278.90 L418.0,279.05 L417.0,279.20 L416.0,279.34 L415.0,279.48 L414.0,279.61 L413.0,279.72 L412.0,279.83 L411.0,279.95 L410.0,280.07 L409.0,280.19 L408.0,280.30 L407.0,280.41 L406.0,280.52 L405.0,280.62 L404.0,280.70 L403.0,280.78 L402.0,280.84 L401.0,280.89 L400.0,280.92 L399.0,280.95 L398.0,280.97 L397.0,280.99 L396.0,281.00 L395.0,280.99 L394.0,280.95 L393.0,280.87 L392.0,280.76 L391.0,280.63 L390.0,280.47 L389.0,280.30 Z" fill="#b2b4dc" stroke="#b2b4dc" stroke-width="0.3"/>
<path d="M389.0,280.30 L390.0,280.47 L391.0,280.63 L392.0,280.76 L393.0,280.87 L394.0,280.95 L395.0,280.99 L396.0,281.00 L397.0,280.99 L398.0,280.97 L399.0,280.95 L400.0,280.92 L401.0,280.89 L402.0,280.84 L403.0,280.78 L404.0,280.70 L405.0,280.62 L406.0,280.52 L407.0,280.41 L408.0,280.30 L409.0,280.19 L410.0,280.07 L411.0,279.95 L412.0,279.83 L413.0,279.72 L414.0,279.61 L415.0,279.48 L416.0,279.34 L417.0,279.20 L418.0,279.05 L419.0,278.90 L420.0,278.75 L421.0,278.61 L422.0,278.47 L423.0,278.35 L424.0,278.24 L425.0,278.16 L426.0,278.09 L427.0,278.03 L428.0,277.98 L429.0,277.93 L430.0,277.89 L431.0,277.85 L432.0,277.81 L433.0,277.78 L434.0,277.74 L435.0,277.71 L436.0,277.68 L437.0,277.65 L438.0,277.61 L439.0,277.58 L440.0,277.54 L441.0,277.50 L442.0,277.46 L443.0,277.42 L444.0,277.38 L445.0,277.35 L446.0,277.32 L447.0,277.31 L448.0,277.30 L449.0,277.30 L450.0,277.30 L451.0,277.30 L452.0,277.30 L453.0,277.30 L454.0,277.30 L455.0,277.30 L456.0,277.30 L457.0,277.30 L458.0,277.30 L459.0,277.30 L460.0,277.30 L461.0,277.30 L462.0,277.30 L463.0,277.30 L464.0,277.30 L465.0,277.30 L466.0,277.30 L467.0,277.30 L468.0,277.30 L469.0,277.30 L470.0,277.30 L471.0,277.30 L472.0,277.30 L473.0,277.30 L474.0,277.30 L475.0,277.30 L476.0,277.30 L477.0,277.30 L478.0,277.30 L479.0,277.30 L480.0,277.30 L481.0,277.30 L482.0,277.30 L483.0,277.30 L484.0,277.30 L485.0,277.30 L486.0,277.30 L487.0,277.30 L488.0,277.30 L489.0,277.30 L490.0,277.30 L491.0,277.30 L492.0,277.30 L493.0,277.30 L494.0,277.30 L495.0,277.30 L496.0,277.30 L497.0,277.30 L498.0,277.30 L499.0,277.30 L500.0,277.30 L501.0,277.30 L502.0,277.30 L503.0,277.30 L504.0,277.30 L505.0,277.30 L506.0,277.30 L507.0,277.30 L508.0,277.30 L509.0,277.31 L510.0,277.32 L511.0,277.33 L512.0,277.34 L513.0,277.35 L514.0,277.36 L515.0,277.38 L516.0,277.40 L517.0,277.41 L518.0,277.43 L519.0,277.46 L520.0,277.48 L521.0,277.50 L522.0,277.53 L523.0,277.56 L524.0,277.58 L525.0,277.61 L526.0,277.64 L527.0,277.67 L528.0,277.70 L529.0,277.74 L530.0,277.77 L531.0,277.80 L532.0,277.84 L533.0,277.87 L534.0,277.91 L535.0,277.94 L536.0,277.98 L537.0,278.02 L538.0,278.05 L539.0,278.09 L540.0,278.13 L541.0,278.16 L542.0,278.20 L543.0,278.24 L544.0,278.27 L545.0,278.31 L546.0,278.35 L547.0,278.38 L548.0,278.42 L549.0,278.45 L550.0,278.49 L551.0,278.52 L552.0,278.56 L553.0,278.59 L554.0,278.62 L555.0,278.66 L556.0,278.69 L557.0,278.72 L558.0,278.75 L559.0,278.77 L560.0,278.80 L561.0,278.83 L562.0,278.85 L563.0,278.88 L564.0,278.90 L565.0,278.93 L566.0,278.96 L567.0,278.98 L568.0,279.01 L569.0,279.03 L570.0,279.06 L571.0,279.08 L572.0,279.11 L573.0,279.14 L574.0,279.16 L575.0,279.19 L576.0,279.21 L577.0,279.24 L578.0,279.26 L579.0,279.29 L580.0,279.31 L581.0,279.34 L582.0,279.36 L583.0,279.39 L584.0,279.41 L585.0,279.44 L586.0,279.46 L587.0,279.49 L588.0,279.51 L589.0,279.54 L590.0,279.56 L591.0,279.58 L592.0,279.61 L593.0,279.63 L594.0,279.66 L595.0,279.68 L596.0,279.71 L597.0,279.73 L598.0,279.76 L599.0,279.78 L600.0,279.81 L601.0,279.83 L602.0,279.86 L603.0,279.88 L604.0,279.90 L605.0,279.93 L606.0,279.95 L607.0,279.98 L608.0,280.00 L609.0,280.03 L610.0,280.05 L611.0,280.08 L612.0,280.10 L613.0,280.13 L614.0,280.15 L615.0,280.18 L616.0,280.20 L617.0,280.23 L618.0,280.25 L619.0,280.28 L620.0,280.30 L621.0,280.32 L622.0,280.35 L623.0,280.38 L624.0,280.40 L625.0,280.43 L626.0,280.45 L627.0,280.48 L628.0,280.50 L629.0,280.53 L630.0,280.55 L631.0,280.57 L632.0,280.60 L633.0,280.62 L634.0,280.65 L635.0,280.68 L636.0,280.70 L637.0,280.73 L638.0,280.75 L639.0,280.78 L640.0,280.80 L641.0,280.82 L642.0,280.85 L643.0,280.88 L644.0,280.90 L645.0,280.93 L646.0,280.95 L647.0,280.98 L648.0,281.00 L649.0,281.03 L650.0,281.05 L651.0,281.07 L652.0,281.10 L653.0,281.12 L654.0,281.15 L655.0,281.18 L656.0,281.20 L657.0,281.23 L658.0,281.25 L659.0,281.28 L660.0,281.30 L661.0,281.32 L662.0,281.35 L663.0,281.38 L664.0,281.40 L665.0,281.43 L666.0,281.45 L667.0,281.48 L668.0,281.50 L669.0,281.53 L670.0,281.55 L671.0,281.57 L672.0,281.60 L673.0,281.62 L674.0,281.65 L675.0,281.68 L676.0,281.70 L677.0,281.73 L678.0,281.75 L679.0,281.78 L679.0,281.78 L678.0,281.75 L677.0,281.73 L676.0,281.70 L675.0,281.68 L674.0,281.65 L673.0,281.62 L672.0,281.60 L671.0,281.57 L670.0,281.55 L669.0,281.53 L668.0,281.50 L667.0,281.48 L666.0,281.45 L665.0,281.43 L664.0,281.40 L663.0,281.38 L662.0,281.35 L661.0,281.32 L660.0,281.30 L659.0,281.28 L658.0,281.25 L657.0,281.23 L656.0,281.20 L655.0,281.18 L654.0,281.15 L653.0,281.12 L652.0,281.10 L651.0,281.07 L650.0,281.05 L649.0,281.03 L648.0,281.00 L647.0,280.98 L646.0,280.95 L645.0,280.93 L644.0,280.90 L643.0,280.88 L642.0,280.85 L641.0,280.82 L640.0,280.80 L639.0,280.78 L638.0,280.75 L637.0,280.73 L636.0,280.70 L635.0,280.68 L634.0,280.65 L633.0,280.62 L632.0,280.60 L631.0,280.57 L630.0,280.55 L629.0,280.53 L628.0,280.50 L627.0,280.48 L626.0,280.45 L625.0,280.43 L624.0,280.40 L623.0,280.38 L622.0,280.35 L621.0,280.32 L620.0,280.30 L619.0,280.28 L618.0,280.25 L617.0,280.23 L616.0,280.20 L615.0,280.18 L614.0,280.15 L613.0,280.13 L612.0,280.10 L611.0,280.08 L610.0,280.05 L609.0,280.03 L608.0,280.00 L607.0,279.98 L606.0,279.95 L605.0,279.93 L604.0,279.90 L603.0,279.88 L602.0,279.86 L601.0,279.83 L600.0,279.81 L599.0,279.78 L598.0,279.76 L597.0,279.73 L596.0,279.71 L595.0,279.68 L594.0,279.66 L593.0,279.63 L592.0,279.61 L591.0,279.58 L590.0,279.56 L589.0,279.54 L588.0,279.51 L587.0,279.49 L586.0,279.46 L585.0,279.44 L584.0,279.41 L583.0,279.39 L582.0,279.36 L581.0,279.34 L580.0,279.31 L579.0,279.29 L578.0,279.26 L577.0,279.24 L576.0,279.21 L575.0,279.19 L574.0,279.16 L573.0,279.14 L572.0,279.11 L571.0,279.08 L570.0,279.06 L569.0,279.03 L568.0,279.01 L567.0,278.98 L566.0,278.96 L565.0,278.93 L564.0,278.90 L563.0,278.88 L562.0,278.85 L561.0,278.83 L560.0,278.80 L559.0,278.77 L558.0,278.75 L557.0,278.72 L556.0,278.69 L555.0,278.66 L554.0,278.62 L553.0,278.59 L552.0,278.56 L551.0,278.52 L550.0,278.49 L549.0,278.45 L548.0,278.42 L547.0,278.38 L546.0,278.35 L545.0,278.31 L544.0,278.27 L543.0,278.24 L542.0,278.20 L541.0,278.16 L540.0,278.13 L539.0,278.09 L538.0,278.05 L537.0,278.02 L536.0,277.98 L535.0,277.94 L534.0,277.91 L533.0,277.87 L532.0,277.84 L531.0,277.80 L530.0,277.77 L529.0,277.74 L528.0,277.70 L527.0,277.67 L526.0,277.64 L525.0,277.61 L524.0,277.58 L523.0,277.56 L522.0,277.53 L521.0,277.50 L520.0,277.48 L519.0,277.46 L518.0,277.43 L517.0,277.41 L516.0,277.40 L515.0,277.38 L514.0,277.36 L513.0,277.35 L512.0,277.34 L511.0,277.33 L510.0,277.32 L509.0,277.31 L508.0,277.30 L507.0,277.30 L506.0,277.30 L505.0,277.30 L504.0,277.30 L503.0,277.30 L502.0,277.30 L501.0,277.30 L500.0,277.30 L499.0,277.30 L498.0,277.30 L497.0,277.30 L496.0,277.30 L495.0,277.30 L494.0,277.30 L493.0,277.30 L492.0,277.30 L491.0,277.30 L490.0,277.30 L489.0,277.30 L488.0,277.30 L487.0,277.30 L486.0,277.30 L485.0,277.30 L484.0,277.30 L483.0,277.30 L482.0,277.30 L481.0,277.30 L480.0,277.30 L479.0,277.30 L478.0,277.30 L477.0,277.30 L476.0,277.30 L475.0,277.30 L474.0,277.30 L473.0,277.30 L472.0,277.30 L471.0,277.30 L470.0,277.30 L469.0,277.30 L468.0,277.30 L467.0,277.30 L466.0,277.30 L465.0,277.30 L464.0,277.30 L463.0,277.30 L462.0,277.30 L461.0,277.30 L460.0,277.30 L459.0,277.30 L458.0,277.30 L457.0,277.30 L456.0,277.30 L455.0,277.30 L454.0,277.30 L453.0,277.30 L452.0,277.30 L451.0,277.30 L450.0,277.30 L449.0,277.30 L448.0,277.30 L447.0,277.31 L446.0,277.32 L445.0,277.35 L444.0,277.38 L443.0,277.42 L442.0,277.46 L441.0,277.50 L440.0,277.54 L439.0,277.58 L438.0,277.61 L437.0,277.65 L436.0,277.68 L435.0,277.71 L434.0,277.74 L433.0,277.78 L432.0,277.81 L431.0,277.85 L430.0,277.89 L429.0,277.93 L428.0,277.98 L427.0,278.03 L426.0,278.09 L425.0,278.16 L424.0,278.24 L423.0,278.35 L422.0,278.83 L421.0,279.55 L420.0,280.30 L419.0,281.09 L418.0,281.93 L417.0,282.83 L416.0,283.80 L415.0,284.86 L414.0,286.06 L413.0,287.35 L412.0,288.68 L411.0,290.01 L410.0,291.33 L409.0,292.70 L408.0,294.05 L407.0,295.29 L406.0,296.42 L405.0,297.44 L404.0,298.15 L403.0,298.73 L402.0,299.20 L401.0,299.53 L400.0,299.68 L399.0,299.81 L398.0,299.91 L397.0,300.00 L396.0,300.06 L395.0,300.09 L394.0,300.10 L393.0,300.08 L392.0,300.05 L391.0,299.99 L390.0,299.91 L389.0,299.80 Z" fill="#f0a0a0" stroke="#f0a0a0" stroke-width="0.3"/>
<path d="M389.0,255.50 L390.0,255.45 L391.0,255.36 L392.0,255.23 L393.0,255.08 L394.0,254.89 L395.0,254.69 L396.0,254.48 L397.0,254.25 L398.0,253.97 L399.0,253.61 L400.0,253.19 L401.0,252.73 L402.0,252.24 L403.0,251.75 L404.0,251.27 L405.0,250.81 L406.0,250.39 L407.0,249.97 L408.0,249.53 L409.0,249.09 L410.0,248.67 L411.0,248.25 L412.0,247.86 L413.0,247.51 L414.0,247.19 L415.0,246.91 L416.0,246.64 L417.0,246.38 L418.0,246.14 L419.0,245.92 L420.0,245.71 L421.0,245.52 L422.0,245.35 L423.0,245.20 L424.0,245.06 L425.0,244.94 L426.0,244.82 L427.0,244.71 L428.0,244.61 L429.0,244.51 L430.0,244.43 L431.0,244.35 L432.0,244.29 L433.0,244.22 L434.0,244.16 L435.0,244.10 L436.0,244.04 L437.0,243.98 L438.0,243.92 L439.0,243.87 L440.0,243.82 L441.0,243.77 L442.0,243.73 L443.0,243.69 L444.0,243.66 L445.0,243.63 L446.0,243.62 L447.0,243.60 L448.0,243.60 L449.0,243.60 L450.0,243.60 L451.0,243.60 L452.0,243.60 L453.0,243.60 L454.0,243.60 L455.0,243.60 L456.0,243.60 L457.0,243.60 L458.0,243.60 L459.0,243.60 L460.0,243.60 L461.0,243.60 L462.0,243.60 L463.0,243.60 L464.0,243.60 L465.0,243.60 L466.0,243.60 L467.0,243.60 L468.0,243.60 L469.0,243.60 L470.0,243.60 L471.0,243.60 L472.0,243.60 L473.0,243.60 L474.0,243.60 L475.0,243.60 L476.0,243.60 L477.0,243.60 L478.0,243.60 L479.0,243.60 L480.0,243.61 L481.0,243.61 L482.0,243.62 L483.0,243.63 L484.0,243.64 L485.0,243.66 L486.0,243.67 L487.0,243.68 L488.0,243.70 L489.0,243.72 L490.0,243.74 L491.0,243.75 L492.0,243.77 L493.0,243.80 L494.0,243.82 L495.0,243.84 L496.0,243.86 L497.0,243.89 L498.0,243.91 L499.0,243.93 L500.0,243.96 L501.0,243.98 L502.0,244.01 L503.0,244.03 L504.0,244.06 L505.0,244.08 L506.0,244.11 L507.0,244.13 L508.0,244.15 L509.0,244.18 L510.0,244.20 L511.0,244.22 L512.0,244.25 L513.0,244.27 L514.0,244.30 L515.0,244.32 L516.0,244.35 L517.0,244.37 L518.0,244.40 L519.0,244.43 L520.0,244.46 L521.0,244.49 L522.0,244.52 L523.0,244.55 L524.0,244.58 L525.0,244.61 L526.0,244.64 L527.0,244.67 L528.0,244.70 L529.0,244.73 L530.0,244.76 L531.0,244.80 L532.0,244.83 L533.0,244.86 L534.0,244.90 L535.0,244.93 L536.0,244.96 L537.0,245.00 L538.0,245.03 L539.0,245.07 L540.0,245.10 L541.0,245.14 L542.0,245.17 L543.0,245.21 L544.0,245.24 L545.0,245.28 L546.0,245.31 L547.0,245.35 L548.0,245.38 L549.0,245.42 L550.0,245.45 L551.0,245.49 L552.0,245.52 L553.0,245.56 L554.0,245.59 L555.0,245.63 L556.0,245.66 L557.0,245.70 L558.0,245.73 L559.0,245.77 L560.0,245.80 L561.0,245.83 L562.0,245.87 L563.0,245.90 L564.0,245.94 L565.0,245.97 L566.0,246.01 L567.0,246.04 L568.0,246.08 L569.0,246.12 L570.0,246.15 L571.0,246.19 L572.0,246.23 L573.0,246.26 L574.0,246.30 L575.0,246.34 L576.0,246.37 L577.0,246.41 L578.0,246.45 L579.0,246.49 L580.0,246.52 L581.0,246.56 L582.0,246.60 L583.0,246.64 L584.0,246.68 L585.0,246.72 L586.0,246.75 L587.0,246.79 L588.0,246.83 L589.0,246.87 L590.0,246.91 L591.0,246.95 L592.0,246.99 L593.0,247.03 L594.0,247.07 L595.0,247.10 L596.0,247.14 L597.0,247.18 L598.0,247.22 L599.0,247.26 L600.0,247.30 L601.0,247.34 L602.0,247.38 L603.0,247.42 L604.0,247.46 L605.0,247.49 L606.0,247.53 L607.0,247.57 L608.0,247.61 L609.0,247.65 L610.0,247.69 L611.0,247.72 L612.0,247.76 L613.0,247.80 L614.0,247.84 L615.0,247.88 L616.0,247.91 L617.0,247.95 L618.0,247.99 L619.0,248.03 L620.0,248.06 L621.0,248.10 L622.0,248.14 L623.0,248.17 L624.0,248.21 L625.0,248.24 L626.0,248.28 L627.0,248.31 L628.0,248.35 L629.0,248.38 L630.0,248.42 L631.0,248.45 L632.0,248.49 L633.0,248.52 L634.0,248.55 L635.0,248.59 L636.0,248.62 L637.0,248.65 L638.0,248.68 L639.0,248.72 L640.0,248.75 L641.0,248.78 L642.0,248.81 L643.0,248.84 L644.0,248.87 L645.0,248.90 L646.0,248.93 L647.0,248.96 L648.0,248.99 L649.0,249.02 L650.0,249.04 L651.0,249.07 L652.0,249.10 L653.0,249.13 L654.0,249.16 L655.0,249.18 L656.0,249.21 L657.0,249.24 L658.0,249.26 L659.0,249.29 L660.0,249.32 L661.0,249.34 L662.0,249.37 L663.0,249.39 L664.0,249.42 L665.0,249.44 L666.0,249.47 L667.0,249.49 L668.0,249.52 L669.0,249.54 L670.0,249.57 L671.0,249.59 L672.0,249.61 L673.0,249.64 L674.0,249.66 L675.0,249.69 L676.0,249.71 L677.0,249.73 L678.0,249.75 L679.0,249.78 L679.0,267.25 L678.0,267.20 L677.0,267.15 L676.0,267.10 L675.0,267.05 L674.0,267.00 L673.0,266.95 L672.0,266.90 L671.0,266.85 L670.0,266.80 L669.0,266.76 L668.0,266.71 L667.0,266.66 L666.0,266.61 L665.0,266.56 L664.0,266.52 L663.0,266.47 L662.0,266.42 L661.0,266.38 L660.0,266.33 L659.0,266.29 L658.0,266.24 L657.0,266.20 L656.0,266.15 L655.0,266.11 L654.0,266.07 L653.0,266.02 L652.0,265.98 L651.0,265.94 L650.0,265.89 L649.0,265.85 L648.0,265.81 L647.0,265.77 L646.0,265.73 L645.0,265.69 L644.0,265.65 L643.0,265.61 L642.0,265.57 L641.0,265.53 L640.0,265.49 L639.0,265.45 L638.0,265.41 L637.0,265.37 L636.0,265.34 L635.0,265.30 L634.0,265.26 L633.0,265.23 L632.0,265.19 L631.0,265.16 L630.0,265.12 L629.0,265.09 L628.0,265.05 L627.0,265.02 L626.0,264.99 L625.0,264.96 L624.0,264.92 L623.0,264.89 L622.0,264.86 L621.0,264.83 L620.0,264.80 L619.0,264.77 L618.0,264.74 L617.0,264.71 L616.0,264.68 L615.0,264.65 L614.0,264.62 L613.0,264.58 L612.0,264.55 L611.0,264.52 L610.0,264.49 L609.0,264.46 L608.0,264.42 L607.0,264.39 L606.0,264.36 L605.0,264.33 L604.0,264.30 L603.0,264.27 L602.0,264.23 L601.0,264.20 L600.0,264.17 L599.0,264.14 L598.0,264.11 L597.0,264.08 L596.0,264.05 L595.0,264.02 L594.0,263.99 L593.0,263.96 L592.0,263.93 L591.0,263.90 L590.0,263.88 L589.0,263.85 L588.0,263.82 L587.0,263.80 L586.0,263.77 L585.0,263.74 L584.0,263.72 L583.0,263.70 L582.0,263.67 L581.0,263.65 L580.0,263.63 L579.0,263.61 L578.0,263.59 L577.0,263.57 L576.0,263.55 L575.0,263.53 L574.0,263.52 L573.0,263.50 L572.0,263.49 L571.0,263.47 L570.0,263.46 L569.0,263.45 L568.0,263.44 L567.0,263.43 L566.0,263.42 L565.0,263.42 L564.0,263.41 L563.0,263.41 L562.0,263.40 L561.0,263.40 L560.0,263.40 L559.0,263.40 L558.0,263.40 L557.0,263.40 L556.0,263.40 L555.0,263.40 L554.0,263.41 L553.0,263.41 L552.0,263.41 L551.0,263.41 L550.0,263.41 L549.0,263.42 L548.0,263.42 L547.0,263.42 L546.0,263.43 L545.0,263.43 L544.0,263.44 L543.0,263.44 L542.0,263.45 L541.0,263.45 L540.0,263.46 L539.0,263.46 L538.0,263.47 L537.0,263.48 L536.0,263.48 L535.0,263.49 L534.0,263.50 L533.0,263.50 L532.0,263.51 L531.0,263.52 L530.0,263.53 L529.0,263.54 L528.0,263.54 L527.0,263.55 L526.0,263.56 L525.0,263.57 L524.0,263.58 L523.0,263.59 L522.0,263.60 L521.0,263.61 L520.0,263.62 L519.0,263.63 L518.0,263.65 L517.0,263.66 L516.0,263.67 L515.0,263.68 L514.0,263.69 L513.0,263.71 L512.0,263.72 L511.0,263.73 L510.0,263.74 L509.0,263.76 L508.0,263.77 L507.0,263.79 L506.0,263.80 L505.0,263.82 L504.0,263.84 L503.0,263.86 L502.0,263.89 L501.0,263.93 L500.0,263.97 L499.0,264.01 L498.0,264.06 L497.0,264.11 L496.0,264.16 L495.0,264.22 L494.0,264.28 L493.0,264.34 L492.0,264.41 L491.0,264.47 L490.0,264.55 L489.0,264.62 L488.0,264.69 L487.0,264.77 L486.0,264.85 L485.0,264.93 L484.0,265.01 L483.0,265.10 L482.0,265.18 L481.0,265.27 L480.0,265.36 L479.0,265.44 L478.0,265.53 L477.0,265.62 L476.0,265.71 L475.0,265.80 L474.0,265.89 L473.0,265.99 L472.0,266.09 L471.0,266.19 L470.0,266.30 L469.0,266.42 L468.0,266.53 L467.0,266.65 L466.0,266.78 L465.0,266.91 L464.0,267.04 L463.0,267.18 L462.0,267.32 L461.0,267.46 L460.0,267.61 L459.0,267.76 L458.0,267.91 L457.0,268.07 L456.0,268.23 L455.0,268.39 L454.0,268.56 L453.0,268.72 L452.0,268.89 L451.0,269.07 L450.0,269.24 L449.0,269.42 L448.0,269.60 L447.0,269.79 L446.0,269.98 L445.0,270.19 L444.0,270.40 L443.0,270.63 L442.0,270.86 L441.0,271.11 L440.0,271.37 L439.0,271.63 L438.0,271.92 L437.0,272.23 L436.0,272.56 L435.0,272.92 L434.0,273.29 L433.0,273.66 L432.0,274.04 L431.0,274.40 L430.0,274.76 L429.0,275.13 L428.0,275.52 L427.0,275.94 L426.0,276.40 L425.0,276.92 L424.0,277.51 L423.0,278.15 L422.0,278.47 L421.0,278.61 L420.0,278.75 L419.0,278.90 L418.0,279.05 L417.0,279.20 L416.0,279.34 L415.0,279.48 L414.0,279.61 L413.0,279.72 L412.0,279.83 L411.0,279.95 L410.0,280.07 L409.0,280.19 L408.0,280.30 L407.0,280.41 L406.0,280.52 L405.0,280.62 L404.0,280.70 L403.0,280.78 L402.0,280.84 L401.0,280.89 L400.0,280.92 L399.0,280.95 L398.0,280.97 L397.0,280.99 L396.0,281.00 L395.0,280.99 L394.0,280.95 L393.0,280.87 L392.0,280.76 L391.0,280.63 L390.0,280.47 L389.0,280.30 Z" fill="#da82b4" stroke="#da82b4" stroke-width="0.3"/>
<path d="M389.0,255.50 L390.0,255.45 L391.0,255.36 L392.0,255.23 L393.0,255.08 L394.0,254.89 L395.0,254.69 L396.0,254.48 L397.0,254.25 L398.0,253.97 L399.0,253.61 L400.0,253.19 L401.0,252.73 L402.0,252.24 L403.0,251.75 L404.0,251.27 L405.0,250.81 L406.0,250.39 L407.0,249.97 L408.0,249.53 L409.0,249.09 L410.0,248.67 L411.0,248.25 L412.0,247.86 L413.0,247.51 L414.0,247.19 L415.0,246.91 L416.0,246.64 L417.0,246.38 L418.0,246.14 L419.0,245.92 L420.0,245.71 L421.0,245.52 L422.0,245.35 L423.0,245.20 L424.0,245.06 L425.0,244.94 L426.0,244.82 L427.0,244.71 L428.0,244.61 L429.0,244.51 L430.0,244.43 L431.0,244.35 L432.0,244.29 L433.0,244.22 L434.0,244.16 L435.0,244.10 L436.0,244.04 L437.0,243.98 L438.0,243.92 L439.0,243.87 L440.0,243.82 L441.0,243.77 L442.0,243.73 L443.0,243.69 L444.0,243.66 L445.0,243.63 L446.0,243.62 L447.0,243.60 L448.0,243.60 L449.0,243.60 L450.0,243.60 L451.0,243.60 L452.0,243.60 L453.0,243.60 L454.0,243.60 L455.0,243.60 L456.0,243.60 L457.0,243.60 L458.0,243.60 L459.0,243.60 L460.0,243.60 L461.0,243.60 L462.0,243.60 L463.0,243.60 L464.0,243.60 L465.0,243.60 L466.0,243.60 L467.0,243.60 L468.0,243.60 L469.0,243.60 L470.0,243.60 L471.0,243.60 L472.0,243.60 L473.0,243.60 L474.0,243.60 L475.0,243.60 L476.0,243.60 L477.0,243.60 L478.0,243.60 L479.0,243.60 L480.0,243.61 L481.0,243.61 L482.0,243.62 L483.0,243.63 L484.0,243.64 L485.0,243.66 L486.0,243.67 L487.0,243.68 L488.0,243.70 L489.0,243.72 L490.0,243.74 L491.0,243.75 L492.0,243.77 L493.0,243.80 L494.0,243.82 L495.0,243.84 L496.0,243.86 L497.0,243.89 L498.0,243.91 L499.0,243.93 L500.0,243.96 L501.0,243.98 L502.0,244.01 L503.0,244.03 L504.0,244.06 L505.0,244.08 L506.0,244.11 L507.0,244.13 L508.0,244.15 L509.0,244.18 L510.0,244.20 L511.0,244.22 L512.0,244.25 L513.0,244.27 L514.0,244.30 L515.0,244.32 L516.0,244.35 L517.0,244.37 L518.0,244.40 L519.0,244.43 L520.0,244.46 L521.0,244.49 L522.0,244.52 L523.0,244.55 L524.0,244.58 L525.0,244.61 L526.0,244.64 L527.0,244.67 L528.0,244.70 L529.0,244.73 L530.0,244.76 L531.0,244.80 L532.0,244.83 L533.0,244.86 L534.0,244.90 L535.0,244.93 L536.0,244.96 L537.0,245.00 L538.0,245.03 L539.0,245.07 L540.0,245.10 L541.0,245.14 L542.0,245.17 L543.0,245.21 L544.0,245.24 L545.0,245.28 L546.0,245.31 L547.0,245.35 L548.0,245.38 L549.0,245.42 L550.0,245.45 L551.0,245.49 L552.0,245.52 L553.0,245.56 L554.0,245.59 L555.0,245.63 L556.0,245.66 L557.0,245.70 L558.0,245.73 L559.0,245.77 L560.0,245.80 L561.0,245.83 L562.0,245.87 L563.0,245.90 L564.0,245.94 L565.0,245.97 L566.0,246.01 L567.0,246.04 L568.0,246.08 L569.0,246.12 L570.0,246.15 L571.0,246.19 L572.0,246.23 L573.0,246.26 L574.0,246.30 L575.0,246.34 L576.0,246.37 L577.0,246.41 L578.0,246.45 L579.0,246.49 L580.0,246.52 L581.0,246.56 L582.0,246.60 L583.0,246.64 L584.0,246.68 L585.0,246.72 L586.0,246.75 L587.0,246.79 L588.0,246.83 L589.0,246.87 L590.0,246.91 L591.0,246.95 L592.0,246.99 L593.0,247.03 L594.0,247.07 L595.0,247.10 L596.0,247.14 L597.0,247.18 L598.0,247.22 L599.0,247.26 L600.0,247.30 L601.0,247.34 L602.0,247.38 L603.0,247.42 L604.0,247.46 L605.0,247.49 L606.0,247.53 L607.0,247.57 L608.0,247.61 L609.0,247.65 L610.0,247.69 L611.0,247.72 L612.0,247.76 L613.0,247.80 L614.0,247.84 L615.0,247.88 L616.0,247.91 L617.0,247.95 L618.0,247.99 L619.0,248.03 L620.0,248.06 L621.0,248.10 L622.0,248.14 L623.0,248.17 L624.0,248.21 L625.0,248.24 L626.0,248.28 L627.0,248.31 L628.0,248.35 L629.0,248.38 L630.0,248.42 L631.0,248.45 L632.0,248.49 L633.0,248.52 L634.0,248.55 L635.0,248.59 L636.0,248.62 L637.0,248.65 L638.0,248.68 L639.0,248.72 L640.0,248.75 L641.0,248.78 L642.0,248.81 L643.0,248.84 L644.0,248.87 L645.0,248.90 L646.0,248.93 L647.0,248.96 L648.0,248.99 L649.0,249.02 L650.0,249.04 L651.0,249.07 L652.0,249.10 L653.0,249.13 L654.0,249.16 L655.0,249.18 L656.0,249.21 L657.0,249.24 L658.0,249.26 L659.0,249.29 L660.0,249.32 L661.0,249.34 L662.0,249.37 L663.0,249.39 L664.0,249.42 L665.0,249.44 L666.0,249.47 L667.0,249.49 L668.0,249.52 L669.0,249.54 L670.0,249.57 L671.0,249.59 L672.0,249.61 L673.0,249.64 L674.0,249.66 L675.0,249.69 L676.0,249.71 L677.0,249.73 L678.0,249.75 L679.0,249.78 L679.0,258.47 L678.0,258.43 L677.0,258.40 L676.0,258.36 L675.0,258.33 L674.0,258.29 L673.0,258.26 L672.0,258.22 L671.0,258.18 L670.0,258.15 L669.0,258.11 L668.0,258.08 L667.0,258.04 L666.0,258.00 L665.0,257.97 L664.0,257.93 L663.0,257.89 L662.0,257.86 L661.0,257.82 L660.0,257.78 L659.0,257.75 L658.0,257.71 L657.0,257.67 L656.0,257.63 L655.0,257.59 L654.0,257.56 L653.0,257.52 L652.0,257.48 L651.0,257.44 L650.0,257.40 L649.0,257.36 L648.0,257.32 L647.0,257.28 L646.0,257.24 L645.0,257.20 L644.0,257.16 L643.0,257.12 L642.0,257.08 L641.0,257.04 L640.0,257.00 L639.0,256.96 L638.0,256.91 L637.0,256.87 L636.0,256.83 L635.0,256.79 L634.0,256.75 L633.0,256.71 L632.0,256.67 L631.0,256.62 L630.0,256.58 L629.0,256.54 L628.0,256.50 L627.0,256.46 L626.0,256.41 L625.0,256.37 L624.0,256.33 L623.0,256.29 L622.0,256.24 L621.0,256.20 L620.0,256.16 L619.0,256.11 L618.0,256.07 L617.0,256.03 L616.0,255.98 L615.0,255.94 L614.0,255.90 L613.0,255.85 L612.0,255.81 L611.0,255.77 L610.0,255.72 L609.0,255.68 L608.0,255.63 L607.0,255.59 L606.0,255.54 L605.0,255.50 L604.0,255.45 L603.0,255.41 L602.0,255.36 L601.0,255.32 L600.0,255.27 L599.0,255.22 L598.0,255.18 L597.0,255.13 L596.0,255.09 L595.0,255.04 L594.0,254.99 L593.0,254.95 L592.0,254.90 L591.0,254.85 L590.0,254.80 L589.0,254.76 L588.0,254.71 L587.0,254.66 L586.0,254.61 L585.0,254.57 L584.0,254.52 L583.0,254.47 L582.0,254.42 L581.0,254.37 L580.0,254.32 L579.0,254.27 L578.0,254.22 L577.0,254.17 L576.0,254.12 L575.0,254.07 L574.0,254.02 L573.0,253.97 L572.0,253.92 L571.0,253.87 L570.0,253.82 L569.0,253.77 L568.0,253.72 L567.0,253.67 L566.0,253.61 L565.0,253.56 L564.0,253.51 L563.0,253.46 L562.0,253.41 L561.0,253.35 L560.0,253.30 L559.0,253.25 L558.0,253.19 L557.0,253.13 L556.0,253.08 L555.0,253.02 L554.0,252.96 L553.0,252.90 L552.0,252.83 L551.0,252.77 L550.0,252.71 L549.0,252.65 L548.0,252.58 L547.0,252.52 L546.0,252.45 L545.0,252.39 L544.0,252.33 L543.0,252.26 L542.0,252.20 L541.0,252.13 L540.0,252.07 L539.0,252.01 L538.0,251.95 L537.0,251.89 L536.0,251.83 L535.0,251.77 L534.0,251.71 L533.0,251.66 L532.0,251.60 L531.0,251.55 L530.0,251.50 L529.0,251.45 L528.0,251.40 L527.0,251.35 L526.0,251.31 L525.0,251.26 L524.0,251.21 L523.0,251.17 L522.0,251.12 L521.0,251.08 L520.0,251.04 L519.0,250.99 L518.0,250.95 L517.0,250.91 L516.0,250.87 L515.0,250.82 L514.0,250.78 L513.0,250.74 L512.0,250.70 L511.0,250.66 L510.0,250.62 L509.0,250.58 L508.0,250.54 L507.0,250.49 L506.0,250.45 L505.0,250.41 L504.0,250.37 L503.0,250.33 L502.0,250.29 L501.0,250.24 L500.0,250.20 L499.0,250.16 L498.0,250.11 L497.0,250.06 L496.0,250.01 L495.0,249.96 L494.0,249.91 L493.0,249.86 L492.0,249.80 L491.0,249.75 L490.0,249.70 L489.0,249.65 L488.0,249.60 L487.0,249.55 L486.0,249.50 L485.0,249.46 L484.0,249.42 L483.0,249.37 L482.0,249.34 L481.0,249.30 L480.0,249.27 L479.0,249.24 L478.0,249.22 L477.0,249.20 L476.0,249.18 L475.0,249.17 L474.0,249.15 L473.0,249.13 L472.0,249.12 L471.0,249.10 L470.0,249.09 L469.0,249.07 L468.0,249.06 L467.0,249.04 L466.0,249.03 L465.0,249.02 L464.0,249.01 L463.0,248.99 L462.0,248.98 L461.0,248.97 L460.0,248.96 L459.0,248.95 L458.0,248.94 L457.0,248.94 L456.0,248.93 L455.0,248.92 L454.0,248.92 L453.0,248.91 L452.0,248.91 L451.0,248.90 L450.0,248.90 L449.0,248.90 L448.0,248.90 L447.0,248.91 L446.0,248.93 L445.0,248.96 L444.0,249.01 L443.0,249.07 L442.0,249.13 L441.0,249.21 L440.0,249.30 L439.0,249.39 L438.0,249.49 L437.0,249.60 L436.0,249.71 L435.0,249.82 L434.0,249.94 L433.0,250.06 L432.0,250.18 L431.0,250.30 L430.0,250.45 L429.0,250.62 L428.0,250.81 L427.0,251.02 L426.0,251.24 L425.0,251.48 L424.0,251.73 L423.0,252.00 L422.0,252.29 L421.0,252.61 L420.0,252.96 L419.0,253.34 L418.0,253.75 L417.0,254.18 L416.0,254.65 L415.0,255.14 L414.0,255.66 L413.0,256.27 L412.0,256.96 L411.0,257.71 L410.0,258.48 L409.0,259.26 L408.0,260.00 L407.0,260.70 L406.0,261.39 L405.0,262.12 L404.0,262.96 L403.0,263.98 L402.0,265.07 L401.0,266.06 L400.0,266.88 L399.0,267.70 L398.0,268.46 L397.0,269.09 L396.0,269.51 L395.0,269.70 L394.0,269.84 L393.0,269.96 L392.0,270.06 L391.0,270.14 L390.0,270.18 L389.0,270.20 Z" fill="#a0736e" stroke="#a0736e" stroke-width="0.3"/>
<path d="M389.0,255.50 L390.0,255.45 L391.0,255.36 L392.0,255.23 L393.0,255.08 L394.0,254.89 L395.0,254.69 L396.0,254.48 L397.0,254.25 L398.0,253.97 L399.0,253.61 L400.0,253.19 L401.0,252.73 L402.0,252.24 L403.0,251.75 L404.0,251.27 L405.0,250.81 L406.0,250.39 L407.0,249.97 L408.0,249.53 L409.0,249.09 L410.0,248.67 L411.0,248.25 L412.0,247.86 L413.0,247.51 L414.0,247.19 L415.0,246.91 L416.0,246.64 L417.0,246.38 L418.0,246.14 L419.0,245.92 L420.0,245.71 L421.0,245.52 L422.0,245.35 L423.0,245.20 L424.0,245.06 L425.0,244.94 L426.0,244.82 L427.0,244.71 L428.0,244.61 L429.0,244.51 L430.0,244.43 L431.0,244.35 L432.0,244.29 L433.0,244.22 L434.0,244.16 L435.0,244.10 L436.0,244.04 L437.0,243.98 L438.0,243.92 L439.0,243.87 L440.0,243.82 L441.0,243.77 L442.0,243.73 L443.0,243.69 L444.0,243.66 L445.0,243.63 L446.0,243.62 L447.0,243.60 L448.0,243.60 L449.0,243.60 L450.0,243.60 L451.0,243.60 L452.0,243.60 L453.0,243.60 L454.0,243.60 L455.0,243.60 L456.0,243.60 L457.0,243.60 L458.0,243.60 L459.0,243.60 L460.0,243.60 L461.0,243.60 L462.0,243.60 L463.0,243.60 L464.0,243.60 L465.0,243.60 L466.0,243.60 L467.0,243.60 L468.0,243.60 L469.0,243.60 L470.0,243.60 L471.0,243.60 L472.0,243.60 L473.0,243.60 L474.0,243.60 L475.0,243.60 L476.0,243.60 L477.0,243.60 L478.0,243.60 L479.0,243.60 L480.0,243.61 L481.0,243.61 L482.0,243.62 L483.0,243.63 L484.0,243.64 L485.0,243.66 L486.0,243.67 L487.0,243.68 L488.0,243.70 L489.0,243.72 L490.0,243.74 L491.0,243.75 L492.0,243.77 L493.0,243.80 L494.0,243.82 L495.0,243.84 L496.0,243.86 L497.0,243.89 L498.0,243.91 L499.0,243.93 L500.0,243.96 L501.0,243.98 L502.0,244.01 L503.0,244.03 L504.0,244.06 L505.0,244.08 L506.0,244.11 L507.0,244.13 L508.0,244.15 L509.0,244.18 L510.0,244.20 L511.0,244.22 L512.0,244.25 L513.0,244.27 L514.0,244.30 L515.0,244.32 L516.0,244.35 L517.0,244.37 L518.0,244.40 L519.0,244.43 L520.0,244.46 L521.0,244.49 L522.0,244.52 L523.0,244.55 L524.0,244.58 L525.0,244.61 L526.0,244.64 L527.0,244.67 L528.0,244.70 L529.0,244.73 L530.0,244.76 L531.0,244.80 L532.0,244.83 L533.0,244.86 L534.0,244.90 L535.0,244.93 L536.0,244.96 L537.0,245.00 L538.0,245.03 L539.0,245.07 L540.0,245.10 L541.0,245.14 L542.0,245.17 L543.0,245.21 L544.0,245.24 L545.0,245.28 L546.0,245.31 L547.0,245.35 L548.0,245.38 L549.0,245.42 L550.0,245.45 L551.0,245.49 L552.0,245.52 L553.0,245.56 L554.0,245.59 L555.0,245.63 L556.0,245.66 L557.0,245.70 L558.0,245.73 L559.0,245.77 L560.0,245.80 L561.0,245.83 L562.0,245.87 L563.0,245.90 L564.0,245.94 L565.0,245.97 L566.0,246.01 L567.0,246.04 L568.0,246.08 L569.0,246.12 L570.0,246.15 L571.0,246.19 L572.0,246.23 L573.0,246.26 L574.0,246.30 L575.0,246.34 L576.0,246.37 L577.0,246.41 L578.0,246.45 L579.0,246.49 L580.0,246.52 L581.0,246.56 L582.0,246.60 L583.0,246.64 L584.0,246.68 L585.0,246.72 L586.0,246.75 L587.0,246.79 L588.0,246.83 L589.0,246.87 L590.0,246.91 L591.0,246.95 L592.0,246.99 L593.0,247.03 L594.0,247.07 L595.0,247.10 L596.0,247.14 L597.0,247.18 L598.0,247.22 L599.0,247.26 L600.0,247.30 L601.0,247.34 L602.0,247.38 L603.0,247.42 L604.0,247.46 L605.0,247.49 L606.0,247.53 L607.0,247.57 L608.0,247.61 L609.0,247.65 L610.0,247.69 L611.0,247.72 L612.0,247.76 L613.0,247.80 L614.0,247.84 L615.0,247.88 L616.0,247.91 L617.0,247.95 L618.0,247.99 L619.0,248.03 L620.0,248.06 L621.0,248.10 L622.0,248.14 L623.0,248.17 L624.0,248.21 L625.0,248.24 L626.0,248.28 L627.0,248.31 L628.0,248.35 L629.0,248.38 L630.0,248.42 L631.0,248.45 L632.0,248.49 L633.0,248.52 L634.0,248.55 L635.0,248.59 L636.0,248.62 L637.0,248.65 L638.0,248.68 L639.0,248.72 L640.0,248.75 L641.0,248.78 L642.0,248.81 L643.0,248.84 L644.0,248.87 L645.0,248.90 L646.0,248.93 L647.0,248.96 L648.0,248.99 L649.0,249.02 L650.0,249.04 L651.0,249.07 L652.0,249.10 L653.0,249.13 L654.0,249.16 L655.0,249.18 L656.0,249.21 L657.0,249.24 L658.0,249.26 L659.0,249.29 L660.0,249.32 L661.0,249.34 L662.0,249.37 L663.0,249.39 L664.0,249.42 L665.0,249.44 L666.0,249.47 L667.0,249.49 L668.0,249.52 L669.0,249.54 L670.0,249.57 L671.0,249.59 L672.0,249.61 L673.0,249.64 L674.0,249.66 L675.0,249.69 L676.0,249.71 L677.0,249.73 L678.0,249.75 L679.0,249.78 L679.0,264.93 L678.0,264.86 L677.0,264.79 L676.0,264.71 L675.0,264.64 L674.0,264.57 L673.0,264.50 L672.0,264.43 L671.0,264.36 L670.0,264.28 L669.0,264.21 L668.0,264.14 L667.0,264.07 L666.0,264.00 L665.0,263.93 L664.0,263.85 L663.0,263.78 L662.0,263.71 L661.0,263.64 L660.0,263.57 L659.0,263.50 L658.0,263.43 L657.0,263.35 L656.0,263.28 L655.0,263.21 L654.0,263.14 L653.0,263.07 L652.0,263.00 L651.0,262.93 L650.0,262.86 L649.0,262.78 L648.0,262.71 L647.0,262.64 L646.0,262.57 L645.0,262.50 L644.0,262.43 L643.0,262.36 L642.0,262.29 L641.0,262.22 L640.0,262.15 L639.0,262.08 L638.0,262.01 L637.0,261.94 L636.0,261.87 L635.0,261.80 L634.0,261.73 L633.0,261.66 L632.0,261.59 L631.0,261.53 L630.0,261.46 L629.0,261.39 L628.0,261.32 L627.0,261.25 L626.0,261.18 L625.0,261.12 L624.0,261.05 L623.0,260.98 L622.0,260.91 L621.0,260.85 L620.0,260.78 L619.0,260.71 L618.0,260.64 L617.0,260.58 L616.0,260.51 L615.0,260.44 L614.0,260.37 L613.0,260.31 L612.0,260.24 L611.0,260.17 L610.0,260.10 L609.0,260.04 L608.0,259.97 L607.0,259.90 L606.0,259.83 L605.0,259.76 L604.0,259.70 L603.0,259.63 L602.0,259.56 L601.0,259.49 L600.0,259.42 L599.0,259.36 L598.0,259.29 L597.0,259.22 L596.0,259.15 L595.0,259.08 L594.0,259.01 L593.0,258.94 L592.0,258.87 L591.0,258.80 L590.0,258.73 L589.0,258.66 L588.0,258.59 L587.0,258.52 L586.0,258.45 L585.0,258.38 L584.0,258.31 L583.0,258.24 L582.0,258.16 L581.0,258.09 L580.0,258.02 L579.0,257.95 L578.0,257.87 L577.0,257.80 L576.0,257.73 L575.0,257.65 L574.0,257.58 L573.0,257.50 L572.0,257.43 L571.0,257.35 L570.0,257.28 L569.0,257.20 L568.0,257.13 L567.0,257.05 L566.0,256.97 L565.0,256.89 L564.0,256.82 L563.0,256.74 L562.0,256.66 L561.0,256.58 L560.0,256.50 L559.0,256.42 L558.0,256.34 L557.0,256.26 L556.0,256.18 L555.0,256.10 L554.0,256.01 L553.0,255.93 L552.0,255.85 L551.0,255.76 L550.0,255.68 L549.0,255.60 L548.0,255.51 L547.0,255.43 L546.0,255.34 L545.0,255.26 L544.0,255.17 L543.0,255.08 L542.0,255.00 L541.0,254.91 L540.0,254.82 L539.0,254.73 L538.0,254.65 L537.0,254.56 L536.0,254.47 L535.0,254.38 L534.0,254.29 L533.0,254.20 L532.0,254.11 L531.0,254.02 L530.0,253.92 L529.0,253.83 L528.0,253.74 L527.0,253.65 L526.0,253.55 L525.0,253.46 L524.0,253.36 L523.0,253.27 L522.0,253.17 L521.0,253.08 L520.0,252.98 L519.0,252.89 L518.0,252.79 L517.0,252.69 L516.0,252.59 L515.0,252.50 L514.0,252.40 L513.0,252.30 L512.0,252.20 L511.0,252.10 L510.0,252.00 L509.0,251.90 L508.0,251.79 L507.0,251.69 L506.0,251.58 L505.0,251.47 L504.0,251.36 L503.0,251.25 L502.0,251.14 L501.0,251.02 L500.0,250.91 L499.0,250.80 L498.0,250.68 L497.0,250.57 L496.0,250.46 L495.0,250.34 L494.0,250.23 L493.0,250.12 L492.0,250.01 L491.0,249.91 L490.0,249.80 L489.0,249.70 L488.0,249.60 L487.0,249.50 L486.0,249.40 L485.0,249.30 L484.0,249.20 L483.0,249.11 L482.0,249.01 L481.0,248.91 L480.0,248.81 L479.0,248.71 L478.0,248.61 L477.0,248.50 L476.0,248.39 L475.0,248.28 L474.0,248.16 L473.0,248.04 L472.0,247.92 L471.0,247.80 L470.0,247.68 L469.0,247.56 L468.0,247.43 L467.0,247.30 L466.0,247.18 L465.0,247.05 L464.0,246.92 L463.0,246.80 L462.0,246.67 L461.0,246.54 L460.0,246.42 L459.0,246.30 L458.0,246.18 L457.0,246.06 L456.0,245.94 L455.0,245.82 L454.0,245.71 L453.0,245.60 L452.0,245.49 L451.0,245.38 L450.0,245.28 L449.0,245.17 L448.0,245.06 L447.0,244.96 L446.0,244.86 L445.0,244.76 L444.0,244.66 L443.0,244.56 L442.0,244.47 L441.0,244.38 L440.0,244.30 L439.0,244.23 L438.0,244.17 L437.0,244.11 L436.0,244.06 L435.0,244.10 L434.0,244.16 L433.0,244.22 L432.0,244.29 L431.0,244.35 L430.0,244.43 L429.0,244.51 L428.0,244.61 L427.0,244.71 L426.0,244.82 L425.0,244.94 L424.0,245.06 L423.0,245.20 L422.0,245.35 L421.0,245.52 L420.0,245.71 L419.0,245.92 L418.0,246.14 L417.0,246.38 L416.0,246.64 L415.0,246.91 L414.0,247.19 L413.0,247.51 L412.0,247.86 L411.0,248.25 L410.0,248.67 L409.0,249.09 L408.0,249.53 L407.0,249.97 L406.0,250.39 L405.0,250.81 L404.0,251.27 L403.0,251.75 L402.0,252.24 L401.0,252.73 L400.0,253.19 L399.0,253.61 L398.0,253.97 L397.0,254.25 L396.0,254.48 L395.0,254.69 L394.0,254.89 L393.0,255.08 L392.0,255.23 L391.0,255.36 L390.0,255.45 L389.0,255.50 Z" fill="#e18c78" stroke="#e18c78" stroke-width="0.3"/>
<path d="M389.0,255.50 L390.0,255.45 L391.0,255.36 L392.0,255.23 L393.0,255.08 L394.0,254.89 L395.0,254.69 L396.0,254.48 L397.0,254.25 L398.0,253.97 L399.0,253.61 L400.0,253.19 L401.0,252.73 L402.0,252.24 L403.0,251.75 L404.0,251.27 L405.0,250.81 L406.0,250.39 L407.0,249.97 L408.0,249.53 L409.0,249.09 L410.0,248.67 L411.0,248.25 L412.0,247.86 L413.0,247.51 L414.0,247.19 L415.0,246.91 L416.0,246.64 L417.0,246.38 L418.0,246.14 L419.0,245.92 L420.0,245.71 L421.0,245.52 L422.0,245.35 L423.0,245.20 L424.0,245.06 L425.0,244.94 L426.0,244.82 L427.0,244.71 L428.0,244.61 L429.0,244.51 L430.0,244.43 L431.0,244.35 L432.0,244.29 L433.0,244.22 L434.0,244.16 L435.0,244.10 L436.0,244.04 L437.0,243.98 L438.0,243.92 L439.0,243.87 L440.0,243.82 L441.0,243.77 L442.0,243.73 L443.0,243.69 L444.0,243.66 L445.0,243.63 L446.0,243.62 L447.0,243.60 L448.0,243.60 L449.0,243.60 L450.0,243.60 L451.0,243.60 L452.0,243.60 L453.0,243.60 L454.0,243.60 L455.0,243.60 L456.0,243.60 L457.0,243.60 L458.0,243.60 L459.0,243.60 L460.0,243.60 L461.0,243.60 L462.0,243.60 L463.0,243.60 L464.0,243.60 L465.0,243.60 L466.0,243.60 L467.0,243.60 L468.0,243.60 L469.0,243.60 L470.0,243.60 L471.0,243.60 L472.0,243.60 L473.0,243.60 L474.0,243.60 L475.0,243.60 L476.0,243.60 L477.0,243.60 L478.0,243.60 L479.0,243.60 L480.0,243.61 L481.0,243.61 L482.0,243.62 L483.0,243.63 L484.0,243.64 L485.0,243.66 L486.0,243.67 L487.0,243.68 L488.0,243.70 L489.0,243.72 L490.0,243.74 L491.0,243.75 L492.0,243.77 L493.0,243.80 L494.0,243.82 L495.0,243.84 L496.0,243.86 L497.0,243.89 L498.0,243.91 L499.0,243.93 L500.0,243.96 L501.0,243.98 L502.0,244.01 L503.0,244.03 L504.0,244.06 L505.0,244.08 L506.0,244.11 L507.0,244.13 L508.0,244.15 L509.0,244.18 L510.0,244.20 L511.0,244.22 L512.0,244.25 L513.0,244.27 L514.0,244.30 L515.0,244.32 L516.0,244.35 L517.0,244.37 L518.0,244.40 L519.0,244.43 L520.0,244.46 L521.0,244.49 L522.0,244.52 L523.0,244.55 L524.0,244.58 L525.0,244.61 L526.0,244.64 L527.0,244.67 L528.0,244.70 L529.0,244.73 L530.0,244.76 L531.0,244.80 L532.0,244.83 L533.0,244.86 L534.0,244.90 L535.0,244.93 L536.0,244.96 L537.0,245.00 L538.0,245.03 L539.0,245.07 L540.0,245.10 L541.0,245.14 L542.0,245.17 L543.0,245.21 L544.0,245.24 L545.0,245.28 L546.0,245.31 L547.0,245.35 L548.0,245.38 L549.0,245.42 L550.0,245.45 L551.0,245.49 L552.0,245.52 L553.0,245.56 L554.0,245.59 L555.0,245.63 L556.0,245.66 L557.0,245.70 L558.0,245.73 L559.0,245.77 L560.0,245.80 L561.0,245.83 L562.0,245.87 L563.0,245.90 L564.0,245.94 L565.0,245.97 L566.0,246.01 L567.0,246.04 L568.0,246.08 L569.0,246.12 L570.0,246.15 L571.0,246.19 L572.0,246.23 L573.0,246.26 L574.0,246.30 L575.0,246.34 L576.0,246.37 L577.0,246.41 L578.0,246.45 L579.0,246.49 L580.0,246.52 L581.0,246.56 L582.0,246.60 L583.0,246.64 L584.0,246.68 L585.0,246.72 L586.0,246.75 L587.0,246.79 L588.0,246.83 L589.0,246.87 L590.0,246.91 L591.0,246.95 L592.0,246.99 L593.0,247.03 L594.0,247.07 L595.0,247.10 L596.0,247.14 L597.0,247.18 L598.0,247.22 L599.0,247.26 L600.0,247.30 L601.0,247.34 L602.0,247.38 L603.0,247.42 L604.0,247.46 L605.0,247.49 L606.0,247.53 L607.0,247.57 L608.0,247.61 L609.0,247.65 L610.0,247.69 L611.0,247.72 L612.0,247.76 L613.0,247.80 L614.0,247.84 L615.0,247.88 L616.0,247.91 L617.0,247.95 L618.0,247.99 L619.0,248.03 L620.0,248.06 L621.0,248.10 L622.0,248.14 L623.0,248.17 L624.0,248.21 L625.0,248.24 L626.0,248.28 L627.0,248.31 L628.0,248.35 L629.0,248.38 L630.0,248.42 L631.0,248.45 L632.0,248.49 L633.0,248.52 L634.0,248.55 L635.0,248.59 L636.0,248.62 L637.0,248.65 L638.0,248.68 L639.0,248.72 L640.0,248.75 L641.0,248.78 L642.0,248.81 L643.0,248.84 L644.0,248.87 L645.0,248.90 L646.0,248.93 L647.0,248.96 L648.0,248.99 L649.0,249.02 L650.0,249.04 L651.0,249.07 L652.0,249.10 L653.0,249.13 L654.0,249.16 L655.0,249.18 L656.0,249.21 L657.0,249.24 L658.0,249.26 L659.0,249.29 L660.0,249.32 L661.0,249.34 L662.0,249.37 L663.0,249.39 L664.0,249.42 L665.0,249.44 L666.0,249.47 L667.0,249.49 L668.0,249.52 L669.0,249.54 L670.0,249.57 L671.0,249.59 L672.0,249.61 L673.0,249.64 L674.0,249.66 L675.0,249.69 L676.0,249.71 L677.0,249.73 L678.0,249.75 L679.0,249.78 L679.0,258.47 L678.0,258.43 L677.0,258.40 L676.0,258.36 L675.0,258.33 L674.0,258.29 L673.0,258.26 L672.0,258.22 L671.0,258.18 L670.0,258.15 L669.0,258.11 L668.0,258.08 L667.0,258.04 L666.0,258.00 L665.0,257.97 L664.0,257.93 L663.0,257.89 L662.0,257.86 L661.0,257.82 L660.0,257.78 L659.0,257.75 L658.0,257.71 L657.0,257.67 L656.0,257.63 L655.0,257.59 L654.0,257.56 L653.0,257.52 L652.0,257.48 L651.0,257.44 L650.0,257.40 L649.0,257.36 L648.0,257.32 L647.0,257.28 L646.0,257.24 L645.0,257.20 L644.0,257.16 L643.0,257.12 L642.0,257.08 L641.0,257.04 L640.0,257.00 L639.0,256.96 L638.0,256.91 L637.0,256.87 L636.0,256.83 L635.0,256.79 L634.0,256.75 L633.0,256.71 L632.0,256.67 L631.0,256.62 L630.0,256.58 L629.0,256.54 L628.0,256.50 L627.0,256.46 L626.0,256.41 L625.0,256.37 L624.0,256.33 L623.0,256.29 L622.0,256.24 L621.0,256.20 L620.0,256.16 L619.0,256.11 L618.0,256.07 L617.0,256.03 L616.0,255.98 L615.0,255.94 L614.0,255.90 L613.0,255.85 L612.0,255.81 L611.0,255.77 L610.0,255.72 L609.0,255.68 L608.0,255.63 L607.0,255.59 L606.0,255.54 L605.0,255.50 L604.0,255.45 L603.0,255.41 L602.0,255.36 L601.0,255.32 L600.0,255.27 L599.0,255.22 L598.0,255.18 L597.0,255.13 L596.0,255.09 L595.0,255.04 L594.0,254.99 L593.0,254.95 L592.0,254.90 L591.0,254.85 L590.0,254.80 L589.0,254.76 L588.0,254.71 L587.0,254.66 L586.0,254.61 L585.0,254.57 L584.0,254.52 L583.0,254.47 L582.0,254.42 L581.0,254.37 L580.0,254.32 L579.0,254.27 L578.0,254.22 L577.0,254.17 L576.0,254.12 L575.0,254.07 L574.0,254.02 L573.0,253.97 L572.0,253.92 L571.0,253.87 L570.0,253.82 L569.0,253.77 L568.0,253.72 L567.0,253.67 L566.0,253.61 L565.0,253.56 L564.0,253.51 L563.0,253.46 L562.0,253.41 L561.0,253.35 L560.0,253.30 L559.0,253.25 L558.0,253.19 L557.0,253.13 L556.0,253.08 L555.0,253.02 L554.0,252.96 L553.0,252.90 L552.0,252.83 L551.0,252.77 L550.0,252.71 L549.0,252.65 L548.0,252.58 L547.0,252.52 L546.0,252.45 L545.0,252.39 L544.0,252.33 L543.0,252.26 L542.0,252.20 L541.0,252.13 L540.0,252.07 L539.0,252.01 L538.0,251.95 L537.0,251.89 L536.0,251.83 L535.0,251.77 L534.0,251.71 L533.0,251.66 L532.0,251.60 L531.0,251.55 L530.0,251.50 L529.0,251.45 L528.0,251.40 L527.0,251.35 L526.0,251.31 L525.0,251.26 L524.0,251.21 L523.0,251.17 L522.0,251.12 L521.0,251.08 L520.0,251.04 L519.0,250.99 L518.0,250.95 L517.0,250.91 L516.0,250.87 L515.0,250.82 L514.0,250.78 L513.0,250.74 L512.0,250.70 L511.0,250.66 L510.0,250.62 L509.0,250.58 L508.0,250.54 L507.0,250.49 L506.0,250.45 L505.0,250.41 L504.0,250.37 L503.0,250.33 L502.0,250.29 L501.0,250.24 L500.0,250.20 L499.0,250.16 L498.0,250.11 L497.0,250.06 L496.0,250.01 L495.0,249.96 L494.0,249.91 L493.0,249.86 L492.0,249.80 L491.0,249.75 L490.0,249.70 L489.0,249.65 L488.0,249.60 L487.0,249.50 L486.0,249.40 L485.0,249.30 L484.0,249.20 L483.0,249.11 L482.0,249.01 L481.0,248.91 L480.0,248.81 L479.0,248.71 L478.0,248.61 L477.0,248.50 L476.0,248.39 L475.0,248.28 L474.0,248.16 L473.0,248.04 L472.0,247.92 L471.0,247.80 L470.0,247.68 L469.0,247.56 L468.0,247.43 L467.0,247.30 L466.0,247.18 L465.0,247.05 L464.0,246.92 L463.0,246.80 L462.0,246.67 L461.0,246.54 L460.0,246.42 L459.0,246.30 L458.0,246.18 L457.0,246.06 L456.0,245.94 L455.0,245.82 L454.0,245.71 L453.0,245.60 L452.0,245.49 L451.0,245.38 L450.0,245.28 L449.0,245.17 L448.0,245.06 L447.0,244.96 L446.0,244.86 L445.0,244.76 L444.0,244.66 L443.0,244.56 L442.0,244.47 L441.0,244.38 L440.0,244.30 L439.0,244.23 L438.0,244.17 L437.0,244.11 L436.0,244.06 L435.0,244.10 L434.0,244.16 L433.0,244.22 L432.0,244.29 L431.0,244.35 L430.0,244.43 L429.0,244.51 L428.0,244.61 L427.0,244.71 L426.0,244.82 L425.0,244.94 L424.0,245.06 L423.0,245.20 L422.0,245.35 L421.0,245.52 L420.0,245.71 L419.0,245.92 L418.0,246.14 L417.0,246.38 L416.0,246.64 L415.0,246.91 L414.0,247.19 L413.0,247.51 L412.0,247.86 L411.0,248.25 L410.0,248.67 L409.0,249.09 L408.0,249.53 L407.0,249.97 L406.0,250.39 L405.0,250.81 L404.0,251.27 L403.0,251.75 L402.0,252.24 L401.0,252.73 L400.0,253.19 L399.0,253.61 L398.0,253.97 L397.0,254.25 L396.0,254.48 L395.0,254.69 L394.0,254.89 L393.0,255.08 L392.0,255.23 L391.0,255.36 L390.0,255.45 L389.0,255.50 Z" fill="#b98255" stroke="#b98255" stroke-width="0.3"/>
<path d="M389.0,253.10 L390.0,252.94 L391.0,252.73 L392.0,252.48 L393.0,252.20 L394.0,251.86 L395.0,251.44 L396.0,250.98 L397.0,250.50 L398.0,249.98 L399.0,249.42 L400.0,248.85 L401.0,248.30 L402.0,247.79 L403.0,247.30 L404.0,246.82 L405.0,246.34 L406.0,245.85 L407.0,245.35 L408.0,244.85 L409.0,244.37 L410.0,243.90 L411.0,243.46 L412.0,243.03 L413.0,242.61 L414.0,242.22 L415.0,241.83 L416.0,241.44 L417.0,241.09 L418.0,240.80 L419.0,240.58 L420.0,240.39 L421.0,240.22 L422.0,240.06 L423.0,239.90 L424.0,239.74 L425.0,239.58 L426.0,239.43 L427.0,239.30 L428.0,239.18 L429.0,239.07 L430.0,238.96 L431.0,238.87 L432.0,238.78 L433.0,238.71 L434.0,238.64 L435.0,238.58 L436.0,238.52 L437.0,238.46 L438.0,238.40 L439.0,238.34 L440.0,238.28 L441.0,238.22 L442.0,238.16 L443.0,238.11 L444.0,238.06 L445.0,238.01 L446.0,237.96 L447.0,237.93 L448.0,237.90 L449.0,237.88 L450.0,237.85 L451.0,237.83 L452.0,237.81 L453.0,237.79 L454.0,237.77 L455.0,237.75 L456.0,237.73 L457.0,237.71 L458.0,237.70 L459.0,237.68 L460.0,237.67 L461.0,237.65 L462.0,237.64 L463.0,237.63 L464.0,237.62 L465.0,237.61 L466.0,237.61 L467.0,237.60 L468.0,237.60 L469.0,237.60 L470.0,237.60 L471.0,237.60 L472.0,237.60 L473.0,237.61 L474.0,237.61 L475.0,237.61 L476.0,237.62 L477.0,237.62 L478.0,237.63 L479.0,237.63 L480.0,237.64 L481.0,237.65 L482.0,237.65 L483.0,237.66 L484.0,237.67 L485.0,237.68 L486.0,237.69 L487.0,237.69 L488.0,237.70 L489.0,237.71 L490.0,237.72 L491.0,237.73 L492.0,237.74 L493.0,237.75 L494.0,237.76 L495.0,237.77 L496.0,237.78 L497.0,237.79 L498.0,237.80 L499.0,237.81 L500.0,237.82 L501.0,237.83 L502.0,237.85 L503.0,237.86 L504.0,237.88 L505.0,237.89 L506.0,237.91 L507.0,237.92 L508.0,237.94 L509.0,237.96 L510.0,237.98 L511.0,238.00 L512.0,238.02 L513.0,238.04 L514.0,238.06 L515.0,238.08 L516.0,238.10 L517.0,238.12 L518.0,238.14 L519.0,238.16 L520.0,238.19 L521.0,238.21 L522.0,238.23 L523.0,238.25 L524.0,238.28 L525.0,238.30 L526.0,238.32 L527.0,238.34 L528.0,238.36 L529.0,238.39 L530.0,238.41 L531.0,238.43 L532.0,238.45 L533.0,238.47 L534.0,238.49 L535.0,238.51 L536.0,238.53 L537.0,238.55 L538.0,238.57 L539.0,238.58 L540.0,238.60 L541.0,238.62 L542.0,238.63 L543.0,238.65 L544.0,238.66 L545.0,238.68 L546.0,238.70 L547.0,238.71 L548.0,238.73 L549.0,238.74 L550.0,238.75 L551.0,238.77 L552.0,238.78 L553.0,238.80 L554.0,238.81 L555.0,238.83 L556.0,238.84 L557.0,238.85 L558.0,238.87 L559.0,238.88 L560.0,238.89 L561.0,238.91 L562.0,238.92 L563.0,238.93 L564.0,238.95 L565.0,238.96 L566.0,238.97 L567.0,238.99 L568.0,239.00 L569.0,239.01 L570.0,239.03 L571.0,239.04 L572.0,239.05 L573.0,239.07 L574.0,239.08 L575.0,239.09 L576.0,239.11 L577.0,239.12 L578.0,239.13 L579.0,239.15 L580.0,239.16 L581.0,239.18 L582.0,239.19 L583.0,239.21 L584.0,239.22 L585.0,239.24 L586.0,239.25 L587.0,239.27 L588.0,239.28 L589.0,239.30 L590.0,239.32 L591.0,239.33 L592.0,239.35 L593.0,239.37 L594.0,239.38 L595.0,239.40 L596.0,239.42 L597.0,239.44 L598.0,239.45 L599.0,239.47 L600.0,239.49 L601.0,239.51 L602.0,239.53 L603.0,239.55 L604.0,239.57 L605.0,239.59 L606.0,239.61 L607.0,239.63 L608.0,239.65 L609.0,239.67 L610.0,239.69 L611.0,239.71 L612.0,239.73 L613.0,239.76 L614.0,239.78 L615.0,239.80 L616.0,239.82 L617.0,239.84 L618.0,239.87 L619.0,239.89 L620.0,239.91 L621.0,239.94 L622.0,239.96 L623.0,239.98 L624.0,240.01 L625.0,240.03 L626.0,240.05 L627.0,240.08 L628.0,240.10 L629.0,240.13 L630.0,240.15 L631.0,240.17 L632.0,240.20 L633.0,240.22 L634.0,240.25 L635.0,240.27 L636.0,240.30 L637.0,240.32 L638.0,240.35 L639.0,240.37 L640.0,240.40 L641.0,240.43 L642.0,240.45 L643.0,240.48 L644.0,240.50 L645.0,240.53 L646.0,240.56 L647.0,240.59 L648.0,240.61 L649.0,240.64 L650.0,240.67 L651.0,240.70 L652.0,240.72 L653.0,240.75 L654.0,240.78 L655.0,240.81 L656.0,240.84 L657.0,240.87 L658.0,240.90 L659.0,240.93 L660.0,240.96 L661.0,240.99 L662.0,241.02 L663.0,241.05 L664.0,241.08 L665.0,241.11 L666.0,241.14 L667.0,241.18 L668.0,241.21 L669.0,241.24 L670.0,241.27 L671.0,241.30 L672.0,241.34 L673.0,241.37 L674.0,241.40 L675.0,241.43 L676.0,241.47 L677.0,241.50 L678.0,241.53 L679.0,241.57 L679.0,249.78 L678.0,249.75 L677.0,249.73 L676.0,249.71 L675.0,249.69 L674.0,249.66 L673.0,249.64 L672.0,249.61 L671.0,249.59 L670.0,249.57 L669.0,249.54 L668.0,249.52 L667.0,249.49 L666.0,249.47 L665.0,249.44 L664.0,249.42 L663.0,249.39 L662.0,249.37 L661.0,249.34 L660.0,249.32 L659.0,249.29 L658.0,249.26 L657.0,249.24 L656.0,249.21 L655.0,249.18 L654.0,249.16 L653.0,249.13 L652.0,249.10 L651.0,249.07 L650.0,249.04 L649.0,249.02 L648.0,248.99 L647.0,248.96 L646.0,248.93 L645.0,248.90 L644.0,248.87 L643.0,248.84 L642.0,248.81 L641.0,248.78 L640.0,248.75 L639.0,248.72 L638.0,248.68 L637.0,248.65 L636.0,248.62 L635.0,248.59 L634.0,248.55 L633.0,248.52 L632.0,248.49 L631.0,248.45 L630.0,248.42 L629.0,248.38 L628.0,248.35 L627.0,248.31 L626.0,248.28 L625.0,248.24 L624.0,248.21 L623.0,248.17 L622.0,248.14 L621.0,248.10 L620.0,248.06 L619.0,248.03 L618.0,247.99 L617.0,247.95 L616.0,247.91 L615.0,247.88 L614.0,247.84 L613.0,247.80 L612.0,247.76 L611.0,247.72 L610.0,247.69 L609.0,247.65 L608.0,247.61 L607.0,247.57 L606.0,247.53 L605.0,247.49 L604.0,247.46 L603.0,247.42 L602.0,247.38 L601.0,247.34 L600.0,247.30 L599.0,247.26 L598.0,247.22 L597.0,247.18 L596.0,247.14 L595.0,247.10 L594.0,247.07 L593.0,247.03 L592.0,246.99 L591.0,246.95 L590.0,246.91 L589.0,246.87 L588.0,246.83 L587.0,246.79 L586.0,246.75 L585.0,246.72 L584.0,246.68 L583.0,246.64 L582.0,246.60 L581.0,246.56 L580.0,246.52 L579.0,246.49 L578.0,246.45 L577.0,246.41 L576.0,246.37 L575.0,246.34 L574.0,246.30 L573.0,246.26 L572.0,246.23 L571.0,246.19 L570.0,246.15 L569.0,246.12 L568.0,246.08 L567.0,246.04 L566.0,246.01 L565.0,245.97 L564.0,245.94 L563.0,245.90 L562.0,245.87 L561.0,245.83 L560.0,245.80 L559.0,245.77 L558.0,245.73 L557.0,245.70 L556.0,245.66 L555.0,245.63 L554.0,245.59 L553.0,245.56 L552.0,245.52 L551.0,245.49 L550.0,245.45 L549.0,245.42 L548.0,245.38 L547.0,245.35 L546.0,245.31 L545.0,245.28 L544.0,245.24 L543.0,245.21 L542.0,245.17 L541.0,245.14 L540.0,245.10 L539.0,245.07 L538.0,245.03 L537.0,245.00 L536.0,244.96 L535.0,244.93 L534.0,244.90 L533.0,244.86 L532.0,244.83 L531.0,244.80 L530.0,244.76 L529.0,244.73 L528.0,244.70 L527.0,244.67 L526.0,244.64 L525.0,244.61 L524.0,244.58 L523.0,244.55 L522.0,244.52 L521.0,244.49 L520.0,244.46 L519.0,244.43 L518.0,244.40 L517.0,244.37 L516.0,244.35 L515.0,244.32 L514.0,244.30 L513.0,244.27 L512.0,244.25 L511.0,244.22 L510.0,244.20 L509.0,244.18 L508.0,244.15 L507.0,244.13 L506.0,244.11 L505.0,244.08 L504.0,244.06 L503.0,244.03 L502.0,244.01 L501.0,243.98 L500.0,243.96 L499.0,243.93 L498.0,243.91 L497.0,243.89 L496.0,243.86 L495.0,243.84 L494.0,243.82 L493.0,243.80 L492.0,243.77 L491.0,243.75 L490.0,243.74 L489.0,243.72 L488.0,243.70 L487.0,243.68 L486.0,243.67 L485.0,243.66 L484.0,243.64 L483.0,243.63 L482.0,243.62 L481.0,243.61 L480.0,243.61 L479.0,243.60 L478.0,243.60 L477.0,243.60 L476.0,243.60 L475.0,243.60 L474.0,243.60 L473.0,243.60 L472.0,243.60 L471.0,243.60 L470.0,243.60 L469.0,243.60 L468.0,243.60 L467.0,243.60 L466.0,243.60 L465.0,243.60 L464.0,243.60 L463.0,243.60 L462.0,243.60 L461.0,243.60 L460.0,243.60 L459.0,243.60 L458.0,243.60 L457.0,243.60 L456.0,243.60 L455.0,243.60 L454.0,243.60 L453.0,243.60 L452.0,243.60 L451.0,243.60 L450.0,243.60 L449.0,243.60 L448.0,243.60 L447.0,243.60 L446.0,243.62 L445.0,243.63 L444.0,243.66 L443.0,243.69 L442.0,243.73 L441.0,243.77 L440.0,243.82 L439.0,243.87 L438.0,243.92 L437.0,243.98 L436.0,244.04 L435.0,244.10 L434.0,244.16 L433.0,244.22 L432.0,244.29 L431.0,244.35 L430.0,244.43 L429.0,244.51 L428.0,244.61 L427.0,244.71 L426.0,244.82 L425.0,244.94 L424.0,245.06 L423.0,245.20 L422.0,245.35 L421.0,245.52 L420.0,245.71 L419.0,245.92 L418.0,246.14 L417.0,246.38 L416.0,246.64 L415.0,246.91 L414.0,247.19 L413.0,247.51 L412.0,247.86 L411.0,248.25 L410.0,248.67 L409.0,249.09 L408.0,249.53 L407.0,249.97 L406.0,250.39 L405.0,250.81 L404.0,251.27 L403.0,251.75 L402.0,252.24 L401.0,252.73 L400.0,253.19 L399.0,253.61 L398.0,253.97 L397.0,254.25 L396.0,254.48 L395.0,254.69 L394.0,254.89 L393.0,255.08 L392.0,255.23 L391.0,255.36 L390.0,255.45 L389.0,255.50 Z" fill="#6ea596" stroke="#6ea596" stroke-width="0.3"/>
<path d="M389.0,253.10 L390.0,252.94 L391.0,252.73 L392.0,252.48 L393.0,252.20 L394.0,251.86 L395.0,251.44 L396.0,250.98 L397.0,250.50 L398.0,249.98 L399.0,249.42 L400.0,248.85 L401.0,248.30 L402.0,247.79 L403.0,247.30 L404.0,246.82 L405.0,246.34 L406.0,245.85 L407.0,245.35 L408.0,244.85 L409.0,244.37 L410.0,243.90 L411.0,243.46 L412.0,243.03 L413.0,242.61 L414.0,242.22 L415.0,241.83 L416.0,241.44 L417.0,241.09 L418.0,240.80 L419.0,240.58 L420.0,240.39 L421.0,240.22 L422.0,240.06 L423.0,239.90 L424.0,239.74 L425.0,239.58 L426.0,239.43 L427.0,239.30 L428.0,239.18 L429.0,239.07 L430.0,238.96 L431.0,238.87 L432.0,238.78 L433.0,238.71 L434.0,238.64 L435.0,238.58 L436.0,238.52 L437.0,238.46 L438.0,238.40 L439.0,238.34 L440.0,238.28 L441.0,238.22 L442.0,238.16 L443.0,238.11 L444.0,238.06 L445.0,238.01 L446.0,237.96 L447.0,237.93 L448.0,237.90 L449.0,237.88 L450.0,237.85 L451.0,237.83 L452.0,237.81 L453.0,237.79 L454.0,237.77 L455.0,237.75 L456.0,237.73 L457.0,237.71 L458.0,237.70 L459.0,237.68 L460.0,237.67 L461.0,237.65 L462.0,237.64 L463.0,237.63 L464.0,237.62 L465.0,237.61 L466.0,237.61 L467.0,237.60 L468.0,237.60 L469.0,237.60 L470.0,237.60 L471.0,237.60 L472.0,237.60 L473.0,237.61 L474.0,237.61 L475.0,237.61 L476.0,237.62 L477.0,237.62 L478.0,237.63 L479.0,237.63 L480.0,237.64 L481.0,237.65 L482.0,237.65 L483.0,237.66 L484.0,237.67 L485.0,237.68 L486.0,237.69 L487.0,237.69 L488.0,237.70 L489.0,237.71 L490.0,237.72 L491.0,237.73 L492.0,237.74 L493.0,237.75 L494.0,237.76 L495.0,237.77 L496.0,237.78 L497.0,237.79 L498.0,237.80 L499.0,237.81 L500.0,237.82 L501.0,237.83 L502.0,237.85 L503.0,237.86 L504.0,237.88 L505.0,237.89 L506.0,237.91 L507.0,237.92 L508.0,237.94 L509.0,237.96 L510.0,237.98 L511.0,238.00 L512.0,238.02 L513.0,238.04 L514.0,238.06 L515.0,238.08 L516.0,238.10 L517.0,238.12 L518.0,238.14 L519.0,238.16 L520.0,238.19 L521.0,238.21 L522.0,238.23 L523.0,238.25 L524.0,238.28 L525.0,238.30 L526.0,238.32 L527.0,238.34 L528.0,238.36 L529.0,238.39 L530.0,238.41 L531.0,238.43 L532.0,238.45 L533.0,238.47 L534.0,238.49 L535.0,238.51 L536.0,238.53 L537.0,238.55 L538.0,238.57 L539.0,238.58 L540.0,238.60 L541.0,238.62 L542.0,238.63 L543.0,238.65 L544.0,238.66 L545.0,238.68 L546.0,238.70 L547.0,238.71 L548.0,238.73 L549.0,238.74 L550.0,238.75 L551.0,238.77 L552.0,238.78 L553.0,238.80 L554.0,238.81 L555.0,238.83 L556.0,238.84 L557.0,238.85 L558.0,238.87 L559.0,238.88 L560.0,238.89 L561.0,238.91 L562.0,238.92 L563.0,238.93 L564.0,238.95 L565.0,238.96 L566.0,238.97 L567.0,238.99 L568.0,239.00 L569.0,239.01 L570.0,239.03 L571.0,239.04 L572.0,239.05 L573.0,239.07 L574.0,239.08 L575.0,239.09 L576.0,239.11 L577.0,239.12 L578.0,239.13 L579.0,239.15 L580.0,239.16 L581.0,239.18 L582.0,239.19 L583.0,239.21 L584.0,239.22 L585.0,239.24 L586.0,239.25 L587.0,239.27 L588.0,239.28 L589.0,239.30 L590.0,239.32 L591.0,239.33 L592.0,239.35 L593.0,239.37 L594.0,239.38 L595.0,239.40 L596.0,239.42 L597.0,239.44 L598.0,239.45 L599.0,239.47 L600.0,239.49 L601.0,239.51 L602.0,239.53 L603.0,239.55 L604.0,239.57 L605.0,239.59 L606.0,239.61 L607.0,239.63 L608.0,239.65 L609.0,239.67 L610.0,239.69 L611.0,239.71 L612.0,239.73 L613.0,239.76 L614.0,239.78 L615.0,239.80 L616.0,239.82 L617.0,239.84 L618.0,239.87 L619.0,239.89 L620.0,239.91 L621.0,239.94 L622.0,239.96 L623.0,239.98 L624.0,240.01 L625.0,240.03 L626.0,240.05 L627.0,240.08 L628.0,240.10 L629.0,240.13 L630.0,240.15 L631.0,240.17 L632.0,240.20 L633.0,240.22 L634.0,240.25 L635.0,240.27 L636.0,240.30 L637.0,240.32 L638.0,240.35 L639.0,240.37 L640.0,240.40 L641.0,240.43 L642.0,240.45 L643.0,240.48 L644.0,240.50 L645.0,240.53 L646.0,240.56 L647.0,240.59 L648.0,240.61 L649.0,240.64 L650.0,240.67 L651.0,240.70 L652.0,240.72 L653.0,240.75 L654.0,240.78 L655.0,240.81 L656.0,240.84 L657.0,240.87 L658.0,240.90 L659.0,240.93 L660.0,240.96 L661.0,240.99 L662.0,241.02 L663.0,241.05 L664.0,241.08 L665.0,241.11 L666.0,241.14 L667.0,241.18 L668.0,241.21 L669.0,241.24 L670.0,241.27 L671.0,241.30 L672.0,241.34 L673.0,241.37 L674.0,241.40 L675.0,241.43 L676.0,241.47 L677.0,241.50 L678.0,241.53 L679.0,241.57 L679.0,249.78 L678.0,249.75 L677.0,249.73 L676.0,249.71 L675.0,249.69 L674.0,249.66 L673.0,249.64 L672.0,249.61 L671.0,249.59 L670.0,249.57 L669.0,249.54 L668.0,249.52 L667.0,249.49 L666.0,249.47 L665.0,249.44 L664.0,249.42 L663.0,249.39 L662.0,249.37 L661.0,249.34 L660.0,249.32 L659.0,249.29 L658.0,249.26 L657.0,249.24 L656.0,249.21 L655.0,249.18 L654.0,249.16 L653.0,249.13 L652.0,249.10 L651.0,249.07 L650.0,249.04 L649.0,249.02 L648.0,248.99 L647.0,248.96 L646.0,248.93 L645.0,248.90 L644.0,248.87 L643.0,248.84 L642.0,248.81 L641.0,248.78 L640.0,248.75 L639.0,248.72 L638.0,248.68 L637.0,248.65 L636.0,248.62 L635.0,248.59 L634.0,248.55 L633.0,248.52 L632.0,248.49 L631.0,248.45 L630.0,248.42 L629.0,248.38 L628.0,248.35 L627.0,248.31 L626.0,248.28 L625.0,248.24 L624.0,248.21 L623.0,248.17 L622.0,248.14 L621.0,248.10 L620.0,248.06 L619.0,248.03 L618.0,247.99 L617.0,247.95 L616.0,247.91 L615.0,247.88 L614.0,247.84 L613.0,247.80 L612.0,247.76 L611.0,247.72 L610.0,247.69 L609.0,247.65 L608.0,247.61 L607.0,247.57 L606.0,247.53 L605.0,247.49 L604.0,247.46 L603.0,247.42 L602.0,247.38 L601.0,247.34 L600.0,247.30 L599.0,247.26 L598.0,247.22 L597.0,247.18 L596.0,247.14 L595.0,247.10 L594.0,247.07 L593.0,247.03 L592.0,246.99 L591.0,246.95 L590.0,246.91 L589.0,246.87 L588.0,246.83 L587.0,246.79 L586.0,246.75 L585.0,246.72 L584.0,246.68 L583.0,246.64 L582.0,246.60 L581.0,246.56 L580.0,246.52 L579.0,246.49 L578.0,246.45 L577.0,246.41 L576.0,246.37 L575.0,246.34 L574.0,246.30 L573.0,246.26 L572.0,246.23 L571.0,246.19 L570.0,246.15 L569.0,246.12 L568.0,246.08 L567.0,246.04 L566.0,246.01 L565.0,245.97 L564.0,245.94 L563.0,245.90 L562.0,245.87 L561.0,245.83 L560.0,245.80 L559.0,245.77 L558.0,245.73 L557.0,245.70 L556.0,245.66 L555.0,245.63 L554.0,245.59 L553.0,245.56 L552.0,245.52 L551.0,245.49 L550.0,245.45 L549.0,245.42 L548.0,245.38 L547.0,245.35 L546.0,245.31 L545.0,245.28 L544.0,245.24 L543.0,245.21 L542.0,245.17 L541.0,245.14 L540.0,245.10 L539.0,245.07 L538.0,245.03 L537.0,245.00 L536.0,244.96 L535.0,244.93 L534.0,244.90 L533.0,244.86 L532.0,244.83 L531.0,244.80 L530.0,244.76 L529.0,244.73 L528.0,244.70 L527.0,244.67 L526.0,244.64 L525.0,244.61 L524.0,244.58 L523.0,244.55 L522.0,244.52 L521.0,244.49 L520.0,244.46 L519.0,244.43 L518.0,244.40 L517.0,244.37 L516.0,244.35 L515.0,244.32 L514.0,244.30 L513.0,244.27 L512.0,244.25 L511.0,244.22 L510.0,244.20 L509.0,244.18 L508.0,244.15 L507.0,244.13 L506.0,244.11 L505.0,244.08 L504.0,244.06 L503.0,244.03 L502.0,244.01 L501.0,243.98 L500.0,243.96 L499.0,243.93 L498.0,243.91 L497.0,243.89 L496.0,243.86 L495.0,243.84 L494.0,243.82 L493.0,243.80 L492.0,243.77 L491.0,243.75 L490.0,243.74 L489.0,243.72 L488.0,243.70 L487.0,243.68 L486.0,243.67 L485.0,243.66 L484.0,243.64 L483.0,243.63 L482.0,243.62 L481.0,243.61 L480.0,243.61 L479.0,243.60 L478.0,243.60 L477.0,243.60 L476.0,243.60 L475.0,243.60 L474.0,243.60 L473.0,243.60 L472.0,243.60 L471.0,243.60 L470.0,243.60 L469.0,243.60 L468.0,243.60 L467.0,243.60 L466.0,243.60 L465.0,243.60 L464.0,243.60 L463.0,243.60 L462.0,243.60 L461.0,243.60 L460.0,243.60 L459.0,243.60 L458.0,243.60 L457.0,243.60 L456.0,243.60 L455.0,243.60 L454.0,243.60 L453.0,243.60 L452.0,243.60 L451.0,243.60 L450.0,243.60 L449.0,243.60 L448.0,243.60 L447.0,243.60 L446.0,243.62 L445.0,243.63 L444.0,243.66 L443.0,243.69 L442.0,243.73 L441.0,243.77 L440.0,243.82 L439.0,243.87 L438.0,243.92 L437.0,243.98 L436.0,244.04 L435.0,243.99 L434.0,243.91 L433.0,243.80 L432.0,243.66 L431.0,243.45 L430.0,243.18 L429.0,242.81 L428.0,242.33 L427.0,241.74 L426.0,241.00 L425.0,239.58 L424.0,239.74 L423.0,239.90 L422.0,240.06 L421.0,240.22 L420.0,240.39 L419.0,240.58 L418.0,240.80 L417.0,241.09 L416.0,241.44 L415.0,241.83 L414.0,242.22 L413.0,242.61 L412.0,243.03 L411.0,243.46 L410.0,243.90 L409.0,244.37 L408.0,244.85 L407.0,245.35 L406.0,245.85 L405.0,246.34 L404.0,246.82 L403.0,247.30 L402.0,247.79 L401.0,248.30 L400.0,248.85 L399.0,249.42 L398.0,249.98 L397.0,250.50 L396.0,250.98 L395.0,251.44 L394.0,251.86 L393.0,252.20 L392.0,252.48 L391.0,252.73 L390.0,252.94 L389.0,253.10 Z" fill="#91aa6e" stroke="#91aa6e" stroke-width="0.3"/>
<path d="M389.0,200.50 L390.0,201.99 L391.0,202.99 L392.0,203.40 L393.0,203.17 L394.0,202.54 L395.0,201.76 L396.0,200.87 L397.0,199.70 L398.0,198.37 L399.0,197.01 L400.0,195.74 L401.0,194.63 L402.0,193.54 L403.0,192.48 L404.0,191.46 L405.0,190.51 L406.0,189.63 L407.0,188.83 L408.0,188.07 L409.0,187.35 L410.0,186.68 L411.0,186.06 L412.0,185.50 L413.0,185.01 L414.0,184.55 L415.0,184.11 L416.0,183.70 L417.0,183.32 L418.0,182.97 L419.0,182.65 L420.0,182.37 L421.0,182.13 L422.0,181.91 L423.0,181.70 L424.0,181.50 L425.0,181.32 L426.0,181.15 L427.0,180.99 L428.0,180.84 L429.0,180.72 L430.0,180.60 L431.0,180.50 L432.0,180.41 L433.0,180.32 L434.0,180.23 L435.0,180.15 L436.0,180.07 L437.0,180.00 L438.0,179.92 L439.0,179.86 L440.0,179.79 L441.0,179.74 L442.0,179.68 L443.0,179.64 L444.0,179.59 L445.0,179.56 L446.0,179.53 L447.0,179.51 L448.0,179.49 L449.0,179.47 L450.0,179.46 L451.0,179.44 L452.0,179.42 L453.0,179.41 L454.0,179.40 L455.0,179.38 L456.0,179.37 L457.0,179.36 L458.0,179.35 L459.0,179.34 L460.0,179.33 L461.0,179.32 L462.0,179.32 L463.0,179.31 L464.0,179.31 L465.0,179.30 L466.0,179.30 L467.0,179.30 L468.0,179.30 L469.0,179.30 L470.0,179.31 L471.0,179.33 L472.0,179.34 L473.0,179.37 L474.0,179.39 L475.0,179.42 L476.0,179.45 L477.0,179.48 L478.0,179.52 L479.0,179.55 L480.0,179.59 L481.0,179.63 L482.0,179.67 L483.0,179.71 L484.0,179.75 L485.0,179.78 L486.0,179.82 L487.0,179.86 L488.0,179.89 L489.0,179.93 L490.0,179.96 L491.0,180.00 L492.0,180.04 L493.0,180.07 L494.0,180.11 L495.0,180.15 L496.0,180.19 L497.0,180.23 L498.0,180.27 L499.0,180.32 L500.0,180.36 L501.0,180.40 L502.0,180.44 L503.0,180.48 L504.0,180.52 L505.0,180.56 L506.0,180.60 L507.0,180.64 L508.0,180.68 L509.0,180.71 L510.0,180.75 L511.0,180.79 L512.0,180.83 L513.0,180.86 L514.0,180.90 L515.0,180.94 L516.0,180.97 L517.0,181.01 L518.0,181.04 L519.0,181.08 L520.0,181.12 L521.0,181.15 L522.0,181.19 L523.0,181.22 L524.0,181.26 L525.0,181.29 L526.0,181.33 L527.0,181.37 L528.0,181.40 L529.0,181.44 L530.0,181.47 L531.0,181.51 L532.0,181.54 L533.0,181.57 L534.0,181.61 L535.0,181.64 L536.0,181.68 L537.0,181.71 L538.0,181.75 L539.0,181.78 L540.0,181.82 L541.0,181.85 L542.0,181.89 L543.0,181.92 L544.0,181.95 L545.0,181.99 L546.0,182.02 L547.0,182.06 L548.0,182.09 L549.0,182.12 L550.0,182.16 L551.0,182.19 L552.0,182.23 L553.0,182.26 L554.0,182.30 L555.0,182.33 L556.0,182.36 L557.0,182.40 L558.0,182.43 L559.0,182.47 L560.0,182.50 L561.0,182.53 L562.0,182.57 L563.0,182.60 L564.0,182.64 L565.0,182.67 L566.0,182.70 L567.0,182.74 L568.0,182.77 L569.0,182.80 L570.0,182.84 L571.0,182.87 L572.0,182.90 L573.0,182.94 L574.0,182.97 L575.0,183.00 L576.0,183.04 L577.0,183.07 L578.0,183.10 L579.0,183.14 L580.0,183.17 L581.0,183.20 L582.0,183.24 L583.0,183.27 L584.0,183.30 L585.0,183.34 L586.0,183.37 L587.0,183.40 L588.0,183.43 L589.0,183.47 L590.0,183.50 L591.0,183.53 L592.0,183.57 L593.0,183.60 L594.0,183.63 L595.0,183.66 L596.0,183.70 L597.0,183.73 L598.0,183.76 L599.0,183.80 L600.0,183.83 L601.0,183.86 L602.0,183.90 L603.0,183.93 L604.0,183.96 L605.0,184.00 L606.0,184.03 L607.0,184.06 L608.0,184.10 L609.0,184.13 L610.0,184.16 L611.0,184.20 L612.0,184.23 L613.0,184.26 L614.0,184.30 L615.0,184.33 L616.0,184.36 L617.0,184.40 L618.0,184.43 L619.0,184.47 L620.0,184.50 L621.0,184.53 L622.0,184.57 L623.0,184.60 L624.0,184.64 L625.0,184.67 L626.0,184.71 L627.0,184.74 L628.0,184.77 L629.0,184.81 L630.0,184.84 L631.0,184.88 L632.0,184.91 L633.0,184.95 L634.0,184.98 L635.0,185.02 L636.0,185.05 L637.0,185.08 L638.0,185.12 L639.0,185.15 L640.0,185.19 L641.0,185.22 L642.0,185.26 L643.0,185.29 L644.0,185.33 L645.0,185.36 L646.0,185.40 L647.0,185.43 L648.0,185.47 L649.0,185.50 L650.0,185.54 L651.0,185.57 L652.0,185.61 L653.0,185.64 L654.0,185.68 L655.0,185.71 L656.0,185.75 L657.0,185.78 L658.0,185.82 L659.0,185.85 L660.0,185.89 L661.0,185.92 L662.0,185.96 L663.0,185.99 L664.0,186.03 L665.0,186.07 L666.0,186.10 L667.0,186.14 L668.0,186.17 L669.0,186.21 L670.0,186.24 L671.0,186.28 L672.0,186.31 L673.0,186.35 L674.0,186.39 L675.0,186.42 L676.0,186.46 L677.0,186.49 L678.0,186.53 L679.0,186.56" fill="none" stroke="#9d9fd2" stroke-width="0.8"/>
<path d="M389.0,280.30 L390.0,280.47 L391.0,280.63 L392.0,280.76 L393.0,280.87 L394.0,280.95 L395.0,280.99 L396.0,281.00 L397.0,280.99 L398.0,280.97 L399.0,280.95 L400.0,280.92 L401.0,280.89 L402.0,280.84 L403.0,280.78 L404.0,280.70 L405.0,280.62 L406.0,280.52 L407.0,280.41 L408.0,280.30 L409.0,280.19 L410.0,280.07 L411.0,279.95 L412.0,279.83 L413.0,279.72 L414.0,279.61 L415.0,279.48 L416.0,279.34 L417.0,279.20 L418.0,279.05 L419.0,278.90 L420.0,278.75 L421.0,278.61 L422.0,278.47 L423.0,278.35" fill="none" stroke="#a283c0" stroke-width="0.9"/>
<path d="M423.0,278.35 L424.0,278.24 L425.0,278.16 L426.0,278.09 L427.0,278.03 L428.0,277.98 L429.0,277.93 L430.0,277.89 L431.0,277.85 L432.0,277.81 L433.0,277.78 L434.0,277.74 L435.0,277.71 L436.0,277.68 L437.0,277.65 L438.0,277.61 L439.0,277.58 L440.0,277.54 L441.0,277.50 L442.0,277.46 L443.0,277.42 L444.0,277.38 L445.0,277.35 L446.0,277.32 L447.0,277.31 L448.0,277.30 L449.0,277.30 L450.0,277.30 L451.0,277.30 L452.0,277.30 L453.0,277.30 L454.0,277.30 L455.0,277.30 L456.0,277.30 L457.0,277.30 L458.0,277.30 L459.0,277.30 L460.0,277.30 L461.0,277.30 L462.0,277.30 L463.0,277.30 L464.0,277.30 L465.0,277.30 L466.0,277.30 L467.0,277.30 L468.0,277.30 L469.0,277.30 L470.0,277.30 L471.0,277.30 L472.0,277.30 L473.0,277.30 L474.0,277.30 L475.0,277.30 L476.0,277.30 L477.0,277.30 L478.0,277.30 L479.0,277.30 L480.0,277.30 L481.0,277.30 L482.0,277.30 L483.0,277.30 L484.0,277.30 L485.0,277.30 L486.0,277.30 L487.0,277.30 L488.0,277.30 L489.0,277.30 L490.0,277.30 L491.0,277.30 L492.0,277.30 L493.0,277.30 L494.0,277.30 L495.0,277.30 L496.0,277.30 L497.0,277.30 L498.0,277.30 L499.0,277.30 L500.0,277.30 L501.0,277.30 L502.0,277.30 L503.0,277.30 L504.0,277.30 L505.0,277.30 L506.0,277.30 L507.0,277.30 L508.0,277.30 L509.0,277.31 L510.0,277.32 L511.0,277.33 L512.0,277.34 L513.0,277.35 L514.0,277.36 L515.0,277.38 L516.0,277.40 L517.0,277.41 L518.0,277.43 L519.0,277.46 L520.0,277.48 L521.0,277.50 L522.0,277.53 L523.0,277.56 L524.0,277.58 L525.0,277.61 L526.0,277.64 L527.0,277.67 L528.0,277.70 L529.0,277.74 L530.0,277.77 L531.0,277.80 L532.0,277.84 L533.0,277.87 L534.0,277.91 L535.0,277.94 L536.0,277.98 L537.0,278.02 L538.0,278.05 L539.0,278.09 L540.0,278.13 L541.0,278.16 L542.0,278.20 L543.0,278.24 L544.0,278.27 L545.0,278.31 L546.0,278.35 L547.0,278.38 L548.0,278.42 L549.0,278.45 L550.0,278.49 L551.0,278.52 L552.0,278.56 L553.0,278.59 L554.0,278.62 L555.0,278.66 L556.0,278.69 L557.0,278.72 L558.0,278.75 L559.0,278.77 L560.0,278.80 L561.0,278.83 L562.0,278.85 L563.0,278.88 L564.0,278.90 L565.0,278.93 L566.0,278.96 L567.0,278.98 L568.0,279.01 L569.0,279.03 L570.0,279.06 L571.0,279.08 L572.0,279.11 L573.0,279.14 L574.0,279.16 L575.0,279.19 L576.0,279.21 L577.0,279.24 L578.0,279.26 L579.0,279.29 L580.0,279.31 L581.0,279.34 L582.0,279.36 L583.0,279.39 L584.0,279.41 L585.0,279.44 L586.0,279.46 L587.0,279.49 L588.0,279.51 L589.0,279.54 L590.0,279.56 L591.0,279.58 L592.0,279.61 L593.0,279.63 L594.0,279.66 L595.0,279.68 L596.0,279.71 L597.0,279.73 L598.0,279.76 L599.0,279.78 L600.0,279.81 L601.0,279.83 L602.0,279.86 L603.0,279.88 L604.0,279.90 L605.0,279.93 L606.0,279.95 L607.0,279.98 L608.0,280.00 L609.0,280.03 L610.0,280.05 L611.0,280.08 L612.0,280.10 L613.0,280.13 L614.0,280.15 L615.0,280.18 L616.0,280.20 L617.0,280.23 L618.0,280.25 L619.0,280.28 L620.0,280.30 L621.0,280.32 L622.0,280.35 L623.0,280.38 L624.0,280.40 L625.0,280.43 L626.0,280.45 L627.0,280.48 L628.0,280.50 L629.0,280.53 L630.0,280.55 L631.0,280.57 L632.0,280.60 L633.0,280.62 L634.0,280.65 L635.0,280.68 L636.0,280.70 L637.0,280.73 L638.0,280.75 L639.0,280.78 L640.0,280.80 L641.0,280.82 L642.0,280.85 L643.0,280.88 L644.0,280.90 L645.0,280.93 L646.0,280.95 L647.0,280.98 L648.0,281.00 L649.0,281.03 L650.0,281.05 L651.0,281.07 L652.0,281.10 L653.0,281.12 L654.0,281.15 L655.0,281.18 L656.0,281.20 L657.0,281.23 L658.0,281.25 L659.0,281.28 L660.0,281.30 L661.0,281.32 L662.0,281.35 L663.0,281.38 L664.0,281.40 L665.0,281.43 L666.0,281.45 L667.0,281.48 L668.0,281.50 L669.0,281.53 L670.0,281.55 L671.0,281.57 L672.0,281.60 L673.0,281.62 L674.0,281.65 L675.0,281.68 L676.0,281.70 L677.0,281.73 L678.0,281.75 L679.0,281.78" fill="none" stroke="#9d9fd2" stroke-width="0.8"/>
<path d="M389.0,299.80 L390.0,299.91 L391.0,299.99 L392.0,300.05 L393.0,300.08 L394.0,300.10 L395.0,300.09 L396.0,300.06 L397.0,300.00 L398.0,299.91 L399.0,299.81 L400.0,299.68 L401.0,299.53 L402.0,299.20 L403.0,298.73 L404.0,298.15 L405.0,297.44 L406.0,296.42 L407.0,295.29 L408.0,294.05 L409.0,292.70 L410.0,291.33 L411.0,290.01 L412.0,288.68 L413.0,287.35 L414.0,286.06 L415.0,284.86 L416.0,283.80 L417.0,282.83 L418.0,281.93 L419.0,281.09 L420.0,280.30 L421.0,279.55 L422.0,278.83 L423.0,278.15 L424.0,277.51 L425.0,276.92 L426.0,276.40 L427.0,275.94 L428.0,275.52 L429.0,275.13 L430.0,274.76 L431.0,274.40 L432.0,274.04 L433.0,273.66 L434.0,273.29 L435.0,272.92 L436.0,272.56 L437.0,272.23 L438.0,271.92 L439.0,271.63 L440.0,271.37 L441.0,271.11 L442.0,270.86 L443.0,270.63 L444.0,270.40 L445.0,270.19 L446.0,269.98 L447.0,269.79 L448.0,269.60 L449.0,269.42 L450.0,269.24 L451.0,269.07 L452.0,268.89 L453.0,268.72 L454.0,268.56 L455.0,268.39 L456.0,268.23 L457.0,268.07 L458.0,267.91 L459.0,267.76 L460.0,267.61 L461.0,267.46 L462.0,267.32 L463.0,267.18 L464.0,267.04 L465.0,266.91 L466.0,266.78 L467.0,266.65 L468.0,266.53 L469.0,266.42 L470.0,266.30 L471.0,266.19 L472.0,266.09 L473.0,265.99 L474.0,265.89 L475.0,265.80 L476.0,265.71 L477.0,265.62 L478.0,265.53 L479.0,265.44 L480.0,265.36 L481.0,265.27 L482.0,265.18 L483.0,265.10 L484.0,265.01 L485.0,264.93 L486.0,264.85 L487.0,264.77 L488.0,264.69 L489.0,264.62 L490.0,264.55 L491.0,264.47 L492.0,264.41 L493.0,264.34 L494.0,264.28 L495.0,264.22 L496.0,264.16 L497.0,264.11 L498.0,264.06 L499.0,264.01 L500.0,263.97 L501.0,263.93 L502.0,263.89 L503.0,263.86 L504.0,263.84 L505.0,263.82 L506.0,263.80 L507.0,263.79 L508.0,263.77 L509.0,263.76 L510.0,263.74 L511.0,263.73 L512.0,263.72 L513.0,263.71 L514.0,263.69 L515.0,263.68 L516.0,263.67 L517.0,263.66 L518.0,263.65 L519.0,263.63 L520.0,263.62 L521.0,263.61 L522.0,263.60 L523.0,263.59 L524.0,263.58 L525.0,263.57 L526.0,263.56 L527.0,263.55 L528.0,263.54 L529.0,263.54 L530.0,263.53 L531.0,263.52 L532.0,263.51 L533.0,263.50 L534.0,263.50 L535.0,263.49 L536.0,263.48 L537.0,263.48 L538.0,263.47 L539.0,263.46 L540.0,263.46 L541.0,263.45 L542.0,263.45 L543.0,263.44 L544.0,263.44 L545.0,263.43 L546.0,263.43 L547.0,263.42 L548.0,263.42 L549.0,263.42 L550.0,263.41 L551.0,263.41 L552.0,263.41 L553.0,263.41 L554.0,263.41 L555.0,263.40 L556.0,263.40 L557.0,263.40 L558.0,263.40 L559.0,263.40 L560.0,263.40 L561.0,263.40 L562.0,263.40 L563.0,263.41 L564.0,263.41 L565.0,263.42 L566.0,263.42 L567.0,263.43 L568.0,263.44 L569.0,263.45 L570.0,263.46 L571.0,263.47 L572.0,263.49 L573.0,263.50 L574.0,263.52 L575.0,263.53 L576.0,263.55 L577.0,263.57 L578.0,263.59 L579.0,263.61 L580.0,263.63 L581.0,263.65 L582.0,263.67 L583.0,263.70 L584.0,263.72 L585.0,263.74 L586.0,263.77 L587.0,263.80 L588.0,263.82 L589.0,263.85 L590.0,263.88 L591.0,263.90 L592.0,263.93 L593.0,263.96 L594.0,263.99 L595.0,264.02 L596.0,264.05 L597.0,264.08 L598.0,264.11 L599.0,264.14 L600.0,264.17 L601.0,264.20 L602.0,264.23 L603.0,264.27 L604.0,264.30 L605.0,264.33 L606.0,264.36 L607.0,264.39 L608.0,264.42 L609.0,264.46 L610.0,264.49 L611.0,264.52 L612.0,264.55 L613.0,264.58 L614.0,264.62 L615.0,264.65 L616.0,264.68 L617.0,264.71 L618.0,264.74 L619.0,264.77 L620.0,264.80 L621.0,264.83 L622.0,264.86 L623.0,264.89 L624.0,264.92 L625.0,264.96 L626.0,264.99 L627.0,265.02 L628.0,265.05 L629.0,265.09 L630.0,265.12 L631.0,265.16 L632.0,265.19 L633.0,265.23 L634.0,265.26 L635.0,265.30 L636.0,265.34 L637.0,265.37 L638.0,265.41 L639.0,265.45 L640.0,265.49 L641.0,265.53 L642.0,265.57 L643.0,265.61 L644.0,265.65 L645.0,265.69 L646.0,265.73 L647.0,265.77 L648.0,265.81 L649.0,265.85 L650.0,265.89 L651.0,265.94 L652.0,265.98 L653.0,266.02 L654.0,266.07 L655.0,266.11 L656.0,266.15 L657.0,266.20 L658.0,266.24 L659.0,266.29 L660.0,266.33 L661.0,266.38 L662.0,266.42 L663.0,266.47 L664.0,266.52 L665.0,266.56 L666.0,266.61 L667.0,266.66 L668.0,266.71 L669.0,266.76 L670.0,266.80 L671.0,266.85 L672.0,266.90 L673.0,266.95 L674.0,267.00 L675.0,267.05 L676.0,267.10 L677.0,267.15 L678.0,267.20 L679.0,267.25" fill="none" stroke="#e25c78" stroke-width="1.3"/>
<path d="M389.0,270.20 L390.0,270.18 L391.0,270.14 L392.0,270.06 L393.0,269.96 L394.0,269.84 L395.0,269.70 L396.0,269.51 L397.0,269.09 L398.0,268.46 L399.0,267.70 L400.0,266.88 L401.0,266.06 L402.0,265.07 L403.0,263.98 L404.0,262.96 L405.0,262.12 L406.0,261.39 L407.0,260.70 L408.0,260.00 L409.0,259.26 L410.0,258.48 L411.0,257.71 L412.0,256.96 L413.0,256.27 L414.0,255.66 L415.0,255.14 L416.0,254.65 L417.0,254.18 L418.0,253.75 L419.0,253.34 L420.0,252.96 L421.0,252.61 L422.0,252.29 L423.0,252.00 L424.0,251.73 L425.0,251.48 L426.0,251.24 L427.0,251.02 L428.0,250.81 L429.0,250.62 L430.0,250.45 L431.0,250.30 L432.0,250.18 L433.0,250.06 L434.0,249.94 L435.0,249.82 L436.0,249.71 L437.0,249.60 L438.0,249.49 L439.0,249.39 L440.0,249.30 L441.0,249.21 L442.0,249.13 L443.0,249.07 L444.0,249.01 L445.0,248.96 L446.0,248.93 L447.0,248.91 L448.0,248.90 L449.0,248.90 L450.0,248.90 L451.0,248.90 L452.0,248.91 L453.0,248.91 L454.0,248.92 L455.0,248.92 L456.0,248.93 L457.0,248.94 L458.0,248.94 L459.0,248.95 L460.0,248.96 L461.0,248.97 L462.0,248.98 L463.0,248.99 L464.0,249.01 L465.0,249.02 L466.0,249.03 L467.0,249.04 L468.0,249.06 L469.0,249.07 L470.0,249.09 L471.0,249.10 L472.0,249.12 L473.0,249.13 L474.0,249.15 L475.0,249.17 L476.0,249.18 L477.0,249.20 L478.0,249.22 L479.0,249.24 L480.0,249.27 L481.0,249.30 L482.0,249.34 L483.0,249.37 L484.0,249.42 L485.0,249.46 L486.0,249.50 L487.0,249.55 L488.0,249.60 L489.0,249.65 L490.0,249.70 L491.0,249.75 L492.0,249.80 L493.0,249.86 L494.0,249.91 L495.0,249.96 L496.0,250.01 L497.0,250.06 L498.0,250.11 L499.0,250.16 L500.0,250.20 L501.0,250.24 L502.0,250.29 L503.0,250.33 L504.0,250.37 L505.0,250.41 L506.0,250.45 L507.0,250.49 L508.0,250.54 L509.0,250.58 L510.0,250.62 L511.0,250.66 L512.0,250.70 L513.0,250.74 L514.0,250.78 L515.0,250.82 L516.0,250.87 L517.0,250.91 L518.0,250.95 L519.0,250.99 L520.0,251.04 L521.0,251.08 L522.0,251.12 L523.0,251.17 L524.0,251.21 L525.0,251.26 L526.0,251.31 L527.0,251.35 L528.0,251.40 L529.0,251.45 L530.0,251.50 L531.0,251.55 L532.0,251.60 L533.0,251.66 L534.0,251.71 L535.0,251.77 L536.0,251.83 L537.0,251.89 L538.0,251.95 L539.0,252.01 L540.0,252.07 L541.0,252.13 L542.0,252.20 L543.0,252.26 L544.0,252.33 L545.0,252.39 L546.0,252.45 L547.0,252.52 L548.0,252.58 L549.0,252.65 L550.0,252.71 L551.0,252.77 L552.0,252.83 L553.0,252.90 L554.0,252.96 L555.0,253.02 L556.0,253.08 L557.0,253.13 L558.0,253.19 L559.0,253.25 L560.0,253.30 L561.0,253.35 L562.0,253.41 L563.0,253.46 L564.0,253.51 L565.0,253.56 L566.0,253.61 L567.0,253.67 L568.0,253.72 L569.0,253.77 L570.0,253.82 L571.0,253.87 L572.0,253.92 L573.0,253.97 L574.0,254.02 L575.0,254.07 L576.0,254.12 L577.0,254.17 L578.0,254.22 L579.0,254.27 L580.0,254.32 L581.0,254.37 L582.0,254.42 L583.0,254.47 L584.0,254.52 L585.0,254.57 L586.0,254.61 L587.0,254.66 L588.0,254.71 L589.0,254.76 L590.0,254.80 L591.0,254.85 L592.0,254.90 L593.0,254.95 L594.0,254.99 L595.0,255.04 L596.0,255.09 L597.0,255.13 L598.0,255.18 L599.0,255.22 L600.0,255.27 L601.0,255.32 L602.0,255.36 L603.0,255.41 L604.0,255.45 L605.0,255.50 L606.0,255.54 L607.0,255.59 L608.0,255.63 L609.0,255.68 L610.0,255.72 L611.0,255.77 L612.0,255.81 L613.0,255.85 L614.0,255.90 L615.0,255.94 L616.0,255.98 L617.0,256.03 L618.0,256.07 L619.0,256.11 L620.0,256.16 L621.0,256.20 L622.0,256.24 L623.0,256.29 L624.0,256.33 L625.0,256.37 L626.0,256.41 L627.0,256.46 L628.0,256.50 L629.0,256.54 L630.0,256.58 L631.0,256.62 L632.0,256.67 L633.0,256.71 L634.0,256.75 L635.0,256.79 L636.0,256.83 L637.0,256.87 L638.0,256.91 L639.0,256.96 L640.0,257.00 L641.0,257.04 L642.0,257.08 L643.0,257.12 L644.0,257.16 L645.0,257.20 L646.0,257.24 L647.0,257.28 L648.0,257.32 L649.0,257.36 L650.0,257.40 L651.0,257.44 L652.0,257.48 L653.0,257.52 L654.0,257.56 L655.0,257.59 L656.0,257.63 L657.0,257.67 L658.0,257.71 L659.0,257.75 L660.0,257.78 L661.0,257.82 L662.0,257.86 L663.0,257.89 L664.0,257.93 L665.0,257.97 L666.0,258.00 L667.0,258.04 L668.0,258.08 L669.0,258.11 L670.0,258.15 L671.0,258.18 L672.0,258.22 L673.0,258.26 L674.0,258.29 L675.0,258.33 L676.0,258.36 L677.0,258.40 L678.0,258.43 L679.0,258.47" fill="none" stroke="#7f7440" stroke-width="1.1"/>
<path d="M441.0,244.38 L442.0,244.47 L443.0,244.56 L444.0,244.66 L445.0,244.76 L446.0,244.86 L447.0,244.96 L448.0,245.06 L449.0,245.17 L450.0,245.28 L451.0,245.38 L452.0,245.49 L453.0,245.60 L454.0,245.71 L455.0,245.82 L456.0,245.94 L457.0,246.06 L458.0,246.18 L459.0,246.30 L460.0,246.42 L461.0,246.54 L462.0,246.67 L463.0,246.80 L464.0,246.92 L465.0,247.05 L466.0,247.18 L467.0,247.30 L468.0,247.43 L469.0,247.56 L470.0,247.68 L471.0,247.80 L472.0,247.92 L473.0,248.04 L474.0,248.16 L475.0,248.28 L476.0,248.39 L477.0,248.50 L478.0,248.61 L479.0,248.71 L480.0,248.81 L481.0,248.91 L482.0,249.01 L483.0,249.11 L484.0,249.20 L485.0,249.30 L486.0,249.40 L487.0,249.50 L488.0,249.60 L489.0,249.70 L490.0,249.80 L491.0,249.91 L492.0,250.01 L493.0,250.12 L494.0,250.23 L495.0,250.34 L496.0,250.46 L497.0,250.57 L498.0,250.68 L499.0,250.80 L500.0,250.91 L501.0,251.02 L502.0,251.14 L503.0,251.25 L504.0,251.36 L505.0,251.47 L506.0,251.58 L507.0,251.69 L508.0,251.79 L509.0,251.90 L510.0,252.00 L511.0,252.10 L512.0,252.20 L513.0,252.30 L514.0,252.40 L515.0,252.50 L516.0,252.59 L517.0,252.69 L518.0,252.79 L519.0,252.89 L520.0,252.98 L521.0,253.08 L522.0,253.17 L523.0,253.27 L524.0,253.36 L525.0,253.46 L526.0,253.55 L527.0,253.65 L528.0,253.74 L529.0,253.83 L530.0,253.92 L531.0,254.02 L532.0,254.11 L533.0,254.20 L534.0,254.29 L535.0,254.38 L536.0,254.47 L537.0,254.56 L538.0,254.65 L539.0,254.73 L540.0,254.82 L541.0,254.91 L542.0,255.00 L543.0,255.08 L544.0,255.17 L545.0,255.26 L546.0,255.34 L547.0,255.43 L548.0,255.51 L549.0,255.60 L550.0,255.68 L551.0,255.76 L552.0,255.85 L553.0,255.93 L554.0,256.01 L555.0,256.10 L556.0,256.18 L557.0,256.26 L558.0,256.34 L559.0,256.42 L560.0,256.50 L561.0,256.58 L562.0,256.66 L563.0,256.74 L564.0,256.82 L565.0,256.89 L566.0,256.97 L567.0,257.05 L568.0,257.13 L569.0,257.20 L570.0,257.28 L571.0,257.35 L572.0,257.43 L573.0,257.50 L574.0,257.58 L575.0,257.65 L576.0,257.73 L577.0,257.80 L578.0,257.87 L579.0,257.95 L580.0,258.02 L581.0,258.09 L582.0,258.16 L583.0,258.24 L584.0,258.31 L585.0,258.38 L586.0,258.45 L587.0,258.52 L588.0,258.59 L589.0,258.66 L590.0,258.73 L591.0,258.80 L592.0,258.87 L593.0,258.94 L594.0,259.01 L595.0,259.08 L596.0,259.15 L597.0,259.22 L598.0,259.29 L599.0,259.36 L600.0,259.42 L601.0,259.49 L602.0,259.56 L603.0,259.63 L604.0,259.70 L605.0,259.76 L606.0,259.83 L607.0,259.90 L608.0,259.97 L609.0,260.04 L610.0,260.10 L611.0,260.17 L612.0,260.24 L613.0,260.31 L614.0,260.37 L615.0,260.44 L616.0,260.51 L617.0,260.58 L618.0,260.64 L619.0,260.71 L620.0,260.78 L621.0,260.85 L622.0,260.91 L623.0,260.98 L624.0,261.05 L625.0,261.12 L626.0,261.18 L627.0,261.25 L628.0,261.32 L629.0,261.39 L630.0,261.46 L631.0,261.53 L632.0,261.59 L633.0,261.66 L634.0,261.73 L635.0,261.80 L636.0,261.87 L637.0,261.94 L638.0,262.01 L639.0,262.08 L640.0,262.15 L641.0,262.22 L642.0,262.29 L643.0,262.36 L644.0,262.43 L645.0,262.50 L646.0,262.57 L647.0,262.64 L648.0,262.71 L649.0,262.78 L650.0,262.86 L651.0,262.93 L652.0,263.00 L653.0,263.07 L654.0,263.14 L655.0,263.21 L656.0,263.28 L657.0,263.35 L658.0,263.43 L659.0,263.50 L660.0,263.57 L661.0,263.64 L662.0,263.71 L663.0,263.78 L664.0,263.85 L665.0,263.93 L666.0,264.00 L667.0,264.07 L668.0,264.14 L669.0,264.21 L670.0,264.28 L671.0,264.36 L672.0,264.43 L673.0,264.50 L674.0,264.57 L675.0,264.64 L676.0,264.71 L677.0,264.79 L678.0,264.86 L679.0,264.93" fill="none" stroke="#e3963c" stroke-width="1.0"/>
<path d="M389.0,255.50 L390.0,255.45 L391.0,255.36 L392.0,255.23 L393.0,255.08 L394.0,254.89 L395.0,254.69 L396.0,254.48 L397.0,254.25 L398.0,253.97 L399.0,253.61 L400.0,253.19 L401.0,252.73 L402.0,252.24 L403.0,251.75 L404.0,251.27 L405.0,250.81 L406.0,250.39 L407.0,249.97 L408.0,249.53 L409.0,249.09 L410.0,248.67 L411.0,248.25 L412.0,247.86 L413.0,247.51 L414.0,247.19 L415.0,246.91 L416.0,246.64 L417.0,246.38 L418.0,246.14 L419.0,245.92 L420.0,245.71 L421.0,245.52 L422.0,245.35 L423.0,245.20 L424.0,245.06 L425.0,244.94 L426.0,244.82 L427.0,244.71 L428.0,244.61 L429.0,244.51 L430.0,244.43 L431.0,244.35" fill="none" stroke="#d45a50" stroke-width="1.1"/>
<path d="M431.0,244.35 L432.0,244.29 L433.0,244.22 L434.0,244.16 L435.0,244.10 L436.0,244.04 L437.0,243.98 L438.0,243.92 L439.0,243.87 L440.0,243.82 L441.0,243.77 L442.0,243.73 L443.0,243.69 L444.0,243.66 L445.0,243.63 L446.0,243.62 L447.0,243.60 L448.0,243.60 L449.0,243.60 L450.0,243.60 L451.0,243.60 L452.0,243.60 L453.0,243.60 L454.0,243.60 L455.0,243.60 L456.0,243.60 L457.0,243.60 L458.0,243.60 L459.0,243.60 L460.0,243.60 L461.0,243.60 L462.0,243.60 L463.0,243.60 L464.0,243.60 L465.0,243.60 L466.0,243.60 L467.0,243.60 L468.0,243.60 L469.0,243.60 L470.0,243.60 L471.0,243.60 L472.0,243.60 L473.0,243.60 L474.0,243.60 L475.0,243.60 L476.0,243.60 L477.0,243.60 L478.0,243.60 L479.0,243.60 L480.0,243.61 L481.0,243.61 L482.0,243.62 L483.0,243.63 L484.0,243.64 L485.0,243.66 L486.0,243.67 L487.0,243.68 L488.0,243.70 L489.0,243.72 L490.0,243.74 L491.0,243.75 L492.0,243.77 L493.0,243.80 L494.0,243.82 L495.0,243.84 L496.0,243.86 L497.0,243.89 L498.0,243.91 L499.0,243.93 L500.0,243.96 L501.0,243.98 L502.0,244.01 L503.0,244.03 L504.0,244.06 L505.0,244.08 L506.0,244.11 L507.0,244.13 L508.0,244.15 L509.0,244.18 L510.0,244.20 L511.0,244.22 L512.0,244.25 L513.0,244.27 L514.0,244.30 L515.0,244.32 L516.0,244.35 L517.0,244.37 L518.0,244.40 L519.0,244.43 L520.0,244.46 L521.0,244.49 L522.0,244.52 L523.0,244.55 L524.0,244.58 L525.0,244.61 L526.0,244.64 L527.0,244.67 L528.0,244.70 L529.0,244.73 L530.0,244.76 L531.0,244.80 L532.0,244.83 L533.0,244.86 L534.0,244.90 L535.0,244.93 L536.0,244.96 L537.0,245.00 L538.0,245.03 L539.0,245.07 L540.0,245.10 L541.0,245.14 L542.0,245.17 L543.0,245.21 L544.0,245.24 L545.0,245.28 L546.0,245.31 L547.0,245.35 L548.0,245.38 L549.0,245.42 L550.0,245.45 L551.0,245.49 L552.0,245.52 L553.0,245.56 L554.0,245.59 L555.0,245.63 L556.0,245.66 L557.0,245.70 L558.0,245.73 L559.0,245.77 L560.0,245.80 L561.0,245.83 L562.0,245.87 L563.0,245.90 L564.0,245.94 L565.0,245.97 L566.0,246.01 L567.0,246.04 L568.0,246.08 L569.0,246.12 L570.0,246.15 L571.0,246.19 L572.0,246.23 L573.0,246.26 L574.0,246.30 L575.0,246.34 L576.0,246.37 L577.0,246.41 L578.0,246.45 L579.0,246.49 L580.0,246.52 L581.0,246.56 L582.0,246.60 L583.0,246.64 L584.0,246.68 L585.0,246.72 L586.0,246.75 L587.0,246.79 L588.0,246.83 L589.0,246.87 L590.0,246.91 L591.0,246.95 L592.0,246.99 L593.0,247.03 L594.0,247.07 L595.0,247.10 L596.0,247.14 L597.0,247.18 L598.0,247.22 L599.0,247.26 L600.0,247.30 L601.0,247.34 L602.0,247.38 L603.0,247.42 L604.0,247.46 L605.0,247.49 L606.0,247.53 L607.0,247.57 L608.0,247.61 L609.0,247.65 L610.0,247.69 L611.0,247.72 L612.0,247.76 L613.0,247.80 L614.0,247.84 L615.0,247.88 L616.0,247.91 L617.0,247.95 L618.0,247.99 L619.0,248.03 L620.0,248.06 L621.0,248.10 L622.0,248.14 L623.0,248.17 L624.0,248.21 L625.0,248.24 L626.0,248.28 L627.0,248.31 L628.0,248.35 L629.0,248.38 L630.0,248.42 L631.0,248.45 L632.0,248.49 L633.0,248.52 L634.0,248.55 L635.0,248.59 L636.0,248.62 L637.0,248.65 L638.0,248.68 L639.0,248.72 L640.0,248.75 L641.0,248.78 L642.0,248.81 L643.0,248.84 L644.0,248.87 L645.0,248.90 L646.0,248.93 L647.0,248.96 L648.0,248.99 L649.0,249.02 L650.0,249.04 L651.0,249.07 L652.0,249.10 L653.0,249.13 L654.0,249.16 L655.0,249.18 L656.0,249.21 L657.0,249.24 L658.0,249.26 L659.0,249.29 L660.0,249.32 L661.0,249.34 L662.0,249.37 L663.0,249.39 L664.0,249.42 L665.0,249.44 L666.0,249.47 L667.0,249.49 L668.0,249.52 L669.0,249.54 L670.0,249.57 L671.0,249.59 L672.0,249.61 L673.0,249.64 L674.0,249.66 L675.0,249.69 L676.0,249.71 L677.0,249.73 L678.0,249.75 L679.0,249.78" fill="none" stroke="#e0783a" stroke-width="1.1"/>
<path d="M389.0,253.10 L390.0,252.94 L391.0,252.73 L392.0,252.48 L393.0,252.20 L394.0,251.86 L395.0,251.44 L396.0,250.98 L397.0,250.50 L398.0,249.98 L399.0,249.42 L400.0,248.85 L401.0,248.30 L402.0,247.79 L403.0,247.30 L404.0,246.82 L405.0,246.34 L406.0,245.85 L407.0,245.35 L408.0,244.85 L409.0,244.37 L410.0,243.90 L411.0,243.46 L412.0,243.03 L413.0,242.61 L414.0,242.22 L415.0,241.83 L416.0,241.44 L417.0,241.09 L418.0,240.80 L419.0,240.58 L420.0,240.39 L421.0,240.22 L422.0,240.06 L423.0,239.90 L424.0,239.74 L425.0,239.58 L426.0,239.43 L427.0,239.30 L428.0,239.18 L429.0,239.07 L430.0,238.96 L431.0,238.87 L432.0,238.78 L433.0,238.71 L434.0,238.64 L435.0,238.58 L436.0,238.52 L437.0,238.46 L438.0,238.40 L439.0,238.34 L440.0,238.28 L441.0,238.22 L442.0,238.16 L443.0,238.11 L444.0,238.06 L445.0,238.01 L446.0,237.96 L447.0,237.93 L448.0,237.90 L449.0,237.88 L450.0,237.85 L451.0,237.83 L452.0,237.81 L453.0,237.79 L454.0,237.77 L455.0,237.75 L456.0,237.73 L457.0,237.71 L458.0,237.70 L459.0,237.68 L460.0,237.67 L461.0,237.65 L462.0,237.64 L463.0,237.63 L464.0,237.62 L465.0,237.61 L466.0,237.61 L467.0,237.60 L468.0,237.60 L469.0,237.60 L470.0,237.60 L471.0,237.60 L472.0,237.60 L473.0,237.61 L474.0,237.61 L475.0,237.61 L476.0,237.62 L477.0,237.62 L478.0,237.63 L479.0,237.63 L480.0,237.64 L481.0,237.65 L482.0,237.65 L483.0,237.66 L484.0,237.67 L485.0,237.68 L486.0,237.69 L487.0,237.69 L488.0,237.70 L489.0,237.71 L490.0,237.72 L491.0,237.73 L492.0,237.74 L493.0,237.75 L494.0,237.76 L495.0,237.77 L496.0,237.78 L497.0,237.79 L498.0,237.80 L499.0,237.81 L500.0,237.82 L501.0,237.83 L502.0,237.85 L503.0,237.86 L504.0,237.88 L505.0,237.89 L506.0,237.91 L507.0,237.92 L508.0,237.94 L509.0,237.96 L510.0,237.98 L511.0,238.00 L512.0,238.02 L513.0,238.04 L514.0,238.06 L515.0,238.08 L516.0,238.10 L517.0,238.12 L518.0,238.14 L519.0,238.16 L520.0,238.19 L521.0,238.21 L522.0,238.23 L523.0,238.25 L524.0,238.28 L525.0,238.30 L526.0,238.32 L527.0,238.34 L528.0,238.36 L529.0,238.39 L530.0,238.41 L531.0,238.43 L532.0,238.45 L533.0,238.47 L534.0,238.49 L535.0,238.51 L536.0,238.53 L537.0,238.55 L538.0,238.57 L539.0,238.58 L540.0,238.60 L541.0,238.62 L542.0,238.63 L543.0,238.65 L544.0,238.66 L545.0,238.68 L546.0,238.70 L547.0,238.71 L548.0,238.73 L549.0,238.74 L550.0,238.75 L551.0,238.77 L552.0,238.78 L553.0,238.80 L554.0,238.81 L555.0,238.83 L556.0,238.84 L557.0,238.85 L558.0,238.87 L559.0,238.88 L560.0,238.89 L561.0,238.91 L562.0,238.92 L563.0,238.93 L564.0,238.95 L565.0,238.96 L566.0,238.97 L567.0,238.99 L568.0,239.00 L569.0,239.01 L570.0,239.03 L571.0,239.04 L572.0,239.05 L573.0,239.07 L574.0,239.08 L575.0,239.09 L576.0,239.11 L577.0,239.12 L578.0,239.13 L579.0,239.15 L580.0,239.16 L581.0,239.18 L582.0,239.19 L583.0,239.21 L584.0,239.22 L585.0,239.24 L586.0,239.25 L587.0,239.27 L588.0,239.28 L589.0,239.30 L590.0,239.32 L591.0,239.33 L592.0,239.35 L593.0,239.37 L594.0,239.38 L595.0,239.40 L596.0,239.42 L597.0,239.44 L598.0,239.45 L599.0,239.47 L600.0,239.49 L601.0,239.51 L602.0,239.53 L603.0,239.55 L604.0,239.57 L605.0,239.59 L606.0,239.61 L607.0,239.63 L608.0,239.65 L609.0,239.67 L610.0,239.69 L611.0,239.71 L612.0,239.73 L613.0,239.76 L614.0,239.78 L615.0,239.80 L616.0,239.82 L617.0,239.84 L618.0,239.87 L619.0,239.89 L620.0,239.91 L621.0,239.94 L622.0,239.96 L623.0,239.98 L624.0,240.01 L625.0,240.03 L626.0,240.05 L627.0,240.08 L628.0,240.10 L629.0,240.13 L630.0,240.15 L631.0,240.17 L632.0,240.20 L633.0,240.22 L634.0,240.25 L635.0,240.27 L636.0,240.30 L637.0,240.32 L638.0,240.35 L639.0,240.37 L640.0,240.40 L641.0,240.43 L642.0,240.45 L643.0,240.48 L644.0,240.50 L645.0,240.53 L646.0,240.56 L647.0,240.59 L648.0,240.61 L649.0,240.64 L650.0,240.67 L651.0,240.70 L652.0,240.72 L653.0,240.75 L654.0,240.78 L655.0,240.81 L656.0,240.84 L657.0,240.87 L658.0,240.90 L659.0,240.93 L660.0,240.96 L661.0,240.99 L662.0,241.02 L663.0,241.05 L664.0,241.08 L665.0,241.11 L666.0,241.14 L667.0,241.18 L668.0,241.21 L669.0,241.24 L670.0,241.27 L671.0,241.30 L672.0,241.34 L673.0,241.37 L674.0,241.40 L675.0,241.43 L676.0,241.47 L677.0,241.50 L678.0,241.53 L679.0,241.57" fill="none" stroke="#1f47a8" stroke-width="2.5"/>
</g>
<line x1="416.0" y1="288.7" x2="416.0" y2="298.5" stroke="#111" stroke-width="1.4"/>
<line x1="406.10" y1="288.7" x2="425.90" y2="288.7" stroke="#111" stroke-width="1.4"/>
<line x1="406.10" y1="298.5" x2="425.90" y2="298.5" stroke="#111" stroke-width="1.4"/>
<path d="M409.10,293.60 L416.00,286.60 L422.90,293.60 L416.00,300.60 Z" fill="#2a50a8" stroke="#0a0a20" stroke-width="1"/>
<line x1="475.8" y1="273.7" x2="475.8" y2="283.4" stroke="#111" stroke-width="1.4"/>
<line x1="465.90" y1="273.7" x2="485.70" y2="273.7" stroke="#111" stroke-width="1.4"/>
<line x1="465.90" y1="283.4" x2="485.70" y2="283.4" stroke="#111" stroke-width="1.4"/>
<path d="M468.90,278.50 L475.80,271.50 L482.70,278.50 L475.80,285.50 Z" fill="#2a50a8" stroke="#0a0a20" stroke-width="1"/>
<line x1="613.0" y1="274.4" x2="613.0" y2="294.6" stroke="#111" stroke-width="1.4"/>
<line x1="603.10" y1="274.4" x2="622.90" y2="274.4" stroke="#111" stroke-width="1.4"/>
<line x1="603.10" y1="294.6" x2="622.90" y2="294.6" stroke="#111" stroke-width="1.4"/>
<path d="M606.10,284.40 L613.00,277.40 L619.90,284.40 L613.00,291.40 Z" fill="#2a50a8" stroke="#0a0a20" stroke-width="1"/>
<line x1="389.0" y1="177.3" x2="389.0" y2="304.4" stroke="#aaa" stroke-width="1.1"/>
<line x1="388.5" y1="177.3" x2="679.7" y2="177.3" stroke="#222" stroke-width="1.0"/>
<line x1="679.7" y1="177.3" x2="679.7" y2="304.4" stroke="#222" stroke-width="0.9"/>
<line x1="389.0" y1="304.4" x2="679.7" y2="304.4" stroke="#222" stroke-width="0.9"/>
<line x1="389.00" y1="304.4" x2="389.00" y2="307.7" stroke="#333" stroke-width="0.9"/>
<text x="354.14" y="319.20" font-size="10.45" fill="#1c1c1c" stroke="#1c1c1c" stroke-width="0.18" transform="scale(1.0895,1)">1</text>
<line x1="437.45" y1="304.4" x2="437.45" y2="307.7" stroke="#333" stroke-width="0.9"/>
<text x="398.61" y="319.20" font-size="10.45" fill="#1c1c1c" stroke="#1c1c1c" stroke-width="0.18" transform="scale(1.0895,1)">3</text>
<line x1="485.90" y1="304.4" x2="485.90" y2="307.7" stroke="#333" stroke-width="0.9"/>
<text x="443.08" y="319.20" font-size="10.45" fill="#1c1c1c" stroke="#1c1c1c" stroke-width="0.18" transform="scale(1.0895,1)">5</text>
<line x1="534.35" y1="304.4" x2="534.35" y2="307.7" stroke="#333" stroke-width="0.9"/>
<text x="487.55" y="319.20" font-size="10.45" fill="#1c1c1c" stroke="#1c1c1c" stroke-width="0.18" transform="scale(1.0895,1)">7</text>
<line x1="582.80" y1="304.4" x2="582.80" y2="307.7" stroke="#333" stroke-width="0.9"/>
<text x="532.02" y="319.20" font-size="10.45" fill="#1c1c1c" stroke="#1c1c1c" stroke-width="0.18" transform="scale(1.0895,1)">9</text>
<line x1="631.25" y1="304.4" x2="631.25" y2="307.7" stroke="#333" stroke-width="0.9"/>
<text x="573.58 579.39" y="319.20" font-size="10.45" fill="#1c1c1c" stroke="#1c1c1c" stroke-width="0.18" transform="scale(1.0895,1)">11</text>
<line x1="679.70" y1="304.4" x2="679.70" y2="307.7" stroke="#333" stroke-width="0.9"/>
<text x="618.05 623.86" y="319.20" font-size="10.45" fill="#1c1c1c" stroke="#1c1c1c" stroke-width="0.18" transform="scale(1.0895,1)">13</text>
<line x1="385.7" y1="304.40" x2="389.0" y2="304.40" stroke="#333" stroke-width="0.9"/>
<text x="345.08" y="308.00" font-size="10.45" fill="#1c1c1c" stroke="#1c1c1c" stroke-width="0.18" transform="scale(1.0895,1)">0</text>
<line x1="385.7" y1="272.62" x2="389.0" y2="272.62" stroke="#333" stroke-width="0.9"/>
<text x="339.27 345.08" y="276.23" font-size="10.45" fill="#1c1c1c" stroke="#1c1c1c" stroke-width="0.18" transform="scale(1.0895,1)">10</text>
<line x1="385.7" y1="240.85" x2="389.0" y2="240.85" stroke="#333" stroke-width="0.9"/>
<text x="339.27 345.08" y="244.45" font-size="10.45" fill="#1c1c1c" stroke="#1c1c1c" stroke-width="0.18" transform="scale(1.0895,1)">20</text>
<line x1="385.7" y1="209.07" x2="389.0" y2="209.07" stroke="#333" stroke-width="0.9"/>
<text x="339.27 345.08" y="212.67" font-size="10.45" fill="#1c1c1c" stroke="#1c1c1c" stroke-width="0.18" transform="scale(1.0895,1)">30</text>
<line x1="385.7" y1="177.30" x2="389.0" y2="177.30" stroke="#333" stroke-width="0.9"/>
<text x="339.27 345.08" y="180.90" font-size="10.45" fill="#1c1c1c" stroke="#1c1c1c" stroke-width="0.18" transform="scale(1.0895,1)">40</text>
<text x="442.00 447.77 449.95 455.50 463.96 469.86 472.85 478.54 482.05 485.17 488.23 493.88 502.80" y="332.20" font-size="10.45" fill="#1c1c1c" stroke="#1c1c1c" stroke-width="0.18" transform="scale(1.1278,1)">diameter [nm]</text>
<g transform="rotate(-90 363.20 240.30)"><text x="277.40 283.23 286.62 292.13 299.84 302.96 308.66 311.62 315.02 320.95 323.99 329.60 332.76 335.87 341.59 350.25 353.04" y="240.30" font-size="10.45" fill="#1c1c1c" stroke="#1c1c1c" stroke-width="0.18" transform="scale(1.1160,1)">growth rate [nm h</text><text x="325.22 329.50" y="236.70" font-size="7.31" fill="#1c1c1c" stroke="#1c1c1c" stroke-width="0.16" transform="scale(1.2314,1)">−1</text><text x="330.38" y="240.30" font-size="10.45" fill="#1c1c1c" stroke="#1c1c1c" stroke-width="0.16" transform="scale(1.2500,1)">]</text></g>
<text x="356.71 362.52" y="188.80" font-size="10.45" fill="#1c1c1c" stroke="#1c1c1c" stroke-width="0.18" transform="scale(1.0977,1)">d)</text>
<rect x="511.8" y="182.3" width="163.6" height="55.2" rx="2" fill="#fff" fill-opacity="0.8" stroke="#ccc" stroke-width="0.6"/>
<rect x="515" y="186.30" width="18.9" height="6.8" fill="#b4b8e1"/>
<rect x="515" y="199.05" width="18.9" height="6.8" fill="#6ea676"/>
<rect x="515" y="211.80" width="18.9" height="6.8" fill="#f5d2aa"/>
<rect x="515" y="224.55" width="18.9" height="6.8" fill="#f0aaa0"/>
<text x="488.77 493.92 498.63 503.79 506.37 508.72 513.23 517.74 522.48 525.26 530.40 538.13 543.51 546.48 548.53 553.09 555.64 560.77 565.83 570.29 575.49 579.01 581.77 586.95 589.07 594.54 597.48" y="192.70" font-size="9.40" fill="#1c1c1c" stroke="#1c1c1c" stroke-width="0.18" transform="scale(1.1046,1)">exp. systematic uncertainty</text>
<text x="496.53 503.51 505.68 511.87 514.92 520.07 525.22 530.37 535.51 540.73 545.88 551.03 556.56 559.48 562.01 567.06 571.98 575.00 577.28 582.16 584.66 587.67 592.46 594.99 599.51 604.56 609.85 612.75 615.51" y="205.50" font-size="9.40" fill="#1c1c1c" stroke="#1c1c1c" stroke-width="0.18" transform="scale(1.0866,1)">O:C-dependent activity coeff.</text>
<text x="492.51 497.60 502.83 506.37 509.36 511.44 516.12 518.20 523.31 525.89 531.07 536.16 541.05 545.42 550.54 553.12 558.42 560.73 563.60 566.32 571.29 575.86 577.92 583.00 588.20 590.89 593.16 595.40 603.28" y="218.20" font-size="9.40" fill="#1c1c1c" stroke="#1c1c1c" stroke-width="0.18" transform="scale(1.0964,1)">particle phase diffusion lim.</text>
<text x="497.17 502.31 507.58 511.15 514.17 516.28 520.99 523.10 528.25 530.87 536.10 541.23 546.17 550.59 555.74 558.36 563.51 568.57 573.09 578.33 586.26 591.39 596.32 600.92 603.42 606.44 608.54 613.67" y="230.90" font-size="9.40" fill="#1c1c1c" stroke="#1c1c1c" stroke-width="0.18" transform="scale(1.0861,1)">particle phase decomposition</text>
</svg>
</body></html>
